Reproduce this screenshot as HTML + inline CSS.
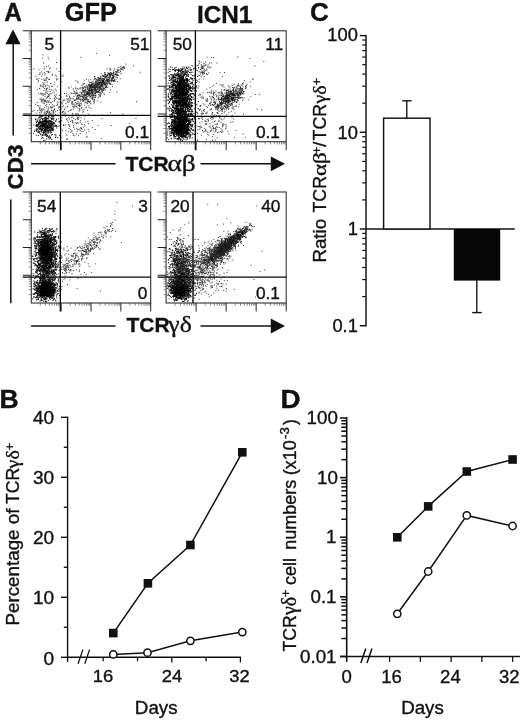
<!DOCTYPE html>
<html><head><meta charset="utf-8"><title>Figure</title>
<style>
html,body{margin:0;padding:0;background:#fff;}
body{width:520px;height:722px;overflow:hidden;font-family:"Liberation Sans",sans-serif;}
text{stroke:#111;stroke-width:0.35px;paint-order:stroke;}
svg{display:block;filter:grayscale(1);font-family:"Liberation Sans",sans-serif;}
</style></head><body>
<svg width="520" height="722" viewBox="0 0 520 722">
<defs><filter id="bl" x="-5%" y="-5%" width="110%" height="110%"><feGaussianBlur stdDeviation="0.38"/></filter></defs>
<rect width="520" height="722" fill="#fff"/>
<text transform="translate(4.20 21.30) scale(0.96 1)" font-size="25.3" font-weight="bold" text-anchor="start" fill="#111">A</text>
<text transform="translate(-0.60 407.70)" font-size="26.5" font-weight="bold" text-anchor="start" fill="#111">B</text>
<text transform="translate(309.90 21.40) scale(1.02 1)" font-size="25.5" font-weight="bold" text-anchor="start" fill="#111">C</text>
<text transform="translate(280.60 407.70) scale(1.05 1)" font-size="26.5" font-weight="bold" text-anchor="start" fill="#111">D</text>
<text transform="translate(64.80 21.20) scale(0.99 1)" font-size="25.6" font-weight="bold" text-anchor="start" fill="#111">GFP</text>
<text transform="translate(196.90 22.80) scale(0.98 1)" font-size="24.8" font-weight="bold" text-anchor="start" fill="#111">ICN1</text>
<path d="m122.4 67.3h1m-.7 .7h1m-.8-1.1h1m-.3 .1h1m-.7 1.2h1m-15.6 1.8h1m5.1 1.9h1m-.8-.3h1m.3-1.5h1m-.6 1.7h1m1.2-1.9h1m-.6 1.8h1m-.6-2.7h1m.3 .3h1m-18.6 3.5h1m-.3 1.7h1m1.8-1.6h1m-.6 .9h1m-.7-.2h1m-1 .3h1m0 .5h1m-.6-1.5h1m-.2 1.5h1m-.9-1.1h1m-.3 1.4h1m-.9-1.4h1m.4 1.5h1m-.8-1.6h1m-.9-.6h1m-.9-.6h1m1 2.2h1m-.7 .2h1m.4 .4h1m2.8-1h1m-27.6 2.8h1m3.1 1.2h1m3.7-1.2h1m-.7-.5h1m.2 0h1m-.8 .9h1m-.8 .4h1m-.1-.9h1m-.3 .1h1m-.9-.7h1m-.7-.6h1m-.8 0h1m-.9-.2h1m-.2 2.3h1m.5-.7h1m-1-1.5h1m-.9 .3h1m1.5 0h1m-.6 1.9h1m-.9-2.3h1m-.9 .7h1m-.9 2h1m-.8-1.2h1m-.9 1h1m-.2-.9h1m-19.7 2.1h1m1.3 1.4h1m-.7-1.1h1m.3 1.2h1m-.5-2.1h1m-.8 .5h1m-.7-.1h1m.5 1.3h1m-.9-1.5h1m-.7 .4h1m-.9 1.8h1m-.4 .2h1m-.7 .1h1m-.9-.4h1m-.6-1.3h1m-.7 .2h1m-.2-1h1m.1 2.1h1m-.6-1.3h1m-.2-1.2h1m-.8 2.4h1m-.7-.2h1m-.7-.6h1m-.8 .7h1m-.9-.8h1m-.1 .3h1m-.8-1.6h1m-.4 2.2h1m.4-.4h1m-.3-1.9h1m.2 .1h1m-.8 2.5h1m-.2-.8h1m-.6 .8h1m-25.7 1.9h1m1.9 1h1m-.1-.4h1m1.1-1.4h1m-.1 .1h1m-.5 1.7h1m-.6-.6h1m-.1-.6h1m-.1 .1h1m-.9 .8h1m-.4-.4h1m-.9-1.8h1m-.8 1.5h1m-.2 .9h1m-1 .2h1m-.6-1.2h1m-.9 .6h1m-.8-.5h1m-.8-.8h1m-.7 1h1m-1-1.3h1m-.3 1.7h1m-.8-1.8h1m-.6 2h1m-.9-.1h1m-.9-.8h1m-.1 .5h1m-.8-1h1m-.1 1.9h1m-.6-.2h1m-.8-.8h1m-.5-1.2h1m-.2-.7h1m-.6 1h1m-.8-.2h1m.2 1.5h1m-.8-.3h1m.4-1.3h1m.9-.3h1m.6 0h1m-33.7 4.5h1m6.6-.4h1m-.4 1.1h1m-.8-.3h1m-.6-1.2h1m-.4 .7h1m-.8 0h1m-1 1h1m-.9-2.2h1m-.1 2h1m.1-1.5h1m-.7-.1h1m-.9 1h1m-1-.6h1m-.9 .9h1m-.2-1.9h1m-.7 2.4h1m-.7-2.7h1m-.9 .3h1m-.5 2.1h1m-1-.1h1m-.7-1.3h1m-.8 1.6h1m-.8-.6h1m-.5-.8h1m-.9 .3h1m-.8-1.4h1m-.2 .4h1m-.9 .3h1m-.9 1.3h1m-.9-1.8h1m.9 1.5h1m-.9-.1h1m-.5-.8h1m-.7 .9h1m-.5-.2h1m-.9-.3h1m-.5 .9h1m-1-1.3h1m-.8-.1h1m.9-.5h1m-.6-.1h1m0 2.2h1m-.8-.2h1m-24.3 1.9h1m1.8-.3h1m.8 .6h1m-.4 1.4h1m-.2-2.9h1m-1 .7h1m-.7 1.1h1m-.6-.1h1m.2 1.2h1m-.5-.5h1m-.7-1.2h1m-.4-.7h1m-.3 2.1h1m-.9-2.5h1m-.1 1h1m-.5-.3h1m-.9 .2h1m-.9 1.9h1m-.9-.1h1m-.8-2.2h1m-.6 .7h1m-.7-.7h1m0-.3h1m-.7 .8h1m-.7 .9h1m.2-1.9h1m-.8 2h1m-.5-1.1h1m-1-.6h1m-.2 2.1h1m-.4-1.8h1m1.2-.3h1m.1 1.3h1m-.8 0h1m.1-1.2h1m.4 .2h1m-24.9 3.1h1m-.8-.4h1m-.6 1.5h1m-.2 0h1m-.7-1.6h1m-.7 1.9h1m1.8 .6h1m-.1-2.2h1m-.9 1.9h1m-1-2.1h1m-.9-.2h1m-.9 2.1h1m-.8-.4h1m-.6-1h1m-.9-.9h1m-.4 .6h1m-1 .3h1m-.9-.5h1m0 .1h1m-1-.3h1m-1 2.4h1m-.1-2.4h1m-.4 .7h1m-.9 .7h1m1.3 1.1h1m-.2-2.3h1m-.8 .5h1m-.1 .6h1m-.1 .8h1m-1-1h1m-.4 .2h1m0-1h1m2.9-.4h1m-.7 .3h1m-28.6 3h1m2.3 2h1m3.5-.6h1m-.9 .2h1m.7 .5h1m-.4-1.9h1m-.7-.3h1m-.6 1.5h1m-.7-.9h1m-1-.3h1m-.7 .7h1m-.5-.5h1m-.4-.3h1m-.8-.3h1m-.7 1.2h1m-.9-.4h1m-.9 .4h1m.8-.4h1m-.6 1.4h1m-.7-.5h1m-.5-1.3h1m-.4 1.9h1m-.3 0h1m-.8-1.9h1m.1-.4h1m-.9 .3h1m-.9 2.2h1m-.4-.6h1m3.1 0h1m-31.3 1.3h1m6.3 2.3h1m6-.4h1m.3-1h1m4.1-1h1m3.7 1h1m-19.1 1.8h1m4.4 .4h1m-1 .2h1m.5 1.4h1m.5-1.5h1m1.4 1.8h1m-.9-1.6h1m-.5 .2h1m-13.6 2.6h1m3.3 1.1h1m8.2-1.7h1m.7 1.9h1m-13.2 1.8h1m-.5-.6h1m-.4 .5h1m-1.3 3.3h1m.7-.8h1m-37.3 5h1m1.8-.4h1m1-.8h1m2.4-.3h1m-17.3 4.2h1m-.8-.4h1m1.3 1.5h1m.5-1.3h1m-.7 1h1m-.1-.4h1m-.7-.1h1m-.4-.8h1m-.7 .2h1m-.1 .1h1m0 .4h1m-.5-1.1h1m-.5 1.1h1m1.1 .5h1m-.1-.5h1m3.5 .3h1m-19.2 2.9h1m-.8 .6h1m.4-.8h1m.8 0h1m-.2-1.3h1m-.3 2.1h1m-.2-1.2h1m.1 0h1m-.8 1.3h1m-.8-.4h1m.1-.8h1m-.5 0h1m-.6-.2h1m-.7-.9h1m-.7 2.2h1m-.7-2.3h1m-.9 1.5h1m-.9 .6h1m-.3-1.1h1m-.8-.7h1m-.8 .8h1m-.3 0h1m-.8 .1h1m-.1-.9h1m1.6 .8h1m-.6 0h1m-.6 .7h1m-.1-.9h1m-.8-.1h1m-.9 .6h1m2.2 .4h1m-21.3 2.7h1m-.6 .6h1m-.3-1.4h1m-.8 .1h1m0 1.1h1m-.7 .1h1m-.6-1.7h1m-.6 1.7h1m-1-.8h1m-.7-1.5h1m-.9 2.6h1m-.5-.8h1m-.9-.4h1m-1 .8h1m-.1 .5h1m-.7-1.1h1m-.9-.1h1m-.5-.2h1m-.8 .6h1m-1 .7h1m-.3-.5h1m-.9-.9h1m-.6 .1h1m-.9-.2h1m-.9-.5h1m-.8 1.1h1m-1-1.2h1m-.9 1.3h1m-.8-2h1m-.7 .8h1m-.9 .8h1m-1-1h1m-.9 .9h1m-.9-.9h1m-.8 2.3h1m-.9-.9h1m-.9 .5h1m-1-1.3h1m-1-.3h1m-.7 .5h1m-.8-.3h1m-.8-.1h1m-.9-.7h1m-.9 .3h1m-1 1.2h1m-1-1.5h1m-.9 .1h1m-.7 2.2h1m-1-1.5h1m-.9 1.5h1m-1-2.4h1m-.7 2h1m-1-.4h1m-.6-.6h1m-.9 .2h1m-.6 .2h1m-.9 .7h1m-.8-.3h1m-.8-1h1m-.9 1.9h1m-.8-.2h1m-.6 0h1m-1-1.7h1m-.7-.2h1m-.8-.5h1m-.8 .3h1m-.9 .3h1m-1 .7h1m-1-.3h1m-.2 .4h1m-1 .2h1m-.8 .7h1m-.8-1.6h1m-.9 1.4h1m-.8-.5h1m0 0h1m.1 .7h1m1.2-1.4h1m2.5 .2h1m-26.6 3.6h1m1.2 .5h1m-.6-1.2h1m-.8 1h1m-.9 0h1m-.9-.5h1m-.4 .7h1m-.7-1.3h1m-.6 .4h1m-1 1.3h1m-.7-1h1m-.7-.6h1m-1-.8h1m-.8-.1h1m-.5 .7h1m-.3 .7h1m-.5-1.6h1m-.9 2.6h1m-1-.3h1m-.4-1.4h1m-.9 1.1h1m-1-1.8h1m-.5 1.5h1m-1 .1h1m-.8 .8h1m-1-.8h1m-.9-1.1h1m-.9 1.5h1m-.7-.4h1m-.9 .7h1m-.8-2.2h1m-1 1.2h1m-.8-.4h1m-.9-.9h1m-.7 1.8h1m-1-1.1h1m-.8 1.5h1m-1-.6h1m-.9 .2h1m-1-2.1h1m-.7 1.7h1m-.7 1h1m-1-.1h1m-1-1.9h1m-.9 0h1m-.9 1h1m-.9-1.4h1m-.8 2.3h1m-.9-1.3h1m-1 .1h1m-.5-.8h1m-1 .2h1m-1 1.4h1m-.8-.9h1m-.5-.4h1m-1 .9h1m-.9-1.3h1m-1-.3h1m-.7 2.5h1m-.8-2.6h1m-.9 2.2h1m-1-1.1h1m-.8 1.5h1m-.8-.1h1m-.5-.1h1m-1-1.8h1m-.9 1.3h1m-.5-.9h1m-.3 .8h1m-1 .2h1m-1-1.5h1m-.7 .4h1m-1 .9h1m-.6 .2h1m-.9-1.1h1m-.9 1.7h1m-.9-1.2h1m-.8-.6h1m-.6-.6h1m-.9 .2h1m-.5 1.9h1m-1-1.2h1m-.8-.1h1m-.9-.3h1m-.7 .3h1m-.8 .3h1m-1-1.2h1m-.9 .9h1m-.7 .6h1m-.6-.7h1m-1 .6h1m-.5-1.5h1m-.5 1.9h1m-.9-2h1m-.8 .2h1m-.6-.1h1m.1 1.9h1m-.6 .6h1m-.6-.1h1m1.7 .3h1m-24 .6h1m-.4 2.3h1m-.9 .1h1m-1-2.3h1m-.2 .2h1m-.1 .4h1m-.6 1.5h1m-.9-.4h1m-1-2.2h1m-.8 1.1h1m-.7-.7h1m-.8 2.3h1m-.9-2.4h1m-.7 2.2h1m-.9-.1h1m-1-2.1h1m-.7 1h1m-.7-1.2h1m-1 2.4h1m-.6-.7h1m-.6-1.5h1m-.3 2.4h1m-.8-2.1h1m-1 1.1h1m-.9-1.6h1m-.9 .6h1m-.9-.8h1m-1 .6h1m-.7 0h1m-.9-.3h1m-.8 2.2h1m-1-2.2h1m-.8 .3h1m-.6-.2h1m-.9 .2h1m-.9 .9h1m-1-.2h1m-.9 .6h1m-.9-.9h1m-.9 .4h1m-.9-.3h1m-.7-.2h1m-1-.4h1m-.9 1.4h1m-.8-.8h1m-.9 .1h1m-1-.9h1m-1 2.3h1m-.9-.1h1m-1-1.1h1m-1-1h1m-.8 .8h1m-.9 1.2h1m-.9-1h1m-.8-.9h1m-1 1.5h1m-.8-.4h1m-.9-.5h1m-.8 0h1m-1 .1h1m-.9 1.7h1m-.8-.5h1m-1-2.1h1m-.9 1.3h1m-1-.8h1m-.9-.3h1m-1 .1h1m-.9 .4h1m-1 .5h1m-.9 1.4h1m-1-2.3h1m-.9-.4h1m-.7-.1h1m-1 1.3h1m-1 1.2h1m-.8-1.2h1m-.7 .7h1m-.8 .6h1m-.9-1.5h1m-1-1.1h1m-.8 1.9h1m-.8-.9h1m-.9-.9h1m-.9 .8h1m-.8 .4h1m-.8-1.2h1m-.8 1.3h1m-.8 .7h1m-.5-.8h1m-.9-1.1h1m-.9 2.6h1m-.7-2.9h1m-1 .2h1m-1 .7h1m-.9 .9h1m-.8 .3h1m-.4-.4h1m-1-1h1m-1 1.8h1m-.7 .1h1m-.6-2.6h1m-.7 2.5h1m-.9-1.4h1m-.4 .9h1m-.6-1.9h1m-.7 .1h1m.5-.1h1m-.4 .8h1m.6-.5h1m-24.4 5h1m-.4-1.2h1m.4 .6h1m-1 .1h1m-.4-1.4h1m-1 .4h1m-.6 2h1m0 0h1m-.8-1.1h1m-.5 .7h1m-.9-2.3h1m0 .4h1m-.4 1.5h1m-.6 .5h1m-1-.6h1m-.6-1.1h1m-.9-.6h1m-1 .7h1m-.7-.9h1m-1 1.3h1m-.8-.7h1m0 1.3h1m-.9-.2h1m-.5 1h1m-.4-2.1h1m-.9 .9h1m-.9 .4h1m-1 .8h1m-.9-2.7h1m-1 1.4h1m-.8-.4h1m-.9-.4h1m-.7 1.8h1m-1-1.1h1m-.9-1.4h1m-1 2.6h1m-1-.9h1m-.9 .9h1m-1-1h1m-.9 .9h1m-1-1.1h1m-1 .9h1m-.9-1.3h1m-.8-.6h1m-1 1.7h1m-.8-1.2h1m-.3-.4h1m-.7 .3h1m-.9 1h1m-.9 .2h1m-.5-2h1m-.7 1.8h1m-.8 .7h1m-.7-.5h1m-.9-.5h1m-.6-1.4h1m-.9 1h1m-.8-.5h1m-.5 .2h1m-.8 2h1m-.9-1.2h1m-.7 0h1m-.7 1.2h1m-.6-2.3h1m-.3 1h1m-1-.2h1m-.8-.8h1m-.8-.4h1m-.9 1.4h1m-.7 .1h1m-.9-.6h1m-.1-.2h1m-21.2 3.6h1m4.2-.9h1m-.6 .1h1m-.2 1h1m-.4 .7h1m.6 .3h1m-1-1.9h1m.3 .6h1m-.7-1.2h1m-1 .3h1m-.8 .1h1m-.7 .5h1m.2 1.4h1m-.9-.6h1m-1-1.7h1m-1 2.6h1m-.6 .1h1m-.9-.8h1m-.2 .1h1m-1-1.9h1m-.8 .6h1m.6 .3h1m-.8-.5h1m.7 .4h1m.1-.5h1m-.3 2.1h1m1.5 .1h1m-.1 .1h1m-20.6 .5h1m1.4 .3h1m2.8-.1h1m-1 2.1h1m0-2.6h1m.1 0h1m.3 .1h1m-.5 .1h1m-.7 1.3h1m-.4-.3h1m-.7-.8h1m-.3 2.3h1m-.7-.8h1m-.1-.9h1m-.8 1.9h1m0-.5h1m-.1-2.4h1m3.1 2.5h1m-.6-1.5h1m.7 1.6h1m-14.9 2.9h1m.2-.3h1m.7-1.3h1m1.5 .1h1m.2-.9h1m.4 1.2h1" stroke="#000" stroke-width="1.0" fill="none" filter="url(#bl)"/>
<path d="m96.1 53.4h1m-54.5 1.5h1m65.5 .5h1m-67.9 2.8h1m4.4-.8h1m-.1 1.7h1m31-1.7h1m-25.5 5.1h1m-.8 .1h1m-14.1 .6h1m81.2 .9h1m6.8 1.6h1m-100.8 3.2h1m9.3-2h1m-.5 1.7h1m.9-2h1m1.1-.5h1m-.1 2.5h1m-.1-.8h1m5.3 1.1h1m49.5-.1h1m1.8-.6h1m3.4 .5h1m2.8-1.1h1m.9-.6h1m-.2 1.5h1m-.7-2.4h1m0 1.5h1m1.7 .2h1m-87 1.9h1m6.9 1.8h1m.2 .2h1m-.6-.5h1m9.6 .3h1m50.9-2h1m2.1 .7h1m1 1.2h1m.9-2h1m-.8 .6h1m-.5 .6h1m2.2-1.5h1m.5 1h1m-85.1 4.4h1m-.3-2.2h1m-.8 1.6h1m.7-1.9h1m-.4 2.2h1m.9-1.7h1m0 1.3h1m2.2-1.2h1m.3-.5h1m1.6 2.2h1m-.9 .6h1m47.7-1.1h1m2.6 .9h1m-.5-1.8h1m-1 1.2h1m.7 .6h1m.5-1.1h1m0 1.3h1m-.9-1.4h1m-.1 1.1h1m-.7-2.2h1m-.6 1.5h1m-.8-.5h1m-.8 .1h1m-1 .1h1m-.9 0h1m1.5-.6h1m-.8 1.8h1m-.1 0h1m-.6-1.1h1m-.7 .6h1m-.6-1.8h1m-.8 2.3h1m-.6-.7h1m-.5-2.1h1m.5 .5h1m20.3-.2h1m-105.2 3.7h1m4.5 .1h1m1.7-1.1h1m1.3 2.4h1m7.8-2.2h1m.1 .9h1m5.2 .2h1m-.5-1.2h1m30.7 2h1m1.9 .5h1m-.3 .2h1m.8-1.1h1m-.9 .5h1m-.3-1.1h1m.6-.8h1m-.5 .3h1m-.8 .7h1m-.7-.3h1m.3 1.4h1m-.9-2.1h1m-.4 1.6h1m-.9 .8h1m-1-.8h1m.1-1.1h1m.5 1.9h1m-.9-.2h1m-.6-1.5h1m.4 1.6h1m-.9-1.1h1m-.6-.9h1m1 2.3h1m-.8-.8h1m1.8-.1h1m-.4-2h1m-.7 2.3h1m-.4-1.9h1m-.7 2.4h1m-.7-2.2h1m-.9-.1h1m-.9-.2h1m-82.5 4.1h1m-.4-.4h1m.3 1.4h1m-.7-2.2h1m2.1 1h1m1.2 1.1h1m-1-1.3h1m-.3 1.5h1m.1-.3h1m-.8-1.6h1m-1 1.3h1m.5-1.8h1m0 1.1h1m-.1 .3h1m6-.6h1m-1 1.1h1m.4-.9h1m17 1.5h1m7.3-.4h1m1.2-.9h1m1.3 .7h1m1.1-.3h1m2.3-.1h1m-.6-.9h1m.6 2.1h1m-.6-1.5h1m-.9 .7h1m.5-.2h1m-.8 .3h1m-.4-.1h1m-.8 .2h1m-.8-1.2h1m-.5 .8h1m-.9-1.1h1m-.8-.2h1m-.4 .2h1m-.9 2.2h1m-.8-.8h1m-.4-.5h1m-.6-1.4h1m-.1 .2h1m-.9 .7h1m-.5-.3h1m-.1 .8h1m-.9 0h1m.6 .8h1m-.6-1.1h1m-.9 .6h1m1.4-1.8h1m-.4 .2h1m-.8 2.4h1m.4-1.4h1m-.5-1.1h1m-1 2.3h1m-1-.3h1m-.9 .5h1m-.7-.9h1m-1-.9h1m-1 1.3h1m-.8-1.6h1m-.8 1.5h1m-.7-2.1h1m.7 1.2h1m.6 .5h1m3.1-.9h1m-83.1 3.3h1m3.8 .7h1m.9-.6h1m1.6-.4h1m2.2 1.7h1m-.7 0h1m2.8-1.2h1m5.4-.6h1m15.6 0h1m-.6 1h1m4.2 1h1m.2-.2h1m3.6-1.7h1m.5 .8h1m.1 .3h1m-.8-.1h1m-.9-1h1m-.3 1.9h1m-.6-2.5h1m.6 1.7h1m-.1-1.4h1m-.6 1.1h1m-.9 .5h1m-.9-.3h1m.1-1.8h1m-.1 .3h1m-.8 .7h1m-.8 1.3h1m-.7-.1h1m-.8 0h1m-.4-1.3h1m-.9 1.6h1m-.1-.7h1m-.3 1h1m-.7-2.8h1m-1 1.2h1m.4 1h1m-.8-.7h1m.2 1.1h1m-.8-.3h1m-1-2.1h1m-.7 .9h1m-.3 1h1m-.8-2.1h1m0 .2h1m-.4 0h1m-.8 2.4h1m-.7-.5h1m0-1.4h1m-.9 .1h1m7.4-.1h1m-78.1 3.4h1m-.5 1.1h1m-.9-.3h1m.3 .7h1m-.4-1.5h1m-.5-1.1h1m-.6 2.2h1m.1-1.9h1m-.2 2.4h1m-.9-1.3h1m.9-.3h1m.2 .9h1m1.6 .2h1m0 .1h1m.7-1.6h1m2.1 1.9h1m12.8 .3h1m11.1-2.3h1m.8 2h1m.4-1.4h1m-.3 1h1m-.9 0h1m-.8 .6h1m.3-1.2h1m-.8-1h1m-.9 2.1h1m-1-2h1m-.8-.6h1m-.9 1h1m-.7-.3h1m-1 1h1m-.8-.7h1m-.1 .7h1m-.9-1h1m-.3 0h1m-1-.6h1m-.2 2h1m-1-1.4h1m-.9-.7h1m-.7 1.7h1m-.6 .6h1m-.6-.3h1m-.5-1h1m-.9 1.7h1m-.1-1.4h1m-.9-.4h1m-.7-1h1m-.7 .8h1m-.9 .9h1m-.3-1.5h1m-.8 .1h1m-.9 2.2h1m-1-2.1h1m-.6 .6h1m-.8 .8h1m-1 1.1h1m-.6-2.1h1m-.9 .2h1m-.9-.7h1m-.2-.3h1m-.5 2.4h1m-.8 .3h1m-1-.3h1m-.6-.2h1m-1-2.1h1m-.9 .3h1m-.9 .1h1m-.9 2.4h1m-1-1h1m-.5 .1h1m-.4-.2h1m-.8-1.2h1m-.7-.6h1m-1 1.2h1m-.8 .9h1m-.5-1.2h1m-.8 0h1m-.9 .3h1m.4 1.7h1m-.8-2.1h1m-1 .2h1m.3 .9h1m-1-.5h1m.2 .3h1m-.4-1.5h1m1.5 .1h1m-.5-.2h1m-.7 .1h1m.3 .3h1m-.6 2.1h1m-75.7 2.7h1m.8-1h1m-.8 .4h1m2.6-1h1m.2 .7h1m.4 1.2h1m-.6-1.2h1m-.7 1h1m-.9-.6h1m-.6-.7h1m1.1 1.4h1m-.9-1.7h1m.7 1.8h1m3.2-.5h1m12.4-1.4h1m-.9 .5h1m3.4 .6h1m-.4 1.1h1m.8-1.8h1m-.9 .1h1m.6 .4h1m.4 .6h1m.2-.8h1m0-1.1h1m-.8 1.7h1m.5-1.3h1m-.8 2.1h1m-.8-1.5h1m-.7-.2h1m-.6 0h1m-.3-1.1h1m-.5 .1h1m-.6 2.8h1m-.8-.5h1m-.6-1.7h1m.4 1.8h1m-.8-2.3h1m.7 1.5h1m-.8 1.1h1m.1-2h1m-.9-.3h1m-.7 .7h1m-.7-.2h1m-.9 1h1m-.9-1.6h1m-.4 .4h1m-.4 2.1h1m-.9-.8h1m-.9 .6h1m-1-2.3h1m-.2 .2h1m-.8 .2h1m-.9-.7h1m-.7 2.3h1m-.9-.9h1m-.7-.9h1m-.6 1.2h1m-.9-.7h1m-.8 1.4h1m-.7-1.9h1m-.8 2.2h1m-.8 .1h1m-.7-2.9h1m-.4 2.3h1m-.8-2.3h1m-.8 2.6h1m-.3-2.4h1m-.3 .7h1m-.9 1.7h1m-.6-1.6h1m-.4 .5h1m-1-1.5h1m-.8 2.3h1m-.5-1.4h1m-.5 .2h1m-1 .2h1m-.6 1.4h1m-.9-.9h1m-.9 1h1m-.7-.5h1m-.3-.1h1m-.5-.7h1m-.7 .1h1m.9 1.1h1m1.6-2.5h1m-65.1 3.4h1m.9 1.7h1m-.6 .6h1m-.5-2h1m.4 .4h1m1.2 .3h1m1.7 1.3h1m-1-2.9h1m.3 2h1m1.1-1.3h1m13.8 2.2h1m2.2-1.3h1m-.7 1.3h1m-.4-.8h1m.2 .8h1m-.6-2.6h1m-.7 1.9h1m2 .1h1m.6 .3h1m-.4-.6h1m0-1.2h1m0 2.1h1m-.2-2.3h1m-.7 .6h1m-.4-.3h1m-1 1.2h1m-.5-.3h1m-.5 1.1h1m-.7 0h1m-.7-1.4h1m-.8 .9h1m-.9 .1h1m-.9-1.5h1m-.1-.4h1m-.7-.1h1m-.2 .2h1m-.2 1.1h1m-.5 1h1m-.9-.9h1m-.4 .7h1m-.9-.8h1m-1-.4h1m-.9 1.3h1m-1-.9h1m-1 .1h1m-.3-1.6h1m-.2 2.1h1m-.8-1.2h1m-.5-.6h1m-.6-.5h1m-.7 1.3h1m-.3-.5h1m-.8 1.5h1m-.8-.8h1m-.9-.1h1m-.9-1h1m-.8 2h1m-.6-.2h1m.1-1.3h1m-.2 1.5h1m-.9-1.5h1m-.6 1.7h1m-.8-.5h1m.2 .5h1m-.6-1.4h1m-.4-.5h1m-.4 1.5h1m-1-2.2h1m-.9 1.3h1m6.3 .9h1m0-2.3h1m5.1 2h1m-79.1 1.7h1m1-.5h1m-.7 .4h1m-.5 1.1h1m-.1-.8h1m-.3 1.4h1m-.5-1.3h1m.3 .7h1m-1-.9h1m1.5-.5h1m.2 1.3h1m-.7 .4h1m-.2-1.1h1m.2 0h1m2.6 1.4h1m.7-.6h1m2.2 .5h1m4-1.7h1m1-.2h1m-.9 2.2h1m1.3-.6h1m1.3-1.2h1m.7-.1h1m-.1 .1h1m.9 1.3h1m-.3-1.4h1m-.6 0h1m-.5 2.1h1m-.6-2h1m-.8 1.9h1m-.8-.2h1m-.7-.5h1m-.4 .1h1m0-.6h1m0 1.2h1m-.6-2.6h1m-.9 .7h1m-.7-.3h1m-.6 .9h1m-.1 .4h1m-.3 1.1h1m-.5-.1h1m-.8 0h1m-.9-1.9h1m-.4 .5h1m-.6 .5h1m-.6-.2h1m-1 .4h1m-.7-.4h1m-.8-.7h1m.6 .2h1m-.8-.6h1m-.8-.3h1m-.9 .1h1m-.8 2.1h1m-.9-2.2h1m-.9 1.5h1m-.9 .6h1m-1-.9h1m-.5-1h1m-.8 .6h1m-.8-.6h1m-.9 2.3h1m-.9-1.9h1m-1-.5h1m-.8 .4h1m1-.7h1m-.3 2h1m-.9-.5h1m.7 .6h1m-.7 .3h1m1.6-2.4h1m-.2 1.8h1m.5-.6h1m-.9 1.2h1m-.3-1.9h1m-.6 .5h1m1.6-.8h1m-.6 1.3h1m-64 3.4h1m2.8-1.5h1m.4 1.9h1m-.3-.8h1m-.6-.6h1m-.5-.6h1m-.9-.2h1m-.8 .4h1m.1-.5h1m-.4 2.6h1m-.9-.1h1m3.2 .1h1m-.8-.6h1m-.2-1.6h1m-.4 .9h1m-.2 1.1h1m1.3 .5h1m1.1-1.6h1m4.5 1.6h1m-.8-2.4h1m.5 2.2h1m.4-1.2h1m-.5 1.2h1m.6-.2h1m1.1-1.8h1m1.6 .5h1m-.4 .7h1m-.8-1.6h1m0 2.5h1m-1-.8h1m-.8 .8h1m-.9-1.9h1m-1 1h1m-.8-.2h1m.1-1.1h1m-.7-.1h1m-.3 1.7h1m-.6-1.9h1m-.2-.3h1m-.7 1.2h1m-.9-.7h1m-.8 .2h1m-.9 0h1m-.6 1.4h1m-1 .8h1m-.4-1.6h1m-.9 .6h1m-.6-1.8h1m.2 1.8h1m-.7 .1h1m-.9-.2h1m-1-.4h1m-.9 .5h1m-1-1.9h1m-.3 2.7h1m-1-1.6h1m-.9 1.8h1m-1-2.1h1m-.2-.5h1m.4-.1h1m-.1 1.9h1m-.6-1.5h1m-.6 .1h1m0 1.9h1m-.8-1.4h1m-.7 1.2h1m-.9-1.7h1m-1 1.4h1m-.6 .4h1m-.2-1.2h1m-.9-1.3h1m.1 1.8h1m-.1-.7h1m1.6 .8h1m-.2-1.2h1m.2-.1h1m-61.3 2.5h1m0 .4h1m-.7 1.2h1m-.9 1.2h1m-.8-2h1m.1 .3h1m-.9 1.1h1m-.7-2.2h1m-.7 0h1m-.3 1.7h1m-.7-.1h1m-.5-.7h1m-.9 1.4h1m-.7-.6h1m-.8-.5h1m-.5 1.4h1m-.3-.7h1m.4 0h1m-1 .9h1m.4-1h1m2.2 .8h1m.7-.8h1m-.9-.2h1m-.3-1.1h1m2.7-.4h1m-.7 0h1m3 1.1h1m-.2-.1h1m-.1-.2h1m1.9-.9h1m-.8 1.2h1m.3 1.5h1m-.5-1.7h1m-.5 0h1m.3 1.8h1m-.1 0h1m-.7-.1h1m-.6-2.8h1m.1 .9h1m-.8 .5h1m0-.4h1m-.8 .3h1m0-1.3h1m.2 2.3h1m.3-2.1h1m-.3-.1h1m-.4 2h1m-.8-1.4h1m-.7 .3h1m1 1.1h1m-.7-.6h1m-.9-.3h1m-.6 .8h1m-.3-1.5h1m-.9 .3h1m.2 0h1m-.6-.1h1m.3 .4h1m-.2 1.5h1m-1 .3h1m-.4-.2h1m-.1-.1h1m-.2-.3h1m.7-1.5h1m-.2-.5h1m-.4 2.1h1m-.4 .4h1m-1-1.5h1m-.8-.7h1m1.8 1.2h1m38.3 1h1m-102 2.5h1m.7-1.8h1m4.6 .4h1m.1 .1h1m-.5 .7h1m.9 .7h1m-.5-1.9h1m.8 0h1m-.1 2.1h1m.2-1.9h1m-.5-.1h1m.3 2.2h1m3.6-2.7h1m-.9 1.9h1m-.7 .5h1m.1-2.3h1m1 1.1h1m-.6-.6h1m.5 1.2h1m-.7-1.9h1m1.9 1.4h1m1-1.1h1m-.9-.2h1m2.8 1.5h1m-.6 .6h1m-.3-1h1m-.6 1.5h1m0-.5h1m1.3-.4h1m-.7 .9h1m-.5-1.2h1m-.2-.2h1m-.2-1.2h1m-.3 2h1m.9-.9h1m-.8 1.7h1m2.5-2.1h1m-.4-.5h1m-.5 .6h1m-.1-.7h1m-.8 1.4h1m1.9-.4h1m2.6 .5h1m-.4-1.6h1m5.4 .1h1m-64.4 3.2h1m.2 .7h1m.4-.2h1m3.5 1.7h1m.1-2h1m0 1.1h1m.7 .4h1m1.4-.7h1m-.9 1h1m-.8 .3h1m-.1 0h1m-.3-.7h1m.3-1.2h1m-.7 .6h1m1.6-.9h1m.7 2.4h1m-.4-1.5h1m-1 1h1m-.3-.8h1m.1 1.3h1m.7-1.1h1m-.5-.9h1m1.7 1.1h1m.6-.2h1m4.1-.5h1m-.3 .8h1m-.3 0h1m-.2-.1h1m-.8-.9h1m-.9-.9h1m.2 1.3h1m-.4 .4h1m.4-1.7h1m.5 .8h1m-.9 .5h1m1.2 1.2h1m1.6-2.4h1m-.5 2.5h1m.3-.5h1m1.2-1.6h1m-.6 1.7h1m-55.8 3h1m2.6 .1h1m.6-2.2h1m-.9 1.6h1m-.8-1.9h1m-.3 2.3h1m-.4-1.9h1m-.7 1.4h1m-.2 .7h1m-.5-1.5h1m-.3 .2h1m.5 .8h1m2.1 .5h1m-.9-1.2h1m-.9-.9h1m1.8-.4h1m-.2 2.2h1m-1 .2h1m.6 .3h1m.1-.7h1m-.9-1h1m-.9 .6h1m1.9 .9h1m1.4-.7h1m-1-.1h1m3.4-.3h1m-.8-.2h1m4.7 1.3h1m-.9-.3h1m.3-.3h1m.9-.8h1m3.2-1h1m1 2.2h1m1.4-.3h1m.8-.4h1m2.6 .7h1m2.1-2.1h1m-58.9 3.1h1m2.4 1.9h1m2.5-.8h1m.6-1h1m-.9 1.4h1m1.6 .1h1m-.1-.9h1m.3 0h1m-.7 1.6h1m-.6-2.1h1m-.8 .4h1m-.7-.7h1m-.7 1h1m.4-.4h1m-1 1.7h1m-.4-.9h1m-.1 1.2h1m.3-.6h1m.6-.6h1m-.4 .5h1m.7-1.4h1m3.4 .6h1m-.9-.1h1m1.1 .4h1m-.5-.3h1m-1-.8h1m-.3-.1h1m.1 2.5h1m-.7-1.7h1m-.2 1.5h1m1.5-2.4h1m3.4 2.1h1m1.8 .5h1m.6-.5h1m1.2-2.4h1m2.4 1.1h1m.1-.3h1m3.5 2.1h1m21.1-1.4h1m11.5 1.4h1m-83.8 .3h1m-.7 2.2h1m-.1-.8h1m2.7-.5h1m-1-.1h1m.3 .2h1m-.6-.3h1m1.1-.6h1m.2 0h1m.5 2.5h1m-.8-.4h1m-1-2.1h1m-.1 2.3h1m-.4-2.6h1m-.5 2.4h1m-.8 .5h1m.7-2.4h1m.3 .9h1m.1 .4h1m4-1.7h1m1.4 2.1h1m5.9-2.2h1m.1 1.3h1m2.3 .6h1m-.9-1.5h1m.8-.3h1m-.8 1.6h1m1.8-.4h1m2.7 .7h1m-47.5 1.6h1m.4-.2h1m.3 .6h1m2.3 .6h1m-.2-.1h1m-1-1.3h1m-.6 1.6h1m1.4-.7h1m-.8-1h1m-1 .2h1m1 .5h1m.1 1.6h1m-.5-2.3h1m-.9 2.5h1m.4-.9h1m-1-.1h1m4.1 0h1m2.1-1.3h1m3.8 2h1m-.7-.6h1m.6-1.3h1m0 1.6h1m.7-1.7h1m.4-.2h1m-.1 1.3h1m.8 1.3h1m.7-.9h1m-.5 .2h1m-.7-1.8h1m-1 1h1m-1-.6h1m-.7 2h1m-.2-1.9h1m1 .1h1m2.2 1.1h1m16.7-.2h1m33-.4h1m-99.8 2.6h1m3.7 .5h1m.3-.8h1m.8 .9h1m.2-.6h1m-.2-.5h1m-.5 1.6h1m.3-2h1m-.7 .5h1m2 1.5h1m.7 .2h1m-.9-2h1m.8 1.1h1m-.7-1h1m1.9 1.5h1m0 1h1m-.6-1.8h1m-.1-.7h1m-.9 .7h1m5.5-.1h1m-.3 1.5h1m1.2-.8h1m.2-1.4h1m-.4 .9h1m-.9 1.4h1m-.9-1.8h1m1.5 2.1h1m1 0h1m-.5-.4h1m1.7-.1h1m-.9-1.7h1m3.8 1.4h1m1.7-.7h1m3.2-.7h1m-51.1 2.6h1m.8 .7h1m1 1.3h1m-.7-.1h1m-.8-.6h1m1.7 1.1h1m-1-2.1h1m-.9 1h1m-.4 1.4h1m-.1-.9h1m.2-.9h1m-.8-1h1m.3 .1h1m.6 2.1h1m4.6 .1h1m2.1-.6h1m-.9 .7h1m.9-.5h1m1.9-.3h1m-.3 0h1m2.9-1.7h1m-.6 2.7h1m1.9-2.1h1m.9-.4h1m2.3 .8h1m-.4 .3h1m1.2 .3h1m3-1h1m8.6 1.8h1m12.2 .1h1m17.5-1.7h1m-91.7 3.9h1m-.7 .9h1m1.4-.6h1m1.7-.1h1m1-.2h1m.6 .3h1m.3-1.6h1m.9 .7h1m4.5 1h1m3.1 .6h1m7.3-.1h1m-.5-2.6h1m-.9 .1h1m3 1.2h1m2 1.1h1m3-.5h1m-.9 0h1m-.3 .5h1m.7-1.2h1m.8-1.2h1m6.3 1.3h1m-51.8 3h1m1-.3h1m.7-.6h1m-.2-.2h1m-.8 .3h1m-.5 1.3h1m3.9-1h1m0 .6h1m9.1 0h1m2.2-.1h1m1.8 1.4h1m.9-2.1h1m.2 1.3h1m-.9 .3h1m1.8-1.9h1m1.5 2.1h1m-.4-1.7h1m-.7-.2h1m.6-.4h1m-.4 1.3h1m.7 1.1h1m-.8-2.1h1m-.1 2.3h1m.5-1.8h1m2.7-.6h1m-.4 2.1h1m5.5-1.9h1m37-.5h1m-63.7 3.4h1m1.2 1h1m2.4 .6h1m3-.3h1m5.2-.8h1m-46.3 3.1h1m6.9 0h1m-.2 .8h1m8.6-1.5h1m.2 .6h1m4.9-.7h1m5.8 .2h1m.5 .4h1m2.7-.6h1m6.7 1.8h1m0-.1h1m-46.6 1.5h1m.9-.2h1m22.2 1.3h1m-.6-.9h1m32.9-.1h1" stroke="#2a2a2a" stroke-width="0.9" fill="none" filter="url(#bl)"/>
<rect x="31.3" y="30.8" width="119.39999999999999" height="110.89999999999999" fill="none" stroke="#3a3a3a" stroke-width="1.15"/>
<line x1="60.60" y1="30.80" x2="60.60" y2="150.20" stroke="#050505" stroke-width="1.3" stroke-linecap="butt"/>
<line x1="22.80" y1="115.30" x2="150.70" y2="115.30" stroke="#050505" stroke-width="1.3" stroke-linecap="butt"/>
<line x1="40.29" y1="141.70" x2="40.29" y2="144.40" stroke="#444" stroke-width="0.65" stroke-linecap="butt"/>
<line x1="45.54" y1="141.70" x2="45.54" y2="144.40" stroke="#444" stroke-width="0.65" stroke-linecap="butt"/>
<line x1="49.27" y1="141.70" x2="49.27" y2="144.40" stroke="#444" stroke-width="0.65" stroke-linecap="butt"/>
<line x1="52.16" y1="141.70" x2="52.16" y2="144.40" stroke="#444" stroke-width="0.65" stroke-linecap="butt"/>
<line x1="54.53" y1="141.70" x2="54.53" y2="144.40" stroke="#444" stroke-width="0.65" stroke-linecap="butt"/>
<line x1="56.53" y1="141.70" x2="56.53" y2="144.40" stroke="#444" stroke-width="0.65" stroke-linecap="butt"/>
<line x1="58.26" y1="141.70" x2="58.26" y2="144.40" stroke="#444" stroke-width="0.65" stroke-linecap="butt"/>
<line x1="59.78" y1="141.70" x2="59.78" y2="144.40" stroke="#444" stroke-width="0.65" stroke-linecap="butt"/>
<line x1="61.15" y1="141.70" x2="61.15" y2="150.20" stroke="#222" stroke-width="1.0" stroke-linecap="butt"/>
<line x1="70.14" y1="141.70" x2="70.14" y2="144.40" stroke="#444" stroke-width="0.65" stroke-linecap="butt"/>
<line x1="75.39" y1="141.70" x2="75.39" y2="144.40" stroke="#444" stroke-width="0.65" stroke-linecap="butt"/>
<line x1="79.12" y1="141.70" x2="79.12" y2="144.40" stroke="#444" stroke-width="0.65" stroke-linecap="butt"/>
<line x1="82.01" y1="141.70" x2="82.01" y2="144.40" stroke="#444" stroke-width="0.65" stroke-linecap="butt"/>
<line x1="84.38" y1="141.70" x2="84.38" y2="144.40" stroke="#444" stroke-width="0.65" stroke-linecap="butt"/>
<line x1="86.38" y1="141.70" x2="86.38" y2="144.40" stroke="#444" stroke-width="0.65" stroke-linecap="butt"/>
<line x1="88.11" y1="141.70" x2="88.11" y2="144.40" stroke="#444" stroke-width="0.65" stroke-linecap="butt"/>
<line x1="89.63" y1="141.70" x2="89.63" y2="144.40" stroke="#444" stroke-width="0.65" stroke-linecap="butt"/>
<line x1="91.00" y1="141.70" x2="91.00" y2="150.20" stroke="#222" stroke-width="1.0" stroke-linecap="butt"/>
<line x1="99.99" y1="141.70" x2="99.99" y2="144.40" stroke="#444" stroke-width="0.65" stroke-linecap="butt"/>
<line x1="105.24" y1="141.70" x2="105.24" y2="144.40" stroke="#444" stroke-width="0.65" stroke-linecap="butt"/>
<line x1="108.97" y1="141.70" x2="108.97" y2="144.40" stroke="#444" stroke-width="0.65" stroke-linecap="butt"/>
<line x1="111.86" y1="141.70" x2="111.86" y2="144.40" stroke="#444" stroke-width="0.65" stroke-linecap="butt"/>
<line x1="114.23" y1="141.70" x2="114.23" y2="144.40" stroke="#444" stroke-width="0.65" stroke-linecap="butt"/>
<line x1="116.23" y1="141.70" x2="116.23" y2="144.40" stroke="#444" stroke-width="0.65" stroke-linecap="butt"/>
<line x1="117.96" y1="141.70" x2="117.96" y2="144.40" stroke="#444" stroke-width="0.65" stroke-linecap="butt"/>
<line x1="119.48" y1="141.70" x2="119.48" y2="144.40" stroke="#444" stroke-width="0.65" stroke-linecap="butt"/>
<line x1="120.85" y1="141.70" x2="120.85" y2="150.20" stroke="#222" stroke-width="1.0" stroke-linecap="butt"/>
<line x1="129.84" y1="141.70" x2="129.84" y2="144.40" stroke="#444" stroke-width="0.65" stroke-linecap="butt"/>
<line x1="135.09" y1="141.70" x2="135.09" y2="144.40" stroke="#444" stroke-width="0.65" stroke-linecap="butt"/>
<line x1="138.82" y1="141.70" x2="138.82" y2="144.40" stroke="#444" stroke-width="0.65" stroke-linecap="butt"/>
<line x1="141.71" y1="141.70" x2="141.71" y2="144.40" stroke="#444" stroke-width="0.65" stroke-linecap="butt"/>
<line x1="144.08" y1="141.70" x2="144.08" y2="144.40" stroke="#444" stroke-width="0.65" stroke-linecap="butt"/>
<line x1="146.08" y1="141.70" x2="146.08" y2="144.40" stroke="#444" stroke-width="0.65" stroke-linecap="butt"/>
<line x1="147.81" y1="141.70" x2="147.81" y2="144.40" stroke="#444" stroke-width="0.65" stroke-linecap="butt"/>
<line x1="149.33" y1="141.70" x2="149.33" y2="144.40" stroke="#444" stroke-width="0.65" stroke-linecap="butt"/>
<line x1="150.70" y1="141.70" x2="150.70" y2="150.20" stroke="#222" stroke-width="1.0" stroke-linecap="butt"/>
<line x1="28.60" y1="133.35" x2="31.30" y2="133.35" stroke="#444" stroke-width="0.6" stroke-linecap="butt"/>
<line x1="28.60" y1="128.47" x2="31.30" y2="128.47" stroke="#444" stroke-width="0.6" stroke-linecap="butt"/>
<line x1="28.60" y1="125.01" x2="31.30" y2="125.01" stroke="#444" stroke-width="0.6" stroke-linecap="butt"/>
<line x1="28.60" y1="122.32" x2="31.30" y2="122.32" stroke="#444" stroke-width="0.6" stroke-linecap="butt"/>
<line x1="28.60" y1="120.13" x2="31.30" y2="120.13" stroke="#444" stroke-width="0.6" stroke-linecap="butt"/>
<line x1="28.60" y1="118.27" x2="31.30" y2="118.27" stroke="#444" stroke-width="0.6" stroke-linecap="butt"/>
<line x1="28.60" y1="116.66" x2="31.30" y2="116.66" stroke="#444" stroke-width="0.6" stroke-linecap="butt"/>
<line x1="28.60" y1="115.24" x2="31.30" y2="115.24" stroke="#444" stroke-width="0.6" stroke-linecap="butt"/>
<line x1="22.80" y1="113.97" x2="31.30" y2="113.97" stroke="#222" stroke-width="1.0" stroke-linecap="butt"/>
<line x1="28.60" y1="105.63" x2="31.30" y2="105.63" stroke="#444" stroke-width="0.6" stroke-linecap="butt"/>
<line x1="28.60" y1="100.75" x2="31.30" y2="100.75" stroke="#444" stroke-width="0.6" stroke-linecap="butt"/>
<line x1="28.60" y1="97.28" x2="31.30" y2="97.28" stroke="#444" stroke-width="0.6" stroke-linecap="butt"/>
<line x1="28.60" y1="94.60" x2="31.30" y2="94.60" stroke="#444" stroke-width="0.6" stroke-linecap="butt"/>
<line x1="28.60" y1="92.40" x2="31.30" y2="92.40" stroke="#444" stroke-width="0.6" stroke-linecap="butt"/>
<line x1="28.60" y1="90.54" x2="31.30" y2="90.54" stroke="#444" stroke-width="0.6" stroke-linecap="butt"/>
<line x1="28.60" y1="88.94" x2="31.30" y2="88.94" stroke="#444" stroke-width="0.6" stroke-linecap="butt"/>
<line x1="28.60" y1="87.52" x2="31.30" y2="87.52" stroke="#444" stroke-width="0.6" stroke-linecap="butt"/>
<line x1="22.80" y1="86.25" x2="31.30" y2="86.25" stroke="#222" stroke-width="1.0" stroke-linecap="butt"/>
<line x1="28.60" y1="77.90" x2="31.30" y2="77.90" stroke="#444" stroke-width="0.6" stroke-linecap="butt"/>
<line x1="28.60" y1="73.02" x2="31.30" y2="73.02" stroke="#444" stroke-width="0.6" stroke-linecap="butt"/>
<line x1="28.60" y1="69.56" x2="31.30" y2="69.56" stroke="#444" stroke-width="0.6" stroke-linecap="butt"/>
<line x1="28.60" y1="66.87" x2="31.30" y2="66.87" stroke="#444" stroke-width="0.6" stroke-linecap="butt"/>
<line x1="28.60" y1="64.68" x2="31.30" y2="64.68" stroke="#444" stroke-width="0.6" stroke-linecap="butt"/>
<line x1="28.60" y1="62.82" x2="31.30" y2="62.82" stroke="#444" stroke-width="0.6" stroke-linecap="butt"/>
<line x1="28.60" y1="61.21" x2="31.30" y2="61.21" stroke="#444" stroke-width="0.6" stroke-linecap="butt"/>
<line x1="28.60" y1="59.79" x2="31.30" y2="59.79" stroke="#444" stroke-width="0.6" stroke-linecap="butt"/>
<line x1="22.80" y1="58.52" x2="31.30" y2="58.52" stroke="#222" stroke-width="1.0" stroke-linecap="butt"/>
<line x1="28.60" y1="50.18" x2="31.30" y2="50.18" stroke="#444" stroke-width="0.6" stroke-linecap="butt"/>
<line x1="28.60" y1="45.30" x2="31.30" y2="45.30" stroke="#444" stroke-width="0.6" stroke-linecap="butt"/>
<line x1="28.60" y1="41.83" x2="31.30" y2="41.83" stroke="#444" stroke-width="0.6" stroke-linecap="butt"/>
<line x1="28.60" y1="39.15" x2="31.30" y2="39.15" stroke="#444" stroke-width="0.6" stroke-linecap="butt"/>
<line x1="28.60" y1="36.95" x2="31.30" y2="36.95" stroke="#444" stroke-width="0.6" stroke-linecap="butt"/>
<line x1="28.60" y1="35.09" x2="31.30" y2="35.09" stroke="#444" stroke-width="0.6" stroke-linecap="butt"/>
<line x1="28.60" y1="33.49" x2="31.30" y2="33.49" stroke="#444" stroke-width="0.6" stroke-linecap="butt"/>
<line x1="28.60" y1="32.07" x2="31.30" y2="32.07" stroke="#444" stroke-width="0.6" stroke-linecap="butt"/>
<line x1="22.80" y1="30.80" x2="31.30" y2="30.80" stroke="#222" stroke-width="1.0" stroke-linecap="butt"/>
<text transform="translate(44.60 50.40) scale(1.03 1)" font-size="16.8" font-weight="normal" text-anchor="start" fill="#111">5</text>
<text transform="translate(149.50 50.40) scale(1.03 1)" font-size="16.8" font-weight="normal" text-anchor="end" fill="#111">51</text>
<text transform="translate(149.10 138.10) scale(1.03 1)" font-size="16.8" font-weight="normal" text-anchor="end" fill="#111">0.1</text>
<path d="m169.9 67.1h1m.8 .2h1m1.4 1.6h1m-.7-1.2h1m.2-.2h1m3.6 1.2h1m1.1-.4h1m-.8-1.3h1m0 1.6h1m-.2-1.4h1m.7 .5h1m-.7 .7h1m-.9-1.3h1m-.5 1.5h1m.2-1.5h1m.6 .7h1m2.8 .5h1m-26.3 .8h1m.3 2.4h1m-.7-2h1m1.2 .5h1m-.4-.5h1m-.6 0h1m-.1 1.1h1m-.2 0h1m-.7 .7h1m-.8-1.3h1m-.9-.2h1m-.4 0h1m-.3 0h1m-.1 .5h1m-.9 0h1m-.8-1.3h1m-.8 2.7h1m-1-.2h1m-1-1.4h1m-1 .8h1m-.7-1.2h1m-.3 .5h1m-.8-.3h1m-.7 1.6h1m-.9-.7h1m-.6 .4h1m-.9-.4h1m-.2-.7h1m-1 .6h1m-.6-1.6h1m-.7 .6h1m-.9 1.9h1m-1-1.9h1m-.9-.5h1m-.6 2.3h1m-.9-1.7h1m-.5 2.1h1m-.4-.7h1m.2 .6h1m-1-1.1h1m-.9-1.4h1m-.6 .8h1m-.4 1.6h1m-.5-.8h1m-.1 .2h1m-.3 .3h1m-.9-1.5h1m.7 .3h1m-.9-1h1m-.2 1h1m-.6-.4h1m1.1-.8h1m-26.3 3.3h1m1.7 2.2h1m-.7 .4h1m1.5-.2h1m-.2-.8h1m-.7-.5h1m-.6 1.1h1m.5-.9h1m-.8 1h1m-.4-.3h1m-.9-1.4h1m-1 1.4h1m-.8 .5h1m-.6-2.6h1m-.9 2.4h1m-.8-.9h1m-.3 .1h1m0 .8h1m-.9-.8h1m-.9-1.7h1m-.3 1.8h1m-.9 .1h1m-.5-1.4h1m-.7 1.7h1m-.8-.3h1m-.5-2h1m-.9 1h1m-.7-1h1m-.6 2.1h1m-.6 0h1m-.9-1.9h1m-.7 2.5h1m-.7 .1h1m-1-.9h1m-.7 .2h1m-.8-1.5h1m-.8-.6h1m-.9 1.5h1m-.8 .7h1m-.8 0h1m-.4-1.7h1m-.8 2.2h1m-.5-2h1m-.9 .2h1m-.4 1.1h1m-.2 .6h1m-.2-2.1h1m-.7 .1h1m0 .1h1m-.5-.5h1m-23.2 3.3h1m-1 .9h1m0 .9h1m.7-.2h1m-.5-2.1h1m-.8 0h1m-1 2.6h1m-.5-.7h1m-.7-.7h1m-1 .3h1m-.8-.9h1m-.7 1.8h1m-.9-.1h1m-.8-1.4h1m-.8 .3h1m-.8 1.3h1m-.8-.1h1m-.2 .1h1m-.9 .4h1m-.9-2.3h1m-.7 .4h1m-.8 0h1m-.5-.7h1m-.9 0h1m-.7 2.6h1m-.8-2.2h1m-.2 .3h1m-1 1.2h1m-.6-.9h1m-.9-.6h1m-.9 1h1m-.8-1.5h1m-.9-.2h1m-1 1.7h1m-.8-1.1h1m-.8 .9h1m-1 .4h1m-.9-.5h1m-.9 .7h1m-.8-1.7h1m-.6 2.4h1m-.9-2.1h1m-.9 .6h1m-.9 1.2h1m-.9-1.6h1m-.7 1.8h1m-.9-.2h1m-.9 0h1m-1 .3h1m-.6-2.5h1m-.6 1.1h1m-1 .7h1m-1-.1h1m-.7-.4h1m-1 .7h1m-.7-.6h1m-.8 .5h1m-1 .5h1m-.9-1.9h1m-.9 1.9h1m-.9 0h1m-.7-.9h1m-.9 .6h1m-.9-.2h1m-1-.3h1m-.9 .9h1m-.8-1h1m-1-1.4h1m-.6-.4h1m-.9 .6h1m.4 2.1h1m-.5-1.1h1m-.3-1h1m-.9 .3h1m-.7-.8h1m0 1.1h1m-.8-.1h1m.9 1.6h1m1.4-2.1h1m.5-.4h1m2.4 1.3h1m-29.3 3.9h1m-.7-1.9h1m-.4 2.3h1m-.3-1.5h1m-.7 .5h1m-.5-1h1m-.6 2h1m-.9-.7h1m-.8-1.3h1m-.3 1.3h1m-.7-1.3h1m-.6 1.8h1m-.9-2.6h1m-.4 1.9h1m-.3-.8h1m-.8 .5h1m-1 1.3h1m.7-2.2h1m-.9-.3h1m-1 1.2h1m-.7 1h1m-.8 .1h1m-.7-2.1h1m-.7 0h1m-.7-.3h1m-.9 .5h1m-.7 1.2h1m-.7-.8h1m-.7 1.3h1m-1-1.8h1m-.8 1.9h1m-.9 .3h1m-1-2.1h1m-.6 1.6h1m-.8-1.1h1m-.8-.8h1m-.7-.4h1m-.9 1.4h1m-1-.2h1m-.8 1.4h1m-1-2.4h1m-.6 1.2h1m-1 1.3h1m-.8-.8h1m-.9-1.1h1m-1 1.5h1m-.8 0h1m-1-.6h1m-1 .3h1m-.8-1.2h1m-.6 .8h1m-.9-1.4h1m-.8 .4h1m-.9 1.7h1m-1-1.9h1m-.9 1.1h1m-.9 1h1m-1-2.4h1m-.8 1h1m-.8 1.5h1m-.9-1.5h1m-.7 1h1m-.9-.2h1m-.4-.3h1m-.7 .7h1m-.8-1.3h1m-.5 1.6h1m-.8-1.4h1m-.9 .8h1m-.9-1h1m-.9-.5h1m-1 1.8h1m-.9 .4h1m-.9-1.2h1m-1 1.2h1m-.9 0h1m-.9-2.2h1m-.8 .5h1m-1-.3h1m-.9-.2h1m-.7 .9h1m-.8 .8h1m-.9-.1h1m-.4 .2h1m-.6-.4h1m-.3-.3h1m.4-1.5h1m-.5 .8h1m-1-.8h1m-.3 .8h1m-.4-.2h1m-.9 .2h1m-.6 1.4h1m.2-1.9h1m1 1.7h1m-29 3h1m1.3 0h1m0-.6h1m-.4-.7h1m-.6 .6h1m-.7 .3h1m-.6 .6h1m-.9-1.3h1m-1-.7h1m-.9-.1h1m-.9 2.3h1m-1-2.5h1m-.8 .7h1m-.6-.4h1m-.7-.3h1m-.9 .3h1m-.9 2.3h1m-.9-.7h1m-.2-1.9h1m-.9 .5h1m-.9 .3h1m-1 .5h1m-.9-1.3h1m-.7 .5h1m-.9 1.2h1m-.7-.9h1m-.9-.6h1m-.8 2.5h1m-1-2.4h1m-.9 .7h1m-.7 1.1h1m-.8-.1h1m-.7-1.1h1m-.9-.8h1m-1 2.1h1m-.8-.5h1m-.8-.6h1m-.9 .4h1m-1 .1h1m-.8 .3h1m-.9-.6h1m-.7 1.3h1m-1-.5h1m-1-.2h1m-1 .5h1m-1-1.6h1m-.9-.2h1m-.6 1.2h1m-.9-1.8h1m-.9 2.2h1m-1-.4h1m-.9 .9h1m-.9-.5h1m-1-.2h1m-1-.5h1m-.6 .2h1m-1 .7h1m-1 .4h1m-1-.8h1m-1-2.1h1m-.8 .3h1m-1 1.8h1m-.9 0h1m-1 .1h1m-.8-1.1h1m-.8 .8h1m-1-1.5h1m-.9 .7h1m-.8 .2h1m-.9 1.3h1m-.9-2.4h1m-1 1h1m-1 .6h1m-.8-.8h1m-.9 1.5h1m-1-.9h1m-.9 .6h1m-.9-.5h1m-.7 .8h1m-1-1.4h1m-.8 1.4h1m-.8-2.2h1m-1 1.2h1m-.7 .8h1m-.8 .4h1m-.8-2.3h1m-1-.2h1m-.9 .1h1m-.9 .2h1m-.9 .9h1m-.9-1.4h1m-.9 .7h1m-.9-.5h1m-.9-.1h1m-1 1.4h1m-.9 .1h1m-.9-1.3h1m-1 .1h1m-1 .8h1m-.8-.1h1m-1 .2h1m-.9-1.3h1m-1 2.2h1m-.9-1.6h1m-.6 .7h1m-.9 1h1m-.5-1h1m-.9 .9h1m-.8-.4h1m-.9 1.1h1m-.9-1.4h1m-.7 1.4h1m-.7 0h1m-.9-.5h1m-.6-2h1m-.7-.2h1m-.9 1.2h1m-1-1h1m-.5 2h1m-.1 .4h1m-.3-2.3h1m0 2.3h1m-1-.3h1m-.7 .2h1m-1-1.1h1m0-.4h1m-.8 1.2h1m-.8-1.3h1m2.9 .4h1m.3-1.4h1m43.9 2.6h1m-75.8 2.1h1m.3 .3h1m-.7-.3h1m-.2 .2h1m.1-1.7h1m-.7 2h1m-.6-.4h1m-1 .6h1m-.6-1.1h1m-.9-1h1m-.7 2h1m-.8-1.2h1m-.9 1.7h1m-.6-2.2h1m-.9 .5h1m-.3 .2h1m-1-.2h1m-.9-.1h1m-.9-.1h1m-.9 .8h1m-.8-.1h1m-.6-.5h1m-.9-.1h1m-1-.4h1m-.9 2.2h1m-.8-.2h1m-.8-1.3h1m-1 .7h1m-.7-.7h1m-.8 .7h1m-.6-.2h1m-.9 .4h1m-1 .4h1m-1-.5h1m-.7-.7h1m-.8-.6h1m-.9 0h1m-.7-.5h1m-.9 1.6h1m-1-.5h1m-.7-1.1h1m-1 1.3h1m-1 .2h1m-.9-1.7h1m-.9 .1h1m-.9 .5h1m-.8 1.2h1m-.9 .1h1m-.9-.2h1m-1-1.5h1m-.8 .3h1m-.9 1.4h1m-.9 .7h1m-.9-1.2h1m-.9 1.3h1m-1-2.2h1m-1 1.4h1m-.8-1.2h1m-.9-.2h1m-1 .6h1m-1 .3h1m-.9 .7h1m-.9 .6h1m-1-2.1h1m-.9-.4h1m-.9 1.7h1m-1-.7h1m-.7-.4h1m-1 .3h1m-.6 .1h1m-1 .5h1m-.9 0h1m-.9 .2h1m-.9-1.8h1m-.9 .2h1m-.8 1.7h1m-.9-.6h1m-1-.6h1m-.7 1.7h1m-1-.7h1m-.8-.9h1m-1 1.6h1m-1-.7h1m-.7-1.3h1m-.9 1.1h1m-.9 .8h1m-.7-2.4h1m-.8 .3h1m-1 2.1h1m-.9-2.6h1m-1 2.5h1m-1-2.4h1m-.9 1.9h1m-1-1.3h1m-1-.7h1m-.8 1.2h1m-.9-.8h1m-.9 1.5h1m-.9-.1h1m-.9-.6h1m-1 .5h1m-1 .9h1m-.9-1.9h1m-.9 .7h1m-1 1.5h1m-1-.5h1m-.9-1.5h1m-1-.3h1m-.9-.2h1m-.9 2.1h1m-1-1.7h1m-1 2h1m-.9-.3h1m-.9 .1h1m-1-.4h1m-.9 .5h1m-.8-1.9h1m-1 .6h1m-.9 1.4h1m-1-2.2h1m-.8 .9h1m-1-.4h1m-.8 .4h1m-1 .6h1m-.9-1.3h1m-.6-.7h1m-1 1.1h1m-.9 .4h1m-.9-.1h1m-1 .7h1m-.8 .4h1m-.9-.3h1m-1 .3h1m-.8-.5h1m-.6-.5h1m-1-1h1m-.8-.2h1m-.7 1.9h1m-1-.1h1m-.9-.6h1m-.8 0h1m-.8-.1h1m-1 1.2h1m-1-1.9h1m-.8-.2h1m-1 1.1h1m-1-.7h1m-1 .8h1m-.7-.7h1m-1 1.7h1m-1-.2h1m-1-.4h1m-.8-.3h1m-.8 .9h1m-.8-1.1h1m-.8-.5h1m-1 1h1m.4 0h1m.9 .4h1m-.5-1.9h1m-.8 1.4h1m-.4-1.8h1m1.2 1.2h1m-.7 .9h1m1.5-.4h1m37.9-.3h1m-.7 .2h1m2.1-1h1m.7 .1h1m1.8 1.4h1m-78.8 3h1m-.8-.4h1m-.8-.4h1m.2-1.4h1m-.8 .4h1m-.7 .2h1m-1 1.6h1m0-1.8h1m-.9-.4h1m-.8 2.7h1m-.4-1.9h1m-.3-1h1m-1 2.5h1m-.7 0h1m-.8-1.4h1m-.4-1h1m-.8 1.6h1m-.4-.7h1m.1-.6h1m-1 1.1h1m-.9-.7h1m-.8 .9h1m-.9-.2h1m-.8-1.2h1m-1 .7h1m-.8 .2h1m-1 1.5h1m-.8-2.6h1m-1 1.2h1m-1-.4h1m-1-.5h1m-.9 .9h1m-1-1.3h1m-.8 2.3h1m-.9-1.3h1m-.9 .3h1m-1 1.3h1m-.8 .3h1m-.9-1.9h1m-.8-.9h1m-1 2.5h1m-.9 .2h1m-.8-.5h1m-.9 .6h1m-.9-.1h1m-.9-.3h1m-1 .1h1m-.9-1.5h1m-1-.5h1m-.9-.2h1m-.7 2h1m-1 .3h1m-.9-2.3h1m-.9 2.2h1m-.9-.8h1m-.9-1.4h1m-1 1.9h1m-1-.1h1m-.9-1.4h1m-.9 .5h1m-1 .8h1m-1 .4h1m-.9-1.9h1m-1 1.7h1m-.9 .4h1m-.9 .2h1m-.8-2.9h1m-.9 1h1m-1 1.4h1m-1-.4h1m-.9-.6h1m-.9-.9h1m-1 1.6h1m-.9-1.4h1m-.9 1.6h1m-.9-1.9h1m-.8 1.1h1m-.8 1.2h1m-.9-1.9h1m-.9 .1h1m-.9 1.4h1m-1-.4h1m-.5 1h1m-1-2.2h1m-1-.7h1m-.9 1.4h1m-.8 .2h1m-.9-.7h1m-.9 1.1h1m-.9 .3h1m-.8-2.1h1m-.8-.2h1m-1 2.8h1m-.9 0h1m-.9 .1h1m-1-1.7h1m-.9-.3h1m-1 1.5h1m-1-1.7h1m-.9 .2h1m-1 2h1m-1-2.6h1m-.9 .6h1m-.9 .8h1m-.9 1h1m-1-1.1h1m-.8-.6h1m-.7-.1h1m-1-.4h1m-.9 .6h1m-1 1.6h1m-.9-1.1h1m-.9 1.3h1m-.9-.3h1m-.9-.1h1m-.9-1.5h1m-.4-.3h1m-1 .5h1m-.9-.5h1m-.9 1.5h1m-.9-.1h1m-.9-2.1h1m-.7 2.3h1m-.9 .5h1m-.8-.3h1m-.9-.4h1m-.8-1.1h1m-.8 .7h1m-1-1.7h1m-.9 .5h1m-.9 2.3h1m-.9-1.1h1m-.7 0h1m-1 .7h1m-.7-1.1h1m-.3 1.5h1m-.7-2.1h1m-.8 1.8h1m-.6-.7h1m-.8-.6h1m-.9 .4h1m-.8 .8h1m-1-1.2h1m-.7 1.7h1m-1-2.4h1m-.5 .7h1m-.9-.8h1m-1 1.5h1m-.7-1.8h1m-.9 .4h1m-.9 1h1m-.9-.3h1m-.6-.4h1m.5 .8h1m-1 1.1h1m-.9-1.1h1m-1-.9h1m.2 .1h1m-.6 .3h1m-.4 .1h1m-.9-.2h1m-.9 1.9h1m-.1-2h1m.9 .1h1m25.3 1.8h1m7.3-2.2h1m-.3 1.9h1m2.4-2.4h1m-.2 1.8h1m.3 0h1m-.7 0h1m.3-1.3h1m-.5 2.3h1m-.9-.2h1m-.7-1.1h1m-.1-.2h1m-.5 1.2h1m2.2-2h1m-77.5 3.2h1m-.7 1.3h1m.1 .3h1m-.6-1.5h1m-.6-.7h1m-1 2.5h1m-.8-.6h1m-.8-1.3h1m-.8 .9h1m-.4-1.3h1m-.8 .2h1m-.9 1.2h1m-1-1.4h1m-.8 1.3h1m-.9 1h1m-1-1.7h1m-.6-.3h1m-1-.7h1m-.9 0h1m-.9 .3h1m-1 .3h1m-.9 .5h1m-.8 .5h1m-.6-.9h1m-1 .1h1m-.9-.8h1m-1 2.5h1m-.9-1h1m-.7-.9h1m-.9 1.5h1m-.8-1.5h1m-.9 .8h1m-.8 1.3h1m-1-1h1m-.9 .1h1m-.9-1.7h1m-.9 .8h1m-.8 1.6h1m-1-.8h1m-1 1.2h1m-.8-2.1h1m-1 1.1h1m-.8-1.1h1m-.7 0h1m-.6 .1h1m-1 .7h1m-.4 .2h1m-1-1.5h1m-1 .5h1m-1-.2h1m-.8 2.1h1m-1-1.8h1m-1 .5h1m-.9-.7h1m-.9 2h1m-.9-1.9h1m-.9 .2h1m-.9 .7h1m-.9-.6h1m-.9 .7h1m-.9-.8h1m-.9-.2h1m-.8-.3h1m-1 1.1h1m-.9-1.3h1m-1 .1h1m-1 1h1m-.9-1.4h1m-.9 .6h1m-1 .7h1m-1 1.6h1m-.9-.3h1m-.9 .2h1m-1-.9h1m-.5-1.9h1m-1 .8h1m-.5 .7h1m-1 .5h1m-1 .5h1m-.9-.8h1m-.8 1.2h1m-1-.4h1m-1-1.7h1m-.9 .7h1m-.9 .6h1m-1-.6h1m-.9-1.1h1m-.9 1.6h1m-1 .6h1m-1-.4h1m-.9-.4h1m-.9-1.6h1m-.9 1.2h1m-.9 1.5h1m-1-.3h1m-.9-.5h1m-.9-.8h1m-.9-.8h1m-.9 1.9h1m-1-1.7h1m-1-.4h1m-.9 1.6h1m-1 .2h1m-.7 .5h1m-1-1.5h1m-.9 1.1h1m-.9-1.3h1m-.8-.4h1m-.9 1.1h1m-1 .5h1m-.9-.5h1m-1-.4h1m-1 .5h1m-.9-1.7h1m-.9 2.4h1m-.9-.9h1m-.9 1.4h1m-1-2.6h1m-.7 1.8h1m-1-1.8h1m-1 .1h1m-.9 0h1m-.9 .7h1m-.9-1.1h1m-1 1.8h1m-.7 .6h1m-1 .1h1m-1-.5h1m-1-1.1h1m-.6 .6h1m-1 .7h1m-.7 .5h1m-.4-.5h1m-1-2.2h1m-1 1.2h1m-.9-.3h1m-.7 .3h1m-1 1.5h1m-.7-2h1m-1-.4h1m-.8 .4h1m-.5-.2h1m-.9 1h1m-1-1.1h1m-.9 1.7h1m-.9 .2h1m-.9 0h1m-.9-1.2h1m-.4 .4h1m-.9 1h1m-.9-1.5h1m-.9 .1h1m-.8 1.8h1m.6-2.9h1m-.8 .5h1m-.8 .3h1m-.8 .6h1m-.9-.5h1m-.2 .3h1m1.2-.5h1m1.1 .3h1m24.6 1.4h1m3.4 .3h1m-.4-2.2h1m-1 .5h1m-.7-.5h1m.1 1.1h1m-.8-1.5h1m-.5 1.8h1m-.7 .1h1m.1-.5h1m-.7-1.2h1m-.9 2.4h1m-.7 .2h1m-.8-1.3h1m.7-.9h1m-.7 .3h1m-.8 1.7h1m-.7-1h1m.1-.5h1m-.5-1.2h1m-.6 .3h1m.8 2.5h1m-.7-1.8h1m-.9 1.3h1m-.1-1.5h1m-.6 1.7h1m-.9-.2h1m-.8 0h1m-.9-1.7h1m-.8 2h1m-.2-1.4h1m-.4 .6h1m-.2-1.2h1m-.2 2.1h1m-.5-1.2h1m-76.1 2.6h1m-1-.1h1m1.2 0h1m-.8 0h1m-.8-.4h1m-.9 2.3h1m-.6-2.3h1m-.1 .8h1m-.3 .7h1m-.8-1.1h1m-.1-1h1m-.8 2.2h1m-.8-1.1h1m-1-.4h1m-.9 .9h1m-.8 .9h1m-.9-2.4h1m-1 1.8h1m-1-.4h1m-.9-.9h1m-.9 .9h1m-.9 1.1h1m-.8-.2h1m-.9-1.3h1m-.8-.8h1m-.8-.2h1m-1 .6h1m-.9-.4h1m-.8 1.6h1m-1 .3h1m-.9-1.1h1m-1-.4h1m-.9-.6h1m-.7 2.3h1m-.8-.9h1m-1 .3h1m-.9-1.6h1m-.9 1.4h1m-.9 1.1h1m-.8-2.7h1m-.8 2.5h1m-.9-.1h1m-1 .2h1m-.9-2h1m-.6 2.3h1m-.8-2.3h1m-1 1.3h1m-.9-.5h1m-.6 1h1m-.9-2h1m-.9 2.5h1m-.9-.4h1m-1-1.7h1m-1 1.3h1m-.9-.9h1m-.7-.7h1m-1 .1h1m-.9 0h1m-.8-.6h1m-.9 .6h1m-.9 1.7h1m-.8-.4h1m-.9-1h1m-.8 1.8h1m-1-1.5h1m-.9 .4h1m-.9-1.3h1m-.9 .9h1m-.9-1.1h1m-1 1.4h1m-.9-1.5h1m-1 2.8h1m-.9-.4h1m-.9-2.1h1m-.9 0h1m-.9 .9h1m-.9 .7h1m-1-1.7h1m-1 .8h1m-.9 0h1m-.9 .5h1m-.9 .2h1m-.9 1h1m-.9-1.8h1m-1 1.1h1m-.8 .5h1m-1-2.4h1m-1 1.6h1m-.9-1.2h1m-.9 1.8h1m-.9-1.4h1m-1-.2h1m-.9 1.7h1m-1-2.2h1m-.9 2.1h1m-1-.7h1m-.6-.7h1m-.7-.4h1m-1-.5h1m-1 1.3h1m-1-.9h1m-1 .7h1m-.9 .5h1m-1 1.3h1m-.9-.3h1m-.9-1h1m-1 1.1h1m-.9-2.3h1m-1 2h1m-.7-2.4h1m-1 1h1m-.8 1.4h1m-.9-2.2h1m-.8 1.6h1m-.9-.9h1m-1-.8h1m-1 1.1h1m-.9 1.7h1m-1-2.9h1m-.8 1.5h1m-.9-1.1h1m-1 1.8h1m-.9 .6h1m-.9-.6h1m-.8 .3h1m-1-1.8h1m-.8-.4h1m-1 .4h1m-1 1.4h1m-.9-.4h1m-1 .8h1m-.9-1.3h1m-1 .1h1m-.8-.8h1m-.9-.2h1m-1-.3h1m-.9 1.1h1m-.9 1h1m-.9-1.5h1m-.9-.4h1m-.5 1.7h1m-1-.4h1m-.9-.9h1m-.9 .4h1m-.2 1.8h1m-.8-.2h1m-.8-1.5h1m-1 1.3h1m-.5-.6h1m-.2-.1h1m-1 .6h1m-.9-.8h1m-.8 1.1h1m-.7-1.5h1m-.8-.7h1m-.5 .5h1m0-.4h1m-.9 .4h1m.2-.3h1m-.6 1.3h1m-.9-.7h1m-.5 1h1m4.2-1h1m22.3 1.7h1m1.2-.6h1m.2-1.4h1m-1 1.6h1m-.9-.2h1m-.6-.7h1m-.9-1.2h1m-.8 1.6h1m-.4 .9h1m-.5-.6h1m-.8-1.4h1m-1 1.5h1m-.8-2.3h1m-.5 2.3h1m-.7-.8h1m-.9 1.1h1m-.8-2.3h1m-.4 1.3h1m-.8-1.5h1m-.2 .6h1m-.9 .4h1m-.7 1.1h1m-.9-1.3h1m-.9 1.3h1m-.9-1.7h1m-.9-.3h1m-.9 .2h1m-1 1h1m-.5-.4h1m-1 .1h1m-.8-.2h1m-.9 1.5h1m-.9 .2h1m-.6-1.1h1m-.8 .9h1m-.8 .3h1m-.9-2.5h1m-.7 1.3h1m-.8 1.1h1m0-2h1m-.8 2h1m-.8-2.6h1m-.7 .6h1m0 1.3h1m-.9-1.3h1m-.7 1h1m-.9 .4h1m-.9 .7h1m-.6-1.7h1m-.5 1.1h1m-.4-1.4h1m-.4-.4h1m-.9 1h1m-.5-1.1h1m-.9 1.2h1m.2-.7h1m-.3-.2h1m-75.7 2.6h1m-.5 .1h1m-.9-.1h1m-.8 1.2h1m.4 1h1m.4 0h1m-1-1.4h1m-.9-.8h1m-.9 1.5h1m-.9 0h1m-.7 1.1h1m-.8-1.9h1m-1-.4h1m-.8-.3h1m-.9 1.6h1m-.7-.9h1m-1-.7h1m-.9 .7h1m-.8 .7h1m-.4-1.1h1m-.6 2.4h1m-1-.2h1m-1-2.2h1m-.7 .2h1m-.9 1.5h1m-.8 .7h1m-1-2.2h1m-1 1.4h1m-.8-1.5h1m-1 .4h1m-.9-.6h1m-.9 1.6h1m-.9-1.9h1m-.9 0h1m-1 .3h1m-.9-.4h1m-1 2.5h1m-.9 .3h1m-.9-2.7h1m-1-.1h1m-.7 .4h1m-.8 1.4h1m-.9 .6h1m-1-1.4h1m-.9 .2h1m-.6 .5h1m-.9-1.4h1m-.9 1.9h1m-1 .6h1m-.9-1.8h1m-.9 1.4h1m-1-1.6h1m-.8 1.6h1m-.8-2.1h1m-.8-.3h1m-1 2h1m-.9-1.5h1m-.9 2.1h1m-1-.2h1m-1-.2h1m-1-1.7h1m-.8-.3h1m-.9 .3h1m-.9 1.9h1m-.9-1.1h1m-.9 1.5h1m-.7 0h1m-.7-.7h1m-1-.6h1m-.8-1.5h1m-.9 1.4h1m-1 .1h1m-.9 .9h1m-.9-.8h1m-.9 .3h1m-.9-.8h1m-.9-.9h1m-1 1.5h1m-1-.2h1m-.9 0h1m-1 .9h1m-.9-1.5h1m-1 .9h1m-.9-1.8h1m-.9 0h1m-.8 2.5h1m-.7 0h1m-.8-.8h1m-1-.7h1m-1 1.2h1m-.8-.3h1m-.5-1.7h1m-.9 2.3h1m-.8 .4h1m-.9-2.2h1m-1-.7h1m-.9 1.6h1m-.9-1.2h1m-.9-.3h1m-.9 1.6h1m-1 .3h1m-1-.9h1m-.8 1.5h1m-.9 .2h1m-1-2.1h1m-.9 .6h1m-.9 1.6h1m-.9-2.9h1m-.8 2.3h1m-.8 .6h1m-.9 0h1m-.7-1.2h1m-.9 .8h1m-.9-.8h1m-.9 .8h1m-.9-1.5h1m-.7 1.4h1m-.9-1.4h1m-.5-1h1m-1 .2h1m-.9 2.5h1m-1-.1h1m-.8-.9h1m-.7-.7h1m-.8 .8h1m-1-.2h1m-.6 .2h1m-.9 0h1m-.9-.8h1m-.9 1.7h1m-.7-.6h1m-.9-1.5h1m-.9 .8h1m-.7 1h1m-1-1.8h1m-.9 0h1m-.8 1.7h1m-.5-2.1h1m-.9 1.8h1m-.9-1.9h1m-.8 .3h1m-.8 2.4h1m-1-.6h1m-.9-.1h1m-1 .8h1m-.6-.6h1m-.1 .3h1m-.7-2.3h1m-.5 1h1m-.9 .2h1m-.9-.9h1m-.3 .8h1m.1-.4h1m.9 1.9h1m-.8-.4h1m7-.4h1m7.7-1.7h1m.3 1.1h1m3.8 .5h1m2.2 .2h1m-1-.5h1m-.5 1.1h1m-.7-1.9h1m-.4-.4h1m-.8 2.4h1m-.8-1.9h1m-.6-.8h1m0 2.6h1m-1-1.4h1m-.9 1.2h1m-.8-.6h1m-.8 .7h1m-.9-2h1m-.7-.5h1m-.6 .2h1m-1 2.2h1m-.9 0h1m-.8-1.1h1m-.8 1h1m-.9-.1h1m-.8-1.9h1m-.8 2.4h1m-1-2.7h1m-1 .6h1m-.9 .8h1m-.6-1.6h1m-.9 2.1h1m-1-1h1m-.9 1.5h1m-.9-.7h1m-.9 0h1m-.9 .2h1m-.6-.5h1m-1-.4h1m-.6 1.6h1m-.5-.4h1m-.7-1.5h1m-.8 1.4h1m-.7-2h1m-.7 .3h1m-.3 0h1m-.9 1.9h1m-1-1h1m-.8 .6h1m-.4 .1h1m-1-1.2h1m-.2 .6h1m-.8-.4h1m-.9 1.2h1m-.8-.1h1m-.6-.7h1m-.8-1.5h1m-.9 1.6h1m-.6 .1h1m.3 .1h1m-.8-.4h1m-.4 .2h1m.1 .1h1m.1-.4h1m-.8-.5h1m-.9 1.1h1m-1 .3h1m-1-.2h1m-.2-2h1m0 1.5h1m.3-.1h1m-75 2.7h1m-.8 0h1m-.1 1.7h1m-.6-2.9h1m-.9 2.5h1m-.3-2.4h1m-.9 .2h1m-.8 1h1m-.8-1.3h1m-.6 .7h1m-.5-.1h1m-.2-.6h1m-1 2.8h1m-.7-2.8h1m-.9 1.5h1m-.8 .6h1m-.7 .1h1m-.4-.1h1m-.6 .5h1m-1-.9h1m-.7 .2h1m-.9 .3h1m-.8-.6h1m-1 1.3h1m-.9-1h1m-.8 1h1m-.9-.2h1m-1-1.5h1m-.3-1.2h1m-.9 2.7h1m-.9-.6h1m-.9 .3h1m-.8-.8h1m-.8 .6h1m-.9-.6h1m-1-.9h1m-1 1.8h1m-.9-.9h1m-1-.2h1m-.7 .4h1m-.8 .9h1m-.3-.2h1m-.6 0h1m-.9-.5h1m-.9-1.8h1m-.8 1.1h1m-.9 .9h1m-.9-.8h1m-1-1.2h1m-.9 1.5h1m-.9-.5h1m-.8 .6h1m-1 .3h1m-.8 .5h1m-1-.4h1m-.9-1.5h1m-.9 .1h1m-.8 .8h1m-1-.4h1m-.8 1.4h1m-.8-2.2h1m-.7 .3h1m-.8 .7h1m-.8 0h1m-1 1h1m-1-1.4h1m-1 1.8h1m-.5-2.6h1m-.9 .8h1m-.9 1.8h1m-.9-2.7h1m-.9 1.6h1m-1 .7h1m-.9-.2h1m-.9-.9h1m-.7 .6h1m-.8 0h1m-.8-1.4h1m-.9 2.2h1m-1-1.3h1m-.8-.3h1m-1-.4h1m-.9 .5h1m-.9-.8h1m-.8 1.7h1m-1-1.9h1m-1 1.3h1m-.7 .1h1m-.6 .6h1m-1-1.4h1m-.8 1h1m-.7-1.6h1m-.9 1.8h1m-1-1.9h1m-.6 .8h1m-.9 .5h1m-.8-.1h1m-1-.9h1m-.9 1.8h1m-.7-1.3h1m-.9 2h1m-1-1.4h1m-1 .5h1m-.9-1.8h1m-.7 2.7h1m-.9-.4h1m-.9-1.7h1m-1-.7h1m-.9 1.9h1m-.9-.7h1m-1-.2h1m-.9-.7h1m-.9 2.1h1m-.9-2.4h1m-.6 1.5h1m-.9-1.4h1m0 .1h1m-1 2h1m-.6-1.6h1m-1 2.1h1m-.8-.9h1m-.8-.7h1m-.1-.7h1m-.4 .8h1m-.7 0h1m-1-.5h1m-.5-.8h1m.3 .3h1m.9 .5h1m2.2 1.7h1m19.2-2.4h1m-.2 2.5h1m-.3-2.4h1m-.7 .5h1m0 .1h1m-.7 1.5h1m-.5-.6h1m-.4-1.4h1m-.4 2.4h1m-.7-1.2h1m-.9-1.4h1m-.9 .5h1m-.4 2.2h1m-.6-1.5h1m-.3 1h1m-1-1h1m-.8-1.2h1m-.3 2.4h1m.3-.7h1m-1-1h1m-1 1.6h1m-1 .5h1m-.8-2h1m-1 .2h1m-1 .8h1m-.8-.6h1m-.9 1.3h1m-.6-2.1h1m-.9 1h1m-.3 .2h1m-.8 .7h1m-.9-1.5h1m-.8 1.3h1m-.4 .7h1m-.4-2.7h1m-1 .3h1m-.4 .1h1m-.8 .4h1m-.9 1.8h1m-.9-1.8h1m-.6 .7h1m-.9-1.5h1m-.8-.1h1m-1 .8h1m.1-.9h1m-1 .9h1m-.9 .5h1m-.8 0h1m-.8 1.3h1m-.3-2.2h1m-.2 2.4h1m.1-2.4h1m0 .7h1m-70.6 3.5h1m0-1.1h1m1.2 2h1m0-2h1m-.8 .4h1m-.7-.9h1m-.9 1h1m-.9-.6h1m-.9 1.6h1m-.9-.6h1m-.7 1.4h1m-.5-1.7h1m-.7 .3h1m-.9-.6h1m-1-.5h1m-1 2.4h1m-.7-2.2h1m-.2 .1h1m-.9-.6h1m-.8 .4h1m-1 .9h1m-.9 .2h1m-.9 .8h1m-.9-2.1h1m-.3-.2h1m-1 1h1m-.8-.3h1m-.7 .8h1m-.9 1h1m-.9-1.1h1m-1-.5h1m-.8-.2h1m-.9 1h1m-1-1.1h1m-.9 .6h1m-1 1.5h1m-.9-1.4h1m-.9 .3h1m-1-1.3h1m-1-.2h1m-.5 2.4h1m-.9-2.2h1m-.8-.2h1m-.8 1.8h1m-.9-.7h1m-.9 .8h1m-1-1.6h1m-.9 1.5h1m-.9-1.6h1m-.9 1h1m-.8 0h1m-.9-1.4h1m-1 1.3h1m-1-.7h1m-.9-.1h1m-.9 .1h1m-1 2h1m-.8-1.8h1m-.6 1.8h1m-.8-2.1h1m-.9 .6h1m-.6-.6h1m-1 .1h1m-.9 .2h1m-1 2h1m-1-2.2h1m-.7 1.1h1m-1 1.1h1m-.9-.2h1m-.9-1.8h1m-.9 1.2h1m-.7 .2h1m-1-2.1h1m-.8 .1h1m-.9 .9h1m-.9 1.2h1m-1 .1h1m-.9-1.5h1m-1-.4h1m-.9 .9h1m-.9 .6h1m-1-1.3h1m-.8 1.8h1m-1-1.9h1m-.9 1.8h1m-.9-1.7h1m-1 1.5h1m-.9-2h1m-1 .3h1m-.9 1.1h1m-.9-1.3h1m-.9 .1h1m-.8 1.9h1m-1-1.1h1m-.8-.3h1m-.9-.7h1m-.9 0h1m-.8 1.9h1m-1-1.2h1m-.9 0h1m-.9-.5h1m-1 .7h1m-1 1.2h1m-.9-1h1m-1 1.2h1m-.8-2.2h1m-.8 1.6h1m-.9 .6h1m-.9-2.1h1m-.8 .3h1m-.9 .8h1m-.7 .8h1m-1-.7h1m-.9 0h1m-1 .4h1m-.9 .6h1m-.8-1.5h1m-.7 1.3h1m-.2-2.1h1m-.9 .5h1m-.9 2.1h1m-.9-1.7h1m-.9 .6h1m-.8 1.1h1m-.9-1.1h1m-.7 .1h1m-.7 .8h1m-.8-.3h1m-.9-1.7h1m-1 1.8h1m-.5-1.8h1m-.9 .5h1m0-.5h1m-.8 1.5h1m-.8-1.6h1m-.6 .7h1m-.9-.5h1m2.3 1h1m.2 .8h1m17.2-2.3h1m-.4 .8h1m3.5 .1h1m-.9-.2h1m-.6 .7h1m-.7 1.1h1m-.6-2.2h1m-.8 1.3h1m-1 .2h1m-.8-1.4h1m-.6 1.8h1m-.1-.9h1m-.9-1.3h1m.1 1.1h1m.2 .2h1m-.8-.7h1m-.8-.5h1m-.9 2.4h1m0 .1h1m-.9-2.1h1m.2-.8h1m-1 .6h1m-.5 .4h1m-.8-.7h1m-.7 2.2h1m1.4-.9h1m.6-1.2h1m2.3-.1h1m-67.9 4.1h1m1.8-1h1m-.8 2.1h1m-.7-1.1h1m-.9 1.2h1m-1-.1h1m-.8-.2h1m-.7-1.2h1m-1 1.3h1m-.7 .4h1m-1-1.7h1m-.5 1.6h1m-.7-.3h1m0-1.7h1m-.8 1.3h1m-.9-1.1h1m-.5-.5h1m-.9 2h1m-.8-1.7h1m-.9 0h1m-.9 .7h1m-1 .7h1m-.8 .2h1m-.8-.8h1m-.8 1.1h1m-.8-1.9h1m-.9-.6h1m-.9 2.4h1m-.8-1.3h1m-.8-.4h1m-.9-.5h1m-1 .5h1m-1 1h1m-.3-.9h1m-.6-.3h1m-.8-.5h1m-.5 1.4h1m-1 .8h1m-.9 .5h1m-1-1.4h1m-.8-1.2h1m-.7 .5h1m-1-.7h1m-.8 2h1m-.7-2h1m-1 1.2h1m-.9-.3h1m-1 2h1m-.8-2.5h1m-1 .5h1m-.9 .5h1m-.9-.2h1m-.7-.1h1m-.9 0h1m-.9-.9h1m-.9 2h1m-.8-2.1h1m-.8 1.2h1m-.8-1h1m-1 2h1m-1-2.2h1m-.9 1.5h1m-.9-.3h1m-.9 1.6h1m-1-1.2h1m-1-.7h1m-.9-.8h1m-1 .6h1m-.4 2h1m-.8-1.5h1m-.6-1.2h1m-.7 .1h1m-1 2.2h1m-.8-.5h1m-.9-.4h1m-.9-1.3h1m-.9 1.9h1m-.5-1.7h1m-.8 .8h1m-1-.7h1m-.9 .6h1m-.8 1.5h1m-1-1.4h1m-.8 1.1h1m-.9-.2h1m-.8 .3h1m-.8-.3h1m-.8-.6h1m-.9 .6h1m-.9-1.3h1m-.9-.8h1m-.9 2.4h1m-.9-1h1m-1-1.2h1m-.8 2.4h1m-.8-2.1h1m-1 .8h1m-.4-.2h1m-.7 .1h1m-.6 .7h1m-1-.4h1m-.8 0h1m-.9 1.1h1m-.9-.7h1m-1-1.3h1m-.7 1.5h1m-.8 0h1m-.8-1.9h1m-.4 .5h1m-.6-.1h1m-1 1.1h1m-.5 .1h1m-.5-1.3h1m21.5 .8h1m.8 0h1m-.2 .8h1m-.9-1.4h1m-.5 .4h1m-.5 .5h1m.2-1h1m3.4 .2h1m-.3 .7h1m-.5 .7h1m-.4-.2h1m.3 .7h1m-.9-1.8h1m.3 .8h1m-.9-.1h1m1-1.6h1m.3 .9h1m2.8 .6h1m-69 1.7h1m-.9 .7h1m.1 1.2h1m-.6 .8h1m-.8-2.8h1m-.4 .1h1m.1 2.6h1m-.9-1.8h1m-.5 1h1m-.7-.2h1m-1 1.1h1m-.5-.3h1m-.4-.3h1m-.9 .3h1m-.3-2h1m-.6 .7h1m-.7 .9h1m-.9-1.9h1m-.8 .5h1m-.8 1.8h1m-.7-2.6h1m-1 .4h1m-.8 .8h1m-1-.9h1m-.7 1.8h1m-.9-.3h1m-1-.8h1m-.8 1h1m-1-.2h1m-.6 .1h1m-1-1.4h1m-.7 .8h1m-.8 1.5h1m-.9-1.8h1m-1-.4h1m-.7-.1h1m-.8 .8h1m-.8 1.5h1m-.8-.4h1m-1-1.4h1m-.9 .6h1m-.8 1h1m-.9-2.2h1m-.9 1.9h1m-1-.4h1m-.9 .4h1m-.6-.7h1m-1 .4h1m-1 .5h1m-1-.6h1m-.8 .7h1m-.8-.7h1m-.9-.9h1m-1-.1h1m-.8 .4h1m-1 .6h1m-.8-1.9h1m-.9 .9h1m-1 2h1m-1-1.1h1m-.9-1.8h1m-1 .9h1m-1 1.5h1m-.7-1.9h1m-.6 .6h1m-1 1.7h1m-.9-1.1h1m-.7 .2h1m-.9-1.4h1m-1-.2h1m-.9 1.9h1m-.9 .4h1m-.9-1.4h1m-.8-.2h1m-.7 .4h1m-1 .9h1m-.8-1.8h1m-1 1h1m-.8-.5h1m-1-.4h1m-1 .7h1m-.9 1.6h1m-.9-.7h1m-.9 .7h1m-.9-.2h1m-1-2.2h1m-.9-.4h1m-.8 .4h1m.1 1.7h1m-.6-.1h1m-.9 .1h1m-.9 .3h1m-1-1.7h1m-1 .7h1m-.9 0h1m-1-.2h1m-.9-.7h1m-.9 0h1m.1 .5h1m-.5-.1h1m-.9 .7h1m-.9 .5h1m-.9-2h1m-.9 .4h1m-.4-.1h1m-.7-.4h1m-.8 1h1m-.9 1.5h1m-.8-.4h1m-.7-.8h1m-.5 .1h1m-.5-1.1h1m-.7 1.3h1m-1-1.7h1m.1 2h1m-1-.7h1m-.7 1.4h1m1-1.8h1m20.7 .2h1m.7 .8h1m-.1-1.7h1m1.5-.1h1m-.3 1.3h1m-.5 .9h1m-.9-1.6h1m-.9 .8h1m1.1-.4h1m2.8-.8h1m2.9-.2h1m-61.9 3.2h1m0 2.5h1m-1-.1h1m-.5-.7h1m-.8-.4h1m-.5-.8h1m-1 .9h1m-.7 1h1m-.9-1.8h1m-.7 .6h1m-.1 1h1m-.9-2.4h1m-.8 .3h1m-.9 0h1m-1 2h1m-.6-.5h1m-.6-.5h1m-.9 1.3h1m-1-.5h1m-.7-2.2h1m-.8 .9h1m-.8 .4h1m-.8 1.5h1m-.9-1.6h1m-1 1.2h1m-.9-.8h1m-.9 .6h1m-.6-2.1h1m-1 1.3h1m-1-.7h1m-.9 .2h1m-.9 .4h1m-1-.5h1m-.9-.5h1m-.8 1.9h1m-.9-.3h1m-.9 .2h1m-1 .3h1m-.9-.3h1m-.7-1.2h1m-1-.5h1m-1 .1h1m-.9 1.3h1m-.9 .6h1m-.9-.6h1m-.9 .8h1m-1-.4h1m-.9-1.5h1m-.7 .4h1m-.5-.5h1m-.9 .8h1m-1 1.4h1m-.9-.4h1m-.8-.8h1m-.7 .3h1m-.8 .2h1m-1-1.1h1m-.8-.2h1m-.9 .7h1m-1 .7h1m-.8 .1h1m-1-2.1h1m-1 2h1m-1-1.7h1m-.9 1.7h1m-.9 0h1m-.9-1.5h1m-1 .7h1m-.9-.3h1m-1-.3h1m-.4-.3h1m-.8 1.8h1m-.4-1.5h1m-1 .2h1m-.9 .2h1m-.9 1.7h1m-.9-2h1m-1 .1h1m-.9-.5h1m-1 .4h1m-.9 1.9h1m-.9-.6h1m-.8-1.7h1m-.8 1.9h1m-1-.2h1m-.9 .4h1m-.8-1.4h1m-1-.7h1m-.8 0h1m-1 1.5h1m-.9-1.1h1m-.6-.2h1m-1 1.5h1m-.7-1.8h1m-.9 1.6h1m-1-1h1m-.7 .5h1m-1-1.2h1m-.8 2.5h1m-.4 .1h1m-1-2.3h1m-.2-.5h1m-.3 .7h1m-.8 1.5h1m-1-2.1h1m-.7 2.7h1m-.5-2.4h1m-.4 .2h1m-.9 1.6h1m-.6 .3h1m-.9 .3h1m-.2-2.6h1m-1 1.8h1m-.6 .7h1m-.7-2h1m-.5-.2h1m.2 1.9h1m1.2-1.5h1m4.7-1h1m9.7 1.6h1m5.4-1.5h1m-50.1 4h1m-.9-.8h1m-.7 2.5h1m-.6-.5h1m-.4-1.7h1m-.9 .1h1m-.4 1.7h1m-.9-2.3h1m-1 .6h1m-.5 1h1m-.8-.7h1m-.7 1.9h1m-.4-.9h1m-.5 .3h1m-.8 .3h1m-.7-1.6h1m-.7 .7h1m-.2 1.1h1m-.4-.1h1m-.9-.2h1m-.9-2.5h1m-.8 2.8h1m-.5-1.6h1m-.8-.7h1m-1 2.4h1m-.9-1.1h1m-.7-1.5h1m-.8 1h1m-1 1.6h1m-.9-1.1h1m-1 .7h1m-1-.9h1m-.8-1.3h1m-.6 1h1m-.9 1.4h1m-.8-1.4h1m-.8 .7h1m-.9-1.5h1m-1 .3h1m-1 2.1h1m-.8-2.6h1m-.9 2.2h1m-1-1.6h1m-.9 1.1h1m-1-.3h1m-1-1.2h1m-.5-.4h1m-.9 .8h1m-.9 .3h1m-1 1.5h1m-.9-1.2h1m-.8-.4h1m-1 1.6h1m-.7-1h1m-1-1.6h1m-1 .6h1m-.9 .7h1m-.9 .5h1m-1 .8h1m-.9-.2h1m-.8-.4h1m-1-.7h1m-.7 1.2h1m-.8-1.1h1m-.9-1.4h1m-1 1.3h1m-.9-.9h1m-.8 .8h1m-.6-.8h1m-.9-.2h1m-1 .5h1m-.9-.2h1m-.9 1.8h1m-.9-2.3h1m-.8 1.9h1m0 .8h1m-1-1h1m-.9 1.1h1m-.7-2.6h1m-.9 1.1h1m-1 .3h1m-.9-.7h1m-1-.2h1m-.8-.7h1m-.8 1h1m-.8 1.5h1m-.7-1.3h1m-.9-.1h1m-1-.2h1m-.8 1.9h1m-.6-2.5h1m-.3 1.4h1m-1-1h1m-.8 1.6h1m-.8-1.8h1m-.9 .5h1m-1-.3h1m-.9 1.8h1m-1-.2h1m-.9-1.9h1m-.8 1.9h1m-.9-.6h1m-.8 .5h1m-.9-1.7h1m-.9 .7h1m-1 .6h1m-.7-.5h1m-.9 1.4h1m.1-2h1m-.8 .3h1m-.9-.4h1m-1 1.3h1m-.2 0h1m-1-1.7h1m-.5 .4h1m-1 1.8h1m-.8-1.8h1m-.6 0h1m-.3 .9h1m-.2 .4h1m-.7 .6h1m-.6 0h1m-.1-1.4h1m23.3 .6h1m-50.7 2.2h1m-.5-.8h1m-.8 .1h1m-.7-.2h1m-.4 2.3h1m-.9-2.1h1m-1-.3h1m-.2 2.8h1m-.6-2.4h1m-.6 2.3h1m-.1-1.9h1m-.9-.1h1m-.7 .8h1m-.6 .7h1m-1-1.4h1m-.8 2.1h1m-.9-2.8h1m-1 2.1h1m-.9 .7h1m-.8-2.2h1m-.8 .7h1m-.4-.3h1m-1-.9h1m-.9 .2h1m-.9 1.6h1m-.9-.1h1m-.7-.2h1m-.9-1.3h1m-.8 1.9h1m-.9-.9h1m-.8 .6h1m-1 .9h1m-.8-.5h1m-1-1h1m-.9 .1h1m-1-.6h1m-.9 .4h1m-.9-1.3h1m-1 1.1h1m-.9 .6h1m-1 .6h1m-.8 .6h1m-.8-.5h1m-.9-.6h1m-1 .2h1m-1 .4h1m-.9 .5h1m-.9-1.6h1m-.9-1.3h1m-.8 2.7h1m-1-.2h1m-1-2.1h1m-1 1.2h1m-.9-.2h1m-1 .1h1m-.8-1h1m-.9 1h1m-.9-.1h1m-.9 .9h1m-.8-1.3h1m-.8 .5h1m-.8 .2h1m-.7 .8h1m-.9-1.8h1m-1-.2h1m-1 2h1m-.9-1.8h1m-1 2.1h1m-.9-1.7h1m-1 1.2h1m-.9-1.5h1m-.9-.1h1m-.9 0h1m-.9 1.4h1m-1-.5h1m-.8-1.2h1m-.9 2.5h1m-.9-.7h1m-.8-1.7h1m-1 .6h1m-.8 1.2h1m-.8-1.6h1m-.9 1.7h1m-1-2.4h1m-1 1.3h1m-.8-1.1h1m-.9 2h1m-.9-1.7h1m-.9 0h1m-.8-.3h1m-.8 .3h1m-1 1.3h1m-.9-1h1m-1 .1h1m-1-.3h1m-1 1.5h1m-.9-.8h1m-1 .8h1m-.9-1h1m-.9 1h1m-.9-2h1m-.9 .3h1m-.9 2.5h1m-.9-.1h1m-.8-1.5h1m-1 1.5h1m-.9-1.2h1m-.9 .6h1m-.9 .6h1m-.8-1.4h1m-.9-.2h1m-.8 .4h1m-.8 1.2h1m-.9-2.1h1m-.9 1.9h1m-.9 0h1m-.7-.2h1m-.9-1.8h1m-.9 .2h1m-1 .1h1m-1 .7h1m-.9 .6h1m-.9-.4h1m-1 1.1h1m-.9-2.1h1m-1 .9h1m-.6 .3h1m-.8-1.7h1m-.5 .1h1m-.8 1.8h1m-1 .2h1m-1-.5h1m-.8 .5h1m-1-.6h1m.3-.2h1m0 .6h1m.4 .2h1m-.8-.3h1m-.8 .1h1m-.8-.7h1m-.9 .6h1m-1-.4h1m-.6 1.1h1m.1-1.9h1m-.5 1.1h1m-.9-1.6h1m2.8 1.3h1m0 .1h1m12.3-1.5h1m-45 5.5h1m1.8-.1h1m-1-.1h1m-.6-1.4h1m-.8-.2h1m-1 .5h1m-.8 .9h1m-.9-.9h1m-.9 1.3h1m-.7-2.7h1m-.5 1.3h1m-.8-.3h1m-.8-.8h1m-.9 2h1m-.9-1.9h1m-.8 1.3h1m-1 .9h1m-.9-1.5h1m-.9-.3h1m-.9-.6h1m-.9 1.7h1m-1-.8h1m-.8-.4h1m-1 .8h1m-.9-1.3h1m-.9 .1h1m-.9 2.1h1m-.9-.6h1m-.9 .3h1m-1-1.1h1m-1 1h1m-.9-.2h1m-1 .6h1m-.8-1h1m-.6 .3h1m-.8-.7h1m-.9 .4h1m-.8 0h1m-.7 .6h1m-.9-1.6h1m-.9 1.6h1m-1-.3h1m-.9-.1h1m-.9 .3h1m-.9 .6h1m-.8 .4h1m-.9-2.8h1m-.9 2.5h1m-.9-.2h1m-.8 .3h1m-.8-.2h1m-.9-.1h1m-.9 .1h1m-1-.2h1m-1 .5h1m-.8-1.3h1m-.9 0h1m-1-.5h1m-.9 .8h1m-1 1.1h1m-.8-2h1m-1 .7h1m-1-1.4h1m-.9 2.6h1m-1 .1h1m-.9-.3h1m-.9-1.2h1m-.9 .7h1m-.9 .7h1m-1-2.4h1m-1 2.5h1m-.9-.2h1m-.9-2.3h1m-1 .4h1m-.8 1.6h1m-.8 .4h1m-.9-.9h1m-1 .6h1m-.9-1h1m-1-.9h1m-1 1.3h1m-.9-.6h1m-.9-1h1m-.9 .3h1m-1-.2h1m-1 2.2h1m-1-2.1h1m-.8 1.5h1m-.8-1.3h1m-1 1.5h1m-.9-1.1h1m-.8 1.7h1m-.9 .1h1m-.9-.5h1m-1-1.4h1m-.9 1h1m-.9 .6h1m-.9-.5h1m-.9-.6h1m-1-.5h1m-.8 .7h1m-.9-.1h1m-.9-1.6h1m-.9 0h1m-.9 .1h1m-1 1.7h1m-.9-.9h1m-1 .6h1m-1 1.3h1m-.9-1.4h1m-.9-1.2h1m-1-.2h1m-.7 1.2h1m-.9 .7h1m-1-1.2h1m-.9 1h1m-.8 .3h1m-1-1.6h1m-.9 .8h1m-.9 .6h1m-.8 .4h1m-1-1.7h1m-1-.2h1m-1 1.1h1m-.9 .9h1m-.9-.2h1m-.9 .3h1m-.9-2.3h1m-.9 .1h1m-.9 1.3h1m-.8-1h1m-.9 .9h1m-.9 1.4h1m-1-2.8h1m-.9 2h1m-.9-.2h1m-.9 .9h1m-1-1.3h1m-.8 .2h1m-1-1.6h1m-.9 .3h1m-.9 0h1m-.9 1.1h1m-1-.2h1m-.9-.6h1m-1 .9h1m-1 .4h1m-.8 .3h1m-.9-1.3h1m-.8-.6h1m-.9 2.1h1m-.9-1.2h1m-.8-.4h1m-.9-.7h1m-1 1.3h1m-.7-1h1m-.7-.2h1m-.7 .7h1m-.8 .6h1m-1-.8h1m-.7 .3h1m-.7 1.5h1m-.9-1.2h1m-.9-.2h1m-1-.6h1m-.9 2.2h1m-.7-1.2h1m-.7-1.1h1m-.8-.3h1m-1 2.3h1m-.7-.4h1m-.8 .4h1m-.8-2.4h1m-.8 2.3h1m-.7-1.1h1m-.9-.2h1m-1 1.3h1m.4-1.5h1m.1 .8h1m-.7-.2h1m.5 1.2h1m-28.6 1.2h1m.7-.4h1m-1 .1h1m0 2.1h1m0 0h1m-1-1.1h1m-.6-.9h1m-.9 1.1h1m-.5-.4h1m-.9 1.2h1m-.8 .1h1m-1-.4h1m-.8 .1h1m-.9 .2h1m-.9 .1h1m-.7-2h1m-.9-.6h1m-.2 2.8h1m-1-1h1m-1-.1h1m-.8-.8h1m-1-.5h1m-.8 2.4h1m-.4-.3h1m-.9-.6h1m-.8 .4h1m-1-.4h1m-1-1.5h1m-.8 1.4h1m-.8-1.6h1m-1 2h1m-1-1.7h1m-1 1.5h1m-.8-.8h1m-.9-.4h1m-1 2.1h1m-.9-.9h1m-.8 .8h1m-.7-.5h1m-.9 .1h1m-1-.2h1m-.8-1.2h1m-1 1.4h1m-1 .5h1m-.8-.8h1m-1-.4h1m-1 .8h1m-.9-2.5h1m-1 .2h1m-1 .9h1m-.9-1h1m-.8 .4h1m-.9-.2h1m-1-.2h1m-.9 2.3h1m-1-.4h1m-.9-1.5h1m-.9 .8h1m-1 .8h1m-1 .6h1m-1-2.7h1m-.9 1h1m-1 .1h1m-.9 1.4h1m-.9-2.1h1m-1 2h1m-.9-1.9h1m-.9-.1h1m-.8-.1h1m-1 .3h1m-1 1.6h1m-.9-.4h1m-1-1.4h1m-.9 1.8h1m-1 .1h1m-1-1.2h1m-.9 0h1m-.9-.8h1m-1 .7h1m-.9 1.1h1m-.9-1.8h1m-1 .5h1m-1 1.1h1m-1 .7h1m-1 .1h1m-.9-.2h1m-1-.2h1m-1-2.2h1m-.9 2.4h1m-.9-1.6h1m-.9 .4h1m-1 1.6h1m-1-.9h1m-.9-1.1h1m-1 1.7h1m-.9-1.4h1m-.9-.6h1m-.9-.2h1m-1 .3h1m-.9 1.2h1m-1-.8h1m-1 1.3h1m-1-1.2h1m-.9-.9h1m-1 2h1m-1-.4h1m-.9-.1h1m-1 .2h1m-.9-1.9h1m-1 1.4h1m-.9-1.4h1m-1 1.1h1m-1 1.6h1m-.9-1.9h1m-1 .7h1m-1 .5h1m-1-1.3h1m-1 .7h1m-.9-1.4h1m-.9 .5h1m-1 1.3h1m-.9 .4h1m-1-2h1m-.9 .1h1m-1 1h1m-.9 .4h1m-1 .6h1m-1-1.9h1m-1 2h1m-.8-.9h1m-.9 .8h1m-.9-1.6h1m-.9 1h1m-1 .1h1m-1 .7h1m-1-2.6h1m-.9 1.9h1m-1-.2h1m-.9 .2h1m-1-.2h1m-.9-.1h1m-1 .8h1m-1-1.8h1m-.9 .7h1m-.9 .8h1m-1-.9h1m-1 .8h1m-1-.5h1m-1 .3h1m-.9-1.2h1m-1 1.5h1m-1-.9h1m-.9 .1h1m-1 .3h1m-.9-.6h1m-.8 1.1h1m-.9-.7h1m-.9 .2h1m-1 1.1h1m-.9-1.6h1m-1-.8h1m-.9 2.4h1m-.9-1.3h1m-1 .5h1m-.8-.5h1m-1 .1h1m-.9 .7h1m-.9-1.5h1m-1 1.3h1m-.9-1.9h1m-1 .4h1m-.8-.3h1m-1 .8h1m-.8 1h1m-1-1.2h1m-.9 .2h1m-1-.6h1m-.9 1h1m-.9 .6h1m-1-1.9h1m-1 1.2h1m-.9-.6h1m-1 1.3h1m-1-1.7h1m-.8 1.5h1m-.9-1.2h1m-.8 .1h1m-.7 .2h1m-.9 1.6h1m-.7 .3h1m-.8-.5h1m-1 .5h1m-.9-1.4h1m-1 .6h1m-1-.2h1m-.6-.6h1m-1 1.2h1m-.4-1.2h1m-.7 .6h1m-.8-.1h1m-1-.1h1m-.9 1.1h1m-.9-1.6h1m-.9 .8h1m-1-1.5h1m-1 2.2h1m-.9-1.8h1m-1 .7h1m-.8-.7h1m-1 1.1h1m-.8-.4h1m-1 .4h1m-.9 .9h1m-.9-1.7h1m-.6-.1h1m-.6 .2h1m-.6-.8h1m-1 1.2h1m-.9-.5h1m-1 .3h1m-.8 .3h1m-.9 0h1m-.7-.1h1m-.7 .6h1m-.6 0h1m-.8-.2h1m-.2-.9h1m-.7 1.5h1m-.6-.9h1m.9-1h1m.4 2.1h1m-29.2 3h1m-.3-2.2h1m-.4 .4h1m-.9 .5h1m-.9 1.3h1m-.9-2.3h1m-.3 2.4h1m-.5-.4h1m-.6-1.9h1m-.5 2.3h1m-.8-.3h1m-.9-1h1m-.9-1h1m-.9-.3h1m-.7 2.6h1m-.7-.4h1m-1-.2h1m-.8 .3h1m-.9-.6h1m-.8-1.3h1m-.9 .6h1m-1 .5h1m-1 1.1h1m-.7-.7h1m-1-.4h1m-1-.5h1m-.9-.6h1m-1 .2h1m-.9 1h1m-1-1.1h1m-.9 .9h1m-1-1h1m-.8 1.4h1m-.6-.3h1m-1 1.1h1m-.8-2.7h1m-.9 1.1h1m-.9 1.2h1m-1-.6h1m-.9-.9h1m-.8 .5h1m-.9-.3h1m-.9 1.4h1m-.8-1.6h1m-1-.1h1m-1-.5h1m-.9 1.9h1m-.9-1.6h1m-.9 1.8h1m-.9-1.3h1m-.9 .1h1m-.8-.6h1m-.9-.7h1m-1 .6h1m-.9 2.3h1m-1-1.9h1m-.9 1.8h1m-1-2.7h1m-.9 1h1m-1 1.5h1m-.8-1.8h1m-1 1.9h1m-1-1.8h1m-.8 1.7h1m-1-2.1h1m-1-.4h1m-.9 2.4h1m-1-1.5h1m-1 .9h1m-1-.2h1m-.9 .9h1m-1-2.6h1m-1 2.7h1m-1-1.8h1m-.9 1.7h1m-.9-.6h1m-1 .3h1m-1-1h1m-1-1.2h1m-.9 2.8h1m-1-.2h1m-1-2.4h1m-.9 1.7h1m-.9-.2h1m-.9 .8h1m-1-1.6h1m-1-1h1m-1 .9h1m-.9-.9h1m-1 1.2h1m-.8-.8h1m-1 2.2h1m-.9-1.5h1m-.9 1.1h1m-1-.4h1m-.7 1.1h1m-.9-1.3h1m-.9 1h1m-1-.4h1m-.8-1.7h1m-1 2h1m-1-1.6h1m-1-.2h1m-1 1.4h1m-1-.9h1m-.9 1.7h1m-1-2.2h1m-1 .8h1m-1 .8h1m-1-1.8h1m-1-.2h1m-.8 2h1m-1-2.1h1m-.9 .2h1m-1 .3h1m-1 1.2h1m-.9 .1h1m-1 .9h1m-1-2.2h1m-.9-.2h1m-.9 2h1m-1-2.1h1m-.9 2.1h1m-1-2.2h1m-1-.1h1m-.9 2h1m-1-.6h1m-1-1.1h1m-.9 .3h1m-1 .3h1m-1 1.5h1m-.9-.7h1m-1 .4h1m-.9 0h1m-1-1h1m-1 .8h1m-.9-1.5h1m-1 1.2h1m-1 .3h1m-.9 .2h1m-1-2.3h1m-.9 2.5h1m-1-1.8h1m-.9-.7h1m-1 1.3h1m-1-.9h1m-.9-.4h1m-1 2.4h1m-1-1.8h1m-.9 1.1h1m-1 .8h1m-.9-2.2h1m-1 .6h1m-.9-.1h1m-1 .6h1m-1-.9h1m-.9 .6h1m-1 1.2h1m-.9 .4h1m-1-2.2h1m-.9 1.8h1m-1-1.8h1m-1 1.5h1m-1-1.6h1m-1 2h1m-.9-1.8h1m-.9 1.2h1m-1-.6h1m-.9-.9h1m-1 1.8h1m-1-1.1h1m-.9-.5h1m-1 .5h1m-1 1.8h1m-1-.2h1m-.9-.6h1m-1-1.4h1m-1 .4h1m-.9 1.7h1m-1-.8h1m-.9-1.6h1m-1 1.3h1m-.9 .1h1m-.8-.9h1m-1 1.1h1m-1 .7h1m-.9-.6h1m-1-.5h1m-1-1.3h1m-.8 2.1h1m-.9-2.1h1m-.9 2.6h1m-1-2.2h1m-.7 .7h1m-1 .1h1m-1 1.2h1m-1-.9h1m-.8-.8h1m-.8 2h1m-1-1.3h1m-.9 1.3h1m-1-.4h1m-.9-.4h1m-1-1.1h1m-.9 0h1m-.9-1h1m-.9 .4h1m-.8 .4h1m-1 .8h1m-1 .8h1m-1 .4h1m-.8-1.9h1m-1-.8h1m-.9 .2h1m-1 .4h1m-1 .8h1m-.9 .9h1m-1 .5h1m-1-.9h1m-.9 .5h1m-.9-.5h1m-.9-.9h1m-1 .6h1m-1-.2h1m-.9-1.2h1m-.9-.2h1m-1 1.9h1m-.8-.1h1m-.9 .1h1m-1 .9h1m-.9-1h1m-.7 .8h1m-.9-.2h1m-.8-1.4h1m-1-1h1m-.9 .7h1m-1-.5h1m-1 1.3h1m-.7 .1h1m-1 .6h1m-.9-.9h1m-1 .9h1m-.9-.5h1m-.9 1.1h1m-1-.4h1m-.9-2.3h1m-.9 .1h1m-.9 .3h1m-.9 1.3h1m-.9 .7h1m-1-.9h1m-.8-.5h1m-1-.9h1m-.9 1.5h1m-1 .8h1m-.9-.4h1m-1-1.4h1m-.9 1.8h1m-.8-.3h1m-1-2.1h1m-.8 .1h1m-.7-.1h1m-.7 .2h1m-1 .8h1m-.8 .5h1m0-.6h1m-.2 1.4h1m-.5 .1h1m-.8-1.8h1m-.8-.7h1m-.4 .7h1m1.7-.5h1m2.1 .3h1m.6 .1h1m-32.9 4.3h1m.8-1.6h1m.1 2.2h1m0-.9h1m-.9-.9h1m-.9 1.4h1m-1-1.4h1m-.5-.1h1m-1 .5h1m-.7-.3h1m-.4-.8h1m-.8 1.5h1m-.9-.4h1m-.8 1.6h1m-.9-1.1h1m-.7-.1h1m-.7-.2h1m-.8-1.2h1m-1 2.6h1m-.9-.7h1m-1 .6h1m-.7-2h1m-.8-.4h1m-.9 1.9h1m-.9-1.9h1m-1 .7h1m-1 .7h1m-1-.6h1m-.7 .9h1m-1-.4h1m-.9-.2h1m-.9-.7h1m-1 .3h1m-1 .2h1m-.9 .7h1m-.9-.3h1m-1-1.6h1m-1 2.5h1m-.8-2.1h1m-1 1.7h1m-.9-.8h1m-.9 1.4h1m-1-2.1h1m-.9 1.1h1m-1 1.1h1m-.8-1.3h1m-1-1h1m-.9 .6h1m-.9 1.3h1m-.7-.8h1m-1-.5h1m-.9 0h1m-1 .9h1m-.9-1.9h1m-1 1.2h1m-.9-.5h1m-1 1.2h1m-.8-1.6h1m-1-.4h1m-1 1.4h1m-.9-1.1h1m-1 1.8h1m-1-1.9h1m-.7 1.2h1m-1 .7h1m-1 .7h1m-1-.8h1m-.9-.6h1m-1 .3h1m-.9-.3h1m-1-1.2h1m-.9 .2h1m-1 2.3h1m-1-1h1m-.9-1.7h1m-.9 2.1h1m-.9 0h1m-.9-.9h1m-.9 1.6h1m-1-.6h1m-1-1h1m-.9 1.7h1m-1-2.5h1m-.8 1.1h1m-1-1.4h1m-.9 2.5h1m-1-1.8h1m-.9 1.5h1m-1 .3h1m-.8 0h1m-.9-1.4h1m-1 1.2h1m-.8-2.1h1m-1 1.5h1m-1-.5h1m-1 1.2h1m-1-.4h1m-.9-1h1m-1 1.8h1m-1-.2h1m-.9-.3h1m-.9-.5h1m-.9-1.6h1m-.9 1.8h1m-1-1h1m-.9 .2h1m-.9 1.1h1m-1-2.3h1m-.8 1.6h1m-1-.1h1m-1-.5h1m-1-.5h1m-.9 1.2h1m-.9-1.1h1m-.9-.1h1m-.9-.1h1m-.9 .1h1m-1 1.9h1m-.9-2.5h1m-1 2.2h1m-.9 .5h1m-.9-1h1m-1-.3h1m-.8 .9h1m-.9-1.6h1m-1 1.4h1m-.9-.3h1m-1-.1h1m-1-.2h1m-.9-.2h1m-.9-.9h1m-.9 1.2h1m-1-1.3h1m-1 1.9h1m-.9-2h1m-1 .2h1m-.9-.4h1m-.9 1.2h1m-1-.3h1m-.9 1.9h1m-1-.1h1m-.8 .1h1m-.9-2.5h1m-.9 .2h1m-1 .1h1m-.9-.1h1m-1 2.3h1m-.9-2.8h1m-.9 .7h1m-.9-.1h1m-.9 1.6h1m-.9-.3h1m-.9 .4h1m-1-1.7h1m-.9 1.4h1m-.9-1.5h1m-1-.2h1m-1 1.3h1m-.9 .9h1m-1 .3h1m-.9-2h1m-.8 .5h1m-1-.2h1m-.8 1.5h1m-1-.6h1m-.9 .8h1m-.9-.3h1m-1 .4h1m-.9-1.6h1m-1-1.2h1m-1 .9h1m-.9 .1h1m-.9 .5h1m-.9-.3h1m-1 1.1h1m-.9-1.4h1m-.9-1h1m-1 1.1h1m-1-1h1m-.9 1.1h1m-.9-1.2h1m-1 .5h1m-1 .7h1m-.9 1.2h1m-.9-1.4h1m-1-.5h1m-.9 1.7h1m-.8 .1h1m-.9-1.2h1m-1 1.7h1m-.8-.3h1m-1-2.3h1m-.8 0h1m-1 .9h1m-.7-.7h1m-.9 2.1h1m-1-.4h1m-.9-.1h1m-.9-1.3h1m-1 .2h1m-.7 .5h1m-1-1.1h1m-.9 .4h1m-1 1.5h1m-1-.2h1m-.8-1.9h1m-.9 .8h1m-1 .5h1m-.7-1.3h1m-.9 1.2h1m-.9-.2h1m-.7-.8h1m-.7 1.2h1m-.9-1.1h1m-.7 1.3h1m-.4 .3h1m-.6-.1h1m-.4-1.5h1m.6 .8h1m-1-.1h1m-.7-.2h1m-.8 .6h1m8.2 0h1m-36.2 2.4h1m1.3 1h1m-1-1.9h1m.2 1.3h1m-.4-.1h1m-.7-1h1m-.8 0h1m-.7 .3h1m-.7 0h1m-.7 .8h1m-.9 .5h1m-1-1.7h1m-.6 2.7h1m-1-.2h1m-.9-1.4h1m-.9-.4h1m-.9 1.3h1m-.9-1.2h1m-.8-.1h1m-.9-.3h1m-.8 1.1h1m-.5 .5h1m-.7-1.2h1m-1-.9h1m-.9 .2h1m-1 2h1m-.3-1.2h1m-.9-.5h1m-.7 1.6h1m-.9-1.7h1m-1 .7h1m-1 1.8h1m-1-1.6h1m-.9 .5h1m-1-.4h1m-.8-1.1h1m-1 1h1m-.9-1h1m-.9-.2h1m-.9 1h1m-.8 .3h1m-1 1.2h1m-.9 .3h1m-.9-1.7h1m-.9-.2h1m-.9-.3h1m-.7 2.1h1m-1-1.9h1m-.9-.7h1m-.9 1.5h1m-1-1.4h1m-1 1.5h1m-.9-1.7h1m-1 1.1h1m-.9-.4h1m-.8-.2h1m-.9 1.3h1m-.9-.9h1m-1 .8h1m-.7 .4h1m-.9-.1h1m-.8-1.8h1m-.9 .4h1m-1-.5h1m-.9 2.7h1m-1-2.4h1m-.8 2.2h1m-.8-.9h1m-1-1h1m-.9 0h1m-.9 .9h1m-.9-1.3h1m-.6 .9h1m-1-.1h1m-.9 .4h1m-.8 1.1h1m-1-.5h1m-1-1.9h1m-.9 0h1m-.9 .3h1m-.9 2h1m-.9-1.1h1m-.9-.2h1m-.9 .7h1m-.9-1h1m-.8-.5h1m-.9 .6h1m-1 1.3h1m-1-1h1m-1 .6h1m-1-.8h1m-.9 .2h1m-.6-1.2h1m-.6 1.3h1m-.9 .8h1m-.9-.5h1m-.8-1.1h1m-1 .3h1m-.9-.4h1m-1 1.2h1m-.7-1.2h1m-.9-.1h1m-.9 .8h1m-1 .6h1m-.9-.1h1m-.7-1.6h1m-1 .4h1m-.6 .3h1m-1 .5h1m-.8-.5h1m-.9 1.2h1m-1-.8h1m-1-1.1h1m-.5 .5h1m-.8-.5h1m-.9 1.4h1m-.9 .3h1m-.6 .4h1m-.9-.8h1m-1-1h1m-1 2h1m-1-1.9h1m-1 1.3h1m-.7-1h1m-.9 1.9h1m-.9 .1h1m-.9-1.4h1m-.9-1.4h1m-.9 2.2h1m-1-.2h1m-.8-1.3h1m-1-.4h1m-.8-.1h1m-1 1.4h1m-.9-.3h1m-.9-1.4h1m-1 .6h1m-.5 1.3h1m-.8-.3h1m-.8-.4h1m-1-.4h1m-.6 1.3h1m-.9-.8h1m-1 .6h1m-.9-.9h1m.1 1.3h1m-.3-1.7h1m-.9 2.3h1m.8-.3h1m-.8-1h1m.4 .8h1m-28.1 3.5h1m-.8-2.9h1m1.3 1h1m-.4-.6h1m0-.3h1m1.3 .1h1m-1 2h1m-.9-1.7h1m-.8 .2h1m-.9 .9h1m-1-1.2h1m-.8-.4h1m-.8 1.4h1m0 .1h1m-.1-.6h1m.7-.2h1m-1 1.1h1m-.9-1h1m-.8-.5h1m-.8-.2h1m-.8 1.8h1m-.9 .5h1m-1-1.8h1m-.9 .4h1m-.7 1.4h1m-.9 .1h1m-.3-1.3h1m-.8-1.2h1m-.6 1.4h1m-.7-.7h1m-.7-.6h1m-.9 1.1h1m-.8 0h1m-.9 1.3h1m-.7-1.4h1m-1-1.1h1m-.9 .9h1m-.8 .7h1m-.9-.5h1m-.8 1.6h1m-1-2.7h1m-.8 .9h1m-.8 .3h1m-.7 .8h1m-.9-1.5h1m-1-.3h1m-1 .8h1m-.8-.5h1m-.8-.4h1m-.9 1.2h1m-.6 .2h1m-.8-.6h1m-1 1.2h1m-.9-1.6h1m-.6 0h1m-1 .4h1m-.8 0h1m-.9 1.8h1m-.9-2h1m-.6 .2h1m-1 1.7h1m-.9-.5h1m-.7 .6h1m0-.7h1m.6-.9h1m-.8-.7h1m-.9 1.5h1m-.2 .4h1m-.7-1.9h1m-1 1.2h1m.9 1.1h1m-24.4 1.7h1m1.2-1.2h1m-.4 .6h1m1.5-.3h1m.4-.3h1m-.2 .7h1m.1 .3h1m-.8-.7h1m-.2 0h1m-.8 1.3h1m-.5-1h1m-.4-.2h1m-.4 1.1h1m-.9 0h1m-.7 .3h1m-.9-1.7h1m-.8 1.8h1m.5 .3h1m-.3-1.7h1m-.2 .7h1m1.1 .4h1m.4-1.8h1m-1 1h1m1.4-.4h1m6.6 1.6h1" stroke="#000" stroke-width="1.0" fill="none" filter="url(#bl)"/>
<path d="m237.3 56.8h1m-31.6 .5h1m3.5 .1h1m.9 .2h1m35.4 .9h1m-51.9 2.7h1m-.8 .5h1m1.1 .4h1m3.1-.2h1m4.7 .8h1m51.6-1.3h1m-73 4h1m3.3 .4h1m.6-.4h1m.1-.3h1m-.5-1.7h1m.9 2.3h1m-.8-1.1h1m.6 1.2h1m-.2-2h1m-.7-.7h1m-.8 2.8h1m-.2-.9h1m-.8 .5h1m-.4-.6h1m1.3 0h1m.3-1.6h1m6.4-.3h1m-25.2 3h1m1.1 2h1m.3 .9h1m1.4-.9h1m-.8-.5h1m1.5 .7h1m-.6-1.1h1m-.6 1h1m-.8-1.6h1m-.7 2h1m-1-1.8h1m-.8 .8h1m-.8 .5h1m-.5-1.1h1m-.6 2h1m2.5-1.7h1m-.3-1.1h1m0 1.8h1m-.2-.9h1m.2 .6h1m42.8-1.6h1m-60.2 4.9h1m-.4-.7h1m.3 .4h1m.6 1.1h1m-.2 .2h1m-.6-2.7h1m-.6 .3h1m.3 .7h1m.8 .7h1m-.3-1.2h1m-.9 1.6h1m.4-.7h1m-.7-1.4h1m-.3 .8h1m-16.9 4.7h1m.8-2.5h1m6.5 1.9h1m-.6-1.4h1m.1-.7h1m-.8 .7h1m-1-.4h1m-.8-.3h1m-.8 1.4h1m-.6-1.2h1m-.9 1.9h1m-.7-1.4h1m-.8 .1h1m0 .6h1m-1-.5h1m1 .8h1m-.9-.1h1m-.2 1h1m.1-1.6h1m10.7-.6h1m3.3 .1h1m-32.8 3.1h1m.6 .8h1m2.8-1.4h1m.5 .5h1m.5 1.3h1m.1-1.6h1m1.1 1.3h1m17.3-.1h1m-24.4 2.9h1m3.5-.2h1m40 1.5h1m6.6-1.7h1m-.1 .7h1m-62 3.1h1m-.7 0h1m5.7-.5h1m16.2 1.1h1m21 .4h1m3.9-.8h1m6-1h1m-39.1 4.8h1m.5-1.7h1m5.5-.2h1m.7 .3h1m-.4 1h1m-.2-1.3h1m4.4 1h1m-.5 1h1m1.9-1.3h1m1-1h1m1 2.4h1m1.3-1.8h1m.1 1h1m0 .8h1m1.5 0h1m1.6-.8h1m-.1-.4h1m-.5-1.7h1m2.7 2.8h1m-44.9 2.3h1m2.2-1.4h1m10.5 2.1h1m1.5-2.8h1m.9 2.2h1m1 .6h1m1.2-1.8h1m2.1 1.9h1m-.7-1.8h1m-1 1.8h1m-.7-1.5h1m-.3-.8h1m.3 1.6h1m-.5-1.1h1m2.8 1h1m-1-.3h1m-.2-.3h1m3.5 0h1m-.8 .1h1m-43.6 4.1h1m3.6 0h1m.4-.1h1m-.1-.4h1m.4-.4h1m-.5-.9h1m.9 .3h1m-.5 1.5h1m-.4-.2h1m.2-1.5h1m1.2 1.5h1m.1-.2h1m.8-.4h1m-.8 .1h1m1.7-1.8h1m1.2 1.8h1m-.9-1.4h1m.5 1.9h1m1.2-2.4h1m1.3 .1h1m-.2 0h1m.8 1.6h1m-.8 .3h1m-.1-1.5h1m-.7 1.3h1m-.7-1.7h1m-.5 1.4h1m1.1 1.1h1m-1-.3h1m-.7 .2h1m.9-.7h1m-.9 .9h1m-.9-1.3h1m-.8-.3h1m-.2-.6h1m.4 1h1m-46.2 4h1m.7-.8h1m9.6-1.6h1m-.5 0h1m.8-.2h1m-.8 .5h1m-1 .8h1m-.9-1h1m-.8 2.5h1m1-1.5h1m-.1 1.1h1m1.2-1.6h1m-.9 1.8h1m.6 .1h1m-.8-2h1m-.4 1.6h1m-.9-.1h1m-.8-1.6h1m-.4 .6h1m-.8-.5h1m-.5 1h1m-.2 .6h1m-.2-2.2h1m.3 .9h1m-.5 1.2h1m-.2-.5h1m-.8 .1h1m-1-.8h1m.3 .1h1m-.8 .6h1m.2 .2h1m-1-1.8h1m.7 1.7h1m-.9-1.8h1m-.3 .1h1m-.5 .6h1m.9 1.5h1m-.9 .6h1m-.3-2h1m-.7 1.1h1m-1-1.1h1m.4 .9h1m-.1 .5h1m.8 0h1m-.8-2.2h1m2.2 .9h1m10.9 .6h1m2.8-.1h1m-59.3 2.6h1m-.8 1.1h1m.5-1.9h1m-.8 1.5h1m3.3 .8h1m1.4-2.1h1m.3 1.6h1m1-.5h1m-.8 .6h1m2.2-1.5h1m.9 .2h1m-.4 1.3h1m3.4 .3h1m-1 .4h1m-.6-.1h1m0 .2h1m-.9-1.8h1m-.8 1h1m-.8-1.2h1m-.8 1.2h1m-.9 .3h1m-.9-1.8h1m.4 .2h1m-.9-.2h1m-.6 .3h1m-.8 1.6h1m-.6-2.1h1m-.1 .6h1m2.5 .9h1m-.9-.1h1m-.8-.5h1m1.6-.2h1m.8 .5h1m-1-1h1m.5 1.1h1m.8 .2h1m-.2-.2h1m.8 1.2h1m.1-1h1m5.6-1.1h1m-60.9 5h1m14-2.7h1m-.9 1.5h1m-.2 .6h1m-.8-.1h1m-.9-.2h1m-.5-1.2h1m2.5-.5h1m-.6 .8h1m1.3 .2h1m-.4 1.7h1m-1-2.9h1m-.8 .1h1m.4 2h1m-.2-1.7h1m.7 .5h1m.2-.2h1m.6 .4h1m-.8-.1h1m-.9-.8h1m1.4 2.4h1m.5-2.4h1m-.9 1h1m-1-.9h1m-.1 1.1h1m-.8-.3h1m0 1.4h1m1-.7h1m-1-.4h1m.7-.2h1m.8-.1h1m.5 1.3h1m-.5-1.5h1m.8 2h1m-.6-1.5h1m4.2 .3h1m5.3-.8h1m-55.5 3.3h1m8 .7h1m.5 1h1m3.9-1.4h1m-.7 .6h1m-.8-1.3h1m-.8 .2h1m-.1-.8h1m.1 2.4h1m-.5 0h1m-.5-2.3h1m-.1 2.2h1m-.7-2.5h1m-.9 1.8h1m-.6-.2h1m-.5-.5h1m.9 1.3h1m-.7-.4h1m-1 .7h1m1.1-1.5h1m-.8 .8h1m-.8-1.6h1m-.6 .2h1m.6 .8h1m-.8-.1h1m-.9-.8h1m-.8 .6h1m1.6-.9h1m.5 2.6h1m-.5-1.4h1m.4-.6h1m-.9 .4h1m-.8 1.1h1m.3-.3h1m.5 .6h1m-.9-.4h1m-.6-.3h1m3.3-1.5h1m1.4 1.8h1m-40.3 1.8h1m-.5 .2h1m-.6-.7h1m4.9 1h1m-.3 1h1m0-2.2h1m1.1-.1h1m.4-.2h1m.5 .6h1m1 1.9h1m-.3-2.3h1m-.7 2.1h1m-.8 0h1m-.8-.7h1m-1 1.3h1m.3-2.7h1m-.9 1.4h1m-.9-.9h1m-.9 1.7h1m-.9-2.2h1m-.9 1.1h1m-.8-.5h1m-.8-.5h1m-.9 1.6h1m-.5-1.9h1m-.5 2.1h1m.1-1.8h1m-.8 1.7h1m-.9-.7h1m-.5 .1h1m-.2 1.4h1m-.2-.6h1m-.6-1.5h1m-.5 .7h1m.5-1.4h1m-.7 2.6h1m-.1-2.2h1m-.8 2h1m-1-1h1m0-1.2h1m1.1 .3h1m2.5 1.1h1m1.2-1.3h1m1.4 1.6h1m-41.4 1.6h1m-.8 .4h1m0 1.6h1m-.6-1.1h1m-.4-.3h1m2.2 1.5h1m-.6-.7h1m-.5-.6h1m4.6 .6h1m.1-.4h1m-.8-.9h1m3.7 .3h1m.8 .4h1m-.9-.6h1m1.6-.2h1m1.8-.1h1m1.7 1.3h1m-.7-1.1h1m1.2 .7h1m3.4-1h1m-.9-.3h1m-.1 1.7h1m22.2-.4h1m3.5 .6h1m-65.8 2.6h1m-.3 1.4h1m-.7-.8h1m2.2 .8h1m0-1.1h1m-1 .8h1m.3-.2h1m0-2.2h1m.4 2.4h1m-.6-.6h1m-.5 .2h1m-.5-1.1h1m8.7 .8h1m-.3-.4h1m-.8 .6h1m-1 .4h1m1.4-2.5h1m.7 2.5h1m-.7-2h1m1 1.4h1m-.4-1.5h1m3.1 1.4h1m1.4-1.5h1m2.6 1.9h1m-43.7 2.9h1m8.6-1.2h1m.1-.9h1m.7 2.6h1m5.9 0h1m-.9-2.5h1m-.4 2.8h1m-.4-2.9h1m-.6 1.3h1m.6-.4h1m.8 .6h1m1.3 .2h1m4.5 1.2h1m-.1-.1h1m-.2-.6h1m-.7-1.3h1m4.8 .6h1m10.3-1.4h1m-43.3 4h1m.4 1.4h1m-.9-1.7h1m3.7 1.9h1m0-.7h1m1.1-.9h1m-.1-.8h1m-.4 2h1m-.3-1.5h1m-.3 .3h1m.7-1.1h1m3.5 .8h1m-.8 0h1m.4 1.1h1m-.2 .8h1m1-.8h1m6.9-1.1h1m.8 1.3h1m-39 3.1h1m3.1 .6h1m1-.9h1m2.3-.4h1m-.9-.7h1m.1 .6h1m1-.2h1m-.7-.5h1m3.3 1.6h1m.6-.7h1m-.4-.7h1m2.6 .6h1m-.7-.7h1m1.1 1.4h1m8.7-.1h1m1-.3h1m-28.5 2.1h1m-.1-.2h1m-.9 0h1m-.7 .6h1m2.5-.5h1m1.9 1.7h1m1.1-1.1h1m.1 .3h1m.1-1h1m-1 .1h1m4.5 1h1m-.9 .9h1m-.8-2.1h1m-.9 1.1h1m.9-.3h1m-.1 .5h1m-26.7 2.9h1m-.3-1.8h1m-.3 1.6h1m1.6 .8h1m3.9-1.6h1m0-.8h1m-.3 1.8h1m.6-1.4h1m-.4 2.4h1m-.6-1.5h1m-.9 1.2h1m-.5 0h1m.2-.2h1m-.9 .6h1m-.8-1.1h1m-.2-1h1m-.1 .5h1m.9 .2h1m.9 1.4h1m.4-2.1h1m-.9-.5h1m2.1 2.6h1m-.7-.9h1m-.7-1.6h1m-34.3 4.1h1m.8 .5h1m2.2-1.2h1m.8-.7h1m2.4 2.8h1m.5-.5h1m0-2.1h1m-1 .7h1m-.9 .7h1m.2 .9h1m2-.5h1m-.3 .1h1m-.5-.5h1m-.6-1.6h1m.5 1.6h1m1.6 .3h1m-1-.7h1m-.4-.7h1m3.5 1.9h1m.4-1.3h1m-.3 1.6h1m4.1-.6h1m6.9-.6h1m-44.4 2.4h1m4.1 .5h1m8.7 .6h1m-.2-1.4h1m4.7 1.8h1m-.1-2.5h1m1.8 .7h1m.5-.5h1m1.5 0h1m6.5 1.7h1m13.1 .2h1m-58.1 2.1h1m14.3-.9h1m6.4-.2h1m3 1.4h1m3.5 1.2h1m16.4 0h1m9.7 0h1m10.6-1h1m-51.4 2.6h1m5 1.1h1m1.7-.3h1" stroke="#2a2a2a" stroke-width="0.9" fill="none" filter="url(#bl)"/>
<rect x="166.1" y="30.8" width="120.1" height="110.89999999999999" fill="none" stroke="#3a3a3a" stroke-width="1.15"/>
<line x1="195.40" y1="30.80" x2="195.40" y2="150.20" stroke="#050505" stroke-width="1.3" stroke-linecap="butt"/>
<line x1="157.60" y1="116.30" x2="286.20" y2="116.30" stroke="#050505" stroke-width="1.3" stroke-linecap="butt"/>
<line x1="175.14" y1="141.70" x2="175.14" y2="144.40" stroke="#444" stroke-width="0.65" stroke-linecap="butt"/>
<line x1="180.43" y1="141.70" x2="180.43" y2="144.40" stroke="#444" stroke-width="0.65" stroke-linecap="butt"/>
<line x1="184.18" y1="141.70" x2="184.18" y2="144.40" stroke="#444" stroke-width="0.65" stroke-linecap="butt"/>
<line x1="187.09" y1="141.70" x2="187.09" y2="144.40" stroke="#444" stroke-width="0.65" stroke-linecap="butt"/>
<line x1="189.46" y1="141.70" x2="189.46" y2="144.40" stroke="#444" stroke-width="0.65" stroke-linecap="butt"/>
<line x1="191.47" y1="141.70" x2="191.47" y2="144.40" stroke="#444" stroke-width="0.65" stroke-linecap="butt"/>
<line x1="193.22" y1="141.70" x2="193.22" y2="144.40" stroke="#444" stroke-width="0.65" stroke-linecap="butt"/>
<line x1="194.75" y1="141.70" x2="194.75" y2="144.40" stroke="#444" stroke-width="0.65" stroke-linecap="butt"/>
<line x1="196.12" y1="141.70" x2="196.12" y2="150.20" stroke="#222" stroke-width="1.0" stroke-linecap="butt"/>
<line x1="205.16" y1="141.70" x2="205.16" y2="144.40" stroke="#444" stroke-width="0.65" stroke-linecap="butt"/>
<line x1="210.45" y1="141.70" x2="210.45" y2="144.40" stroke="#444" stroke-width="0.65" stroke-linecap="butt"/>
<line x1="214.20" y1="141.70" x2="214.20" y2="144.40" stroke="#444" stroke-width="0.65" stroke-linecap="butt"/>
<line x1="217.11" y1="141.70" x2="217.11" y2="144.40" stroke="#444" stroke-width="0.65" stroke-linecap="butt"/>
<line x1="219.49" y1="141.70" x2="219.49" y2="144.40" stroke="#444" stroke-width="0.65" stroke-linecap="butt"/>
<line x1="221.50" y1="141.70" x2="221.50" y2="144.40" stroke="#444" stroke-width="0.65" stroke-linecap="butt"/>
<line x1="223.24" y1="141.70" x2="223.24" y2="144.40" stroke="#444" stroke-width="0.65" stroke-linecap="butt"/>
<line x1="224.78" y1="141.70" x2="224.78" y2="144.40" stroke="#444" stroke-width="0.65" stroke-linecap="butt"/>
<line x1="226.15" y1="141.70" x2="226.15" y2="150.20" stroke="#222" stroke-width="1.0" stroke-linecap="butt"/>
<line x1="235.19" y1="141.70" x2="235.19" y2="144.40" stroke="#444" stroke-width="0.65" stroke-linecap="butt"/>
<line x1="240.48" y1="141.70" x2="240.48" y2="144.40" stroke="#444" stroke-width="0.65" stroke-linecap="butt"/>
<line x1="244.23" y1="141.70" x2="244.23" y2="144.40" stroke="#444" stroke-width="0.65" stroke-linecap="butt"/>
<line x1="247.14" y1="141.70" x2="247.14" y2="144.40" stroke="#444" stroke-width="0.65" stroke-linecap="butt"/>
<line x1="249.51" y1="141.70" x2="249.51" y2="144.40" stroke="#444" stroke-width="0.65" stroke-linecap="butt"/>
<line x1="251.52" y1="141.70" x2="251.52" y2="144.40" stroke="#444" stroke-width="0.65" stroke-linecap="butt"/>
<line x1="253.27" y1="141.70" x2="253.27" y2="144.40" stroke="#444" stroke-width="0.65" stroke-linecap="butt"/>
<line x1="254.80" y1="141.70" x2="254.80" y2="144.40" stroke="#444" stroke-width="0.65" stroke-linecap="butt"/>
<line x1="256.17" y1="141.70" x2="256.17" y2="150.20" stroke="#222" stroke-width="1.0" stroke-linecap="butt"/>
<line x1="265.21" y1="141.70" x2="265.21" y2="144.40" stroke="#444" stroke-width="0.65" stroke-linecap="butt"/>
<line x1="270.50" y1="141.70" x2="270.50" y2="144.40" stroke="#444" stroke-width="0.65" stroke-linecap="butt"/>
<line x1="274.25" y1="141.70" x2="274.25" y2="144.40" stroke="#444" stroke-width="0.65" stroke-linecap="butt"/>
<line x1="277.16" y1="141.70" x2="277.16" y2="144.40" stroke="#444" stroke-width="0.65" stroke-linecap="butt"/>
<line x1="279.54" y1="141.70" x2="279.54" y2="144.40" stroke="#444" stroke-width="0.65" stroke-linecap="butt"/>
<line x1="281.55" y1="141.70" x2="281.55" y2="144.40" stroke="#444" stroke-width="0.65" stroke-linecap="butt"/>
<line x1="283.29" y1="141.70" x2="283.29" y2="144.40" stroke="#444" stroke-width="0.65" stroke-linecap="butt"/>
<line x1="284.83" y1="141.70" x2="284.83" y2="144.40" stroke="#444" stroke-width="0.65" stroke-linecap="butt"/>
<line x1="286.20" y1="141.70" x2="286.20" y2="150.20" stroke="#222" stroke-width="1.0" stroke-linecap="butt"/>
<line x1="163.40" y1="133.35" x2="166.10" y2="133.35" stroke="#444" stroke-width="0.6" stroke-linecap="butt"/>
<line x1="163.40" y1="128.47" x2="166.10" y2="128.47" stroke="#444" stroke-width="0.6" stroke-linecap="butt"/>
<line x1="163.40" y1="125.01" x2="166.10" y2="125.01" stroke="#444" stroke-width="0.6" stroke-linecap="butt"/>
<line x1="163.40" y1="122.32" x2="166.10" y2="122.32" stroke="#444" stroke-width="0.6" stroke-linecap="butt"/>
<line x1="163.40" y1="120.13" x2="166.10" y2="120.13" stroke="#444" stroke-width="0.6" stroke-linecap="butt"/>
<line x1="163.40" y1="118.27" x2="166.10" y2="118.27" stroke="#444" stroke-width="0.6" stroke-linecap="butt"/>
<line x1="163.40" y1="116.66" x2="166.10" y2="116.66" stroke="#444" stroke-width="0.6" stroke-linecap="butt"/>
<line x1="163.40" y1="115.24" x2="166.10" y2="115.24" stroke="#444" stroke-width="0.6" stroke-linecap="butt"/>
<line x1="157.60" y1="113.97" x2="166.10" y2="113.97" stroke="#222" stroke-width="1.0" stroke-linecap="butt"/>
<line x1="163.40" y1="105.63" x2="166.10" y2="105.63" stroke="#444" stroke-width="0.6" stroke-linecap="butt"/>
<line x1="163.40" y1="100.75" x2="166.10" y2="100.75" stroke="#444" stroke-width="0.6" stroke-linecap="butt"/>
<line x1="163.40" y1="97.28" x2="166.10" y2="97.28" stroke="#444" stroke-width="0.6" stroke-linecap="butt"/>
<line x1="163.40" y1="94.60" x2="166.10" y2="94.60" stroke="#444" stroke-width="0.6" stroke-linecap="butt"/>
<line x1="163.40" y1="92.40" x2="166.10" y2="92.40" stroke="#444" stroke-width="0.6" stroke-linecap="butt"/>
<line x1="163.40" y1="90.54" x2="166.10" y2="90.54" stroke="#444" stroke-width="0.6" stroke-linecap="butt"/>
<line x1="163.40" y1="88.94" x2="166.10" y2="88.94" stroke="#444" stroke-width="0.6" stroke-linecap="butt"/>
<line x1="163.40" y1="87.52" x2="166.10" y2="87.52" stroke="#444" stroke-width="0.6" stroke-linecap="butt"/>
<line x1="157.60" y1="86.25" x2="166.10" y2="86.25" stroke="#222" stroke-width="1.0" stroke-linecap="butt"/>
<line x1="163.40" y1="77.90" x2="166.10" y2="77.90" stroke="#444" stroke-width="0.6" stroke-linecap="butt"/>
<line x1="163.40" y1="73.02" x2="166.10" y2="73.02" stroke="#444" stroke-width="0.6" stroke-linecap="butt"/>
<line x1="163.40" y1="69.56" x2="166.10" y2="69.56" stroke="#444" stroke-width="0.6" stroke-linecap="butt"/>
<line x1="163.40" y1="66.87" x2="166.10" y2="66.87" stroke="#444" stroke-width="0.6" stroke-linecap="butt"/>
<line x1="163.40" y1="64.68" x2="166.10" y2="64.68" stroke="#444" stroke-width="0.6" stroke-linecap="butt"/>
<line x1="163.40" y1="62.82" x2="166.10" y2="62.82" stroke="#444" stroke-width="0.6" stroke-linecap="butt"/>
<line x1="163.40" y1="61.21" x2="166.10" y2="61.21" stroke="#444" stroke-width="0.6" stroke-linecap="butt"/>
<line x1="163.40" y1="59.79" x2="166.10" y2="59.79" stroke="#444" stroke-width="0.6" stroke-linecap="butt"/>
<line x1="157.60" y1="58.52" x2="166.10" y2="58.52" stroke="#222" stroke-width="1.0" stroke-linecap="butt"/>
<line x1="163.40" y1="50.18" x2="166.10" y2="50.18" stroke="#444" stroke-width="0.6" stroke-linecap="butt"/>
<line x1="163.40" y1="45.30" x2="166.10" y2="45.30" stroke="#444" stroke-width="0.6" stroke-linecap="butt"/>
<line x1="163.40" y1="41.83" x2="166.10" y2="41.83" stroke="#444" stroke-width="0.6" stroke-linecap="butt"/>
<line x1="163.40" y1="39.15" x2="166.10" y2="39.15" stroke="#444" stroke-width="0.6" stroke-linecap="butt"/>
<line x1="163.40" y1="36.95" x2="166.10" y2="36.95" stroke="#444" stroke-width="0.6" stroke-linecap="butt"/>
<line x1="163.40" y1="35.09" x2="166.10" y2="35.09" stroke="#444" stroke-width="0.6" stroke-linecap="butt"/>
<line x1="163.40" y1="33.49" x2="166.10" y2="33.49" stroke="#444" stroke-width="0.6" stroke-linecap="butt"/>
<line x1="163.40" y1="32.07" x2="166.10" y2="32.07" stroke="#444" stroke-width="0.6" stroke-linecap="butt"/>
<line x1="157.60" y1="30.80" x2="166.10" y2="30.80" stroke="#222" stroke-width="1.0" stroke-linecap="butt"/>
<text transform="translate(172.70 50.40) scale(1.03 1)" font-size="16.8" font-weight="normal" text-anchor="start" fill="#111">50</text>
<text transform="translate(283.20 50.40) scale(1.03 1)" font-size="16.8" font-weight="normal" text-anchor="end" fill="#111">11</text>
<text transform="translate(280.00 138.10) scale(1.03 1)" font-size="16.8" font-weight="normal" text-anchor="end" fill="#111">0.1</text>
<path d="m38.5 230.2h1m2.5-1.9h1m-.8 2.1h1m.3 .4h1m-.4-.8h1m-.3-.6h1m-.9-1.1h1m-.4 1.1h1m0-1.2h1m-.2 2.4h1m-.2-.1h1m-.3 .3h1m-1-.3h1m-.9-1.8h1m-.6 1.4h1m-.7-.8h1m-.9 1h1m0-1.3h1m-.3 .5h1m-.6-.7h1m-.1 2.1h1m-.5-.3h1m1.4 .3h1m-.3-2h1m-.8 0h1m-23.3 3.1h1m2.2 .4h1m-1 .4h1m1 .1h1m-1-1.6h1m-.7 .4h1m-.9 1h1m-.6-1.6h1m-.5 1.1h1m-.4-.9h1m-1 1.5h1m-.8-.6h1m-.5 .5h1m-.5 .3h1m-.2 .5h1m-.9-1h1m-1-1.5h1m-.6 1.4h1m-.9 1h1m-.7 .1h1m-.9-1.2h1m-.6-1.2h1m-.5 .9h1m-.9 1.7h1m-.9-1.3h1m-.8 1.1h1m-.2-2.4h1m-.7 1.6h1m-.9-.9h1m-.2 0h1m-.4 .5h1m-.4-.3h1m.4-.3h1m-.3 .2h1m-.4-.4h1m-.7 .1h1m-.9 2h1m.2-1.6h1m0-.4h1m.4 1.8h1m3.8 .2h1m-24.9 3.3h1m-.9 0h1m-.6-2h1m-.9 1.3h1m.7 .3h1m.6 .2h1m-.7-2.6h1m-.9 1.1h1m-.7 1h1m-.9-.4h1m-.8-1.3h1m-1 1.8h1m-.4-2.2h1m-.5 .6h1m-.8 1.8h1m-.8 .3h1m-1-2.7h1m-.8 .1h1m-.6 2.7h1m-.8-1.1h1m-.9 .6h1m-.8 0h1m-.9-2.3h1m-.6 1.8h1m-.9-.9h1m-1 1.4h1m-1 .2h1m-1-1.8h1m-.9-.6h1m-1 1.2h1m-.9 .3h1m-.8 1h1m-.5-.9h1m-1 .4h1m-.9-2h1m-1 2.2h1m-.7-.9h1m-1 1.3h1m-1-.7h1m-1 .5h1m-.9-1.7h1m-1 1.7h1m-.6-.8h1m-.9 .6h1m-.8-1.2h1m-.7 1h1m-.9 .5h1m-.7 .1h1m-.9-1.3h1m-.9 1.2h1m-.9-2.2h1m-.5 1.6h1m-.8 .4h1m-.9-2.5h1m-.6 2.6h1m-.9-1.4h1m-1 .7h1m-.7 0h1m-1-.5h1m-.3-.9h1m-.8 1h1m-.6-.6h1m-.8-.1h1m-.7 1.3h1m-.3-1.3h1m-.9 .1h1m.5 1.6h1m.3 0h1m-.8 .1h1m-1 .3h1m-.5-.2h1m1.7-.5h1m-26.1 2.9h1m-.2-.8h1m-1-1h1m-.3 2.1h1m-.6-1.1h1m-.9-.3h1m-.2 1.7h1m.7-2.3h1m-1 2.2h1m-.9-.3h1m-1-2.1h1m0 2.4h1m-.9 .3h1m-1-2.3h1m-.2 .1h1m-1-.1h1m-.7 2h1m-.3 .1h1m-.8-.4h1m-1-2h1m-.4 2.2h1m-1-.2h1m-.5 0h1m-1 .4h1m-.9-2h1m-.9 1.5h1m-.7-1.6h1m-1-.4h1m-.8 2.5h1m-.7 .2h1m-.5-2.8h1m-1 2.6h1m-1-1h1m-.7 .9h1m-1-.4h1m-.6-1.1h1m-.9 .6h1m-.6 1h1m-1-.9h1m-.7 .5h1m-.9-1.2h1m-1 .9h1m-.8 .9h1m-1-2.9h1m-.9 2.5h1m-.9-1.1h1m-.5-1h1m-.9 1.6h1m-.9-.9h1m-.8 .1h1m-.6 .7h1m-.9 .4h1m-.8-1.3h1m-.9 .8h1m-.9 .1h1m-.8-.5h1m-.5-1.2h1m-.7 .9h1m-.7 .7h1m-1-1.4h1m-1 2h1m-.7-2.2h1m-.8 1.1h1m-.6 1.4h1m-.8-1.2h1m-.9-.1h1m-.8 .6h1m-.7 .9h1m-.5-2.9h1m-1 1.2h1m-.9 .4h1m-.9-.9h1m-1 .2h1m-.9 .3h1m-1 .9h1m-.9-.7h1m-.7-.4h1m-.9 1.5h1m-1 .1h1m-.9-.1h1m-.7-1.7h1m-.6 .2h1m-.1 1.4h1m-.8-1.7h1m-1 .8h1m-.9-.2h1m-.9-.1h1m-.6-.9h1m-.9 2.1h1m-.7-.3h1m-.4 .2h1m-.8-1.9h1m-.8-.4h1m-1 .2h1m1.7 .3h1m-.6 .7h1m-25.4 2.7h1m-.5 .5h1m-.7 1.2h1m-.6-1.3h1m.2-.9h1m-1 .4h1m-.6 .1h1m-.9 .4h1m-.4 1.1h1m-.6 0h1m-.9-.9h1m-.8 1.1h1m-1 .1h1m-.7-2.3h1m-.5-.3h1m-.6 1.9h1m-1 .4h1m-.5-.7h1m-1 1.1h1m-.6-.9h1m-1-.4h1m-.9 1h1m-.7-2.2h1m-1 .8h1m-.5 .5h1m-.9 1.1h1m-1-.5h1m-1-.3h1m-.8 0h1m-1 .2h1m-.9 .5h1m-.9-1.6h1m-.8 1.6h1m-1-2.3h1m-.8 1.3h1m-.6-.4h1m-1 1h1m-.8 .7h1m-.5-2.4h1m-1 .8h1m-.8 1h1m-.9 .4h1m-.9-2.4h1m-.9 2h1m-1 .4h1m-.9-1.8h1m-1 1.5h1m-.9-1.4h1m-1-1h1m-.8 2.6h1m-1-1.4h1m-.8 1.4h1m-.9 .3h1m-1-1.4h1m-.9 .3h1m-.9-1.1h1m-1 .3h1m-1-.1h1m-.9 1.4h1m-.8 .5h1m-.8-1.7h1m-.9-.9h1m-.4 2h1m-.9-.1h1m-.9-1.2h1m-1 1.5h1m-.9-.9h1m-1 .7h1m-.7-.7h1m-1-1.1h1m-.9 2h1m-1 .5h1m-.8-.9h1m-1-1.9h1m-.9 .3h1m-.9 2.2h1m-1-1.1h1m-1-1h1m-.9 .8h1m-.8-1.2h1m-.9 2h1m-.9-.9h1m-.9 1h1m-1-1h1m-.9 .3h1m-.8 .8h1m-1-.1h1m-.9-.1h1m-.7-1.3h1m-.7 1.3h1m-1-.3h1m-.8 .2h1m-1-.6h1m-1-1.1h1m-.8-.3h1m-.9 1.1h1m-.5-1.1h1m-.8 2.8h1m-1-1.6h1m-.9 .8h1m-.8-1.8h1m-.9 1.7h1m-.9-.4h1m-.9-.5h1m-.9 1.6h1m-.9-1.9h1m-.6 .8h1m-1-.1h1m-.8-.6h1m-.8 1.1h1m-.7-1.9h1m-.8 .6h1m-.9 2h1m-.8-.1h1m-.7-2.1h1m0 1.7h1m-.9-1.9h1m-.8 1.9h1m-.9-.5h1m-.6-.9h1m-.2-.1h1m-.9 1h1m-.1 .8h1m-.6-1.7h1m-1 1.3h1m-1 .9h1m3.4-1h1m-28 1.4h1m-.5 2.5h1m-.6-.3h1m-.8-1.9h1m-.1 0h1m-.7 1.6h1m-.9-1.1h1m0 0h1m-.9 1.8h1m-.7-2.2h1m-.7 1.7h1m-.7-1.1h1m-.9-.3h1m-1 1.7h1m-.6-2.1h1m-1 .3h1m-.5 1.9h1m-.7-.1h1m-.7-2.4h1m-.8 1.9h1m-.8-.8h1m-1 .1h1m-.8-1.1h1m-.7 2.3h1m-.9-.6h1m-.9-.4h1m-1-.8h1m-.7 .4h1m-.9 .3h1m-1 .8h1m-.8-1.6h1m-1-.6h1m-.9 2.5h1m-.9 .1h1m-1-.8h1m-.7 .3h1m-.9-1.1h1m-.9 1.4h1m-1-2.1h1m-.8 .9h1m-.9 1.4h1m-.7-.5h1m-1 .6h1m-.7-1.6h1m-.9 1.6h1m-1-2.4h1m-.8 .2h1m-.8 .2h1m-.9-.7h1m-.9 2.5h1m-1-2.4h1m-.9 1.5h1m-.9-1.5h1m-1 1.6h1m-.9 1h1m-.9-2.9h1m-1 .4h1m-.9 2.5h1m-1-.3h1m-.9-.6h1m-.9-1h1m-1 1.2h1m-.9-.9h1m-.9 .8h1m-1-1.8h1m-1 1.6h1m-.9-1h1m-1-.6h1m-.8 .3h1m-.9 .2h1m-.9 .6h1m-.9-1.3h1m-.9 2.8h1m-.9-.3h1m-1-2.4h1m-.9 1.7h1m-1-1.6h1m-.8 1.8h1m-1-1h1m-.9 .1h1m-1-.5h1m-.9-.6h1m-.8 .4h1m-1 2h1m-.9-2.3h1m-.8 .8h1m-.9-.1h1m-.9 .1h1m-.9-.2h1m-1 .7h1m-.9 .1h1m-1 .4h1m-.9 .2h1m-1 .7h1m-.9-.8h1m-.9-1.5h1m-1 .6h1m-.9 1.2h1m-.9 .2h1m-1-.8h1m-.8-1.5h1m-.8 2.6h1m-.9-.9h1m-1-1.1h1m-.8-.6h1m-.8 2.3h1m-1-.9h1m-.9-1.5h1m-.9-.2h1m-1 .3h1m-.8 2.5h1m-1-1.4h1m-.7 .8h1m-.7-1.4h1m-.8 1.3h1m-.8-1.4h1m-.7-.7h1m-.9 .5h1m-.9 2.1h1m-1-2.4h1m-.9-.2h1m-.9 2.5h1m-.8-.7h1m-.8 .4h1m-.6-.4h1m-.9-1.8h1m-1 2.5h1m-.6 .1h1m-.9-.5h1m-.9-.8h1m-.9 .8h1m-.9 .8h1m-.7-2.4h1m-.4 1.8h1m-.9-1.3h1m-.6 .7h1m-.9-.7h1m-.9-.3h1m-.9 .2h1m-.9 1.2h1m-.7-.7h1m-.3 .3h1m-.4-.1h1m-.7-1.1h1m1.5 2.3h1m1.1 .1h1m-27.1 .1h1m-.8 2h1m-.2 .5h1m-.8-.8h1m-1-1.3h1m-.6 2.1h1m-.9-2.1h1m-.9 2.2h1m-.8-1.6h1m-.8 1.3h1m.7-.5h1m-.8-1.2h1m-.7 1.7h1m-.5-.4h1m-.9 .8h1m-1-2.6h1m-.8 .2h1m-.5 2.6h1m-.9-2.9h1m-1 2.5h1m-.9-.6h1m-.6-.3h1m-.9-.3h1m-.9 1.4h1m-1-1.4h1m-.9 .2h1m-.9-.1h1m-.9-1.4h1m-.8 2.3h1m-.8-1.4h1m-1-.1h1m-.6 1h1m-.9 .3h1m-1-.1h1m-.9 .9h1m-.7-2.4h1m-.9 1.8h1m-.9-.3h1m-1 .8h1m-1-2.2h1m-.9-.5h1m-1 2.4h1m-.9-2.4h1m-1 1.5h1m-.9-1.4h1m-1 1.3h1m-1 .1h1m-.8 .4h1m-.8-.5h1m-.9 1.4h1m-.9-1.5h1m-.9 1.5h1m-1-2.9h1m-1 .1h1m-.8 2h1m-.7-2h1m-.9 1.3h1m-1-.6h1m-.7 1.6h1m-1-.9h1m-.9-1.4h1m-1 1.3h1m-.9 .2h1m-1 .2h1m-1-.1h1m-.8-.5h1m-1-.6h1m-.8 1.2h1m-1 .1h1m-.9-.5h1m-1 .7h1m-.9 .8h1m-.9-.9h1m-.9-2h1m-.9 1.3h1m-1-.4h1m-.8-.9h1m-1 2h1m-.9-.3h1m-1-.3h1m-1-.1h1m-.8-.7h1m-1 .8h1m-.9-1.1h1m-.9 1.1h1m-1 1.5h1m-1-2.6h1m-.9 .2h1m-.9 1.7h1m-1-1.4h1m-.8 1.8h1m-.9-1.1h1m-.9 0h1m-1 .1h1m-.8-1.6h1m-.9 .3h1m-1 .2h1m-.9 1h1m-1 1.4h1m-.9-2.5h1m-1 2.2h1m-1-.1h1m-.9-1h1m-1 .4h1m-.9-.1h1m-1 .2h1m-1-1.2h1m-.9 1.8h1m-1-1h1m-1-1h1m-.9 1.9h1m-1-1.8h1m-.9 1.8h1m-.9-.4h1m-1-.2h1m-.6 .9h1m-.8-.8h1m-1-1.3h1m-.9 1.9h1m-.9-1h1m-1 1.3h1m-.8-.7h1m-.9 0h1m-1-1.1h1m-.8 1h1m-.9-1.6h1m-1 2.2h1m-.9 .1h1m-.9-1.3h1m-.8 .6h1m-.9 .6h1m-1 .2h1m-1-2.1h1m-.7 2h1m-.9-.8h1m-1-1.4h1m-.7 1.2h1m-1-.6h1m-.9-.2h1m-1 1h1m-1-.1h1m-.4-1.3h1m-.7 2.2h1m-.9-2.6h1m-.8 1.3h1m-.9 1.3h1m-.5-2.1h1m-.6 1.1h1m-.9 .1h1m-.7 1h1m-.8-.7h1m-.9-2.2h1m-.4 1h1m-.3 .6h1m-1 .8h1m-.6-.5h1m-.6-.9h1m-.3-.8h1m1.1 .4h1m-.7 1.4h1m-.9-.9h1m-.8 .6h1m-25.7 4.1h1m-.1-.7h1m-.8-1.1h1m1.3-.6h1m-.9 1h1m-.7 1.4h1m-.9-.8h1m-1-.4h1m-1-1.3h1m-.8 2.1h1m-.9-1.1h1m-.7 0h1m-.9 .1h1m-.8 .8h1m-.8 .2h1m-.8-1.9h1m-1 .3h1m-.9-.1h1m-1 .4h1m-.7 1.3h1m-.9-.8h1m-1-.3h1m-.9 0h1m-1 1.2h1m-.9 .3h1m-.9-1.3h1m-1-.9h1m-.9-.4h1m-1-.1h1m-.8 1.8h1m-.9-1.1h1m-.8 .2h1m-.9-.1h1m-.9 1.3h1m-.9 .1h1m-.9-1.7h1m-1-.4h1m-.9 1.7h1m-.9 .1h1m-.9 .8h1m-.9-2.2h1m-.9-.5h1m-1 2.5h1m-.8 .3h1m-.8-1h1m-1-1.6h1m-1-.3h1m-1 1.3h1m-.9-.1h1m-.9-.5h1m-1 .8h1m-1 1.3h1m-.7-2.2h1m-1-.3h1m-.9 .2h1m-.9 .9h1m-1-1.4h1m-1 .5h1m-1 .8h1m-1 .7h1m-.9-.3h1m-.9-1.4h1m-.9 2.1h1m-1 .2h1m-.9-1.3h1m-1 .4h1m-.9-1.7h1m-1 2.9h1m-1-2.6h1m-.8 1.2h1m-1-.5h1m-.9 .6h1m-.9-.1h1m-.9 1.2h1m-1-1.3h1m-.9-.5h1m-.9 1.4h1m-.9-1.3h1m-.9 .7h1m-.9-.7h1m-1 .3h1m-1 1.6h1m-1-1.5h1m-.9 1h1m-1-1.8h1m-.9 2h1m-.9-1.4h1m-1-.8h1m-.9-.1h1m-1 .9h1m-1 1h1m-.9 .6h1m-1-2.7h1m-1 .5h1m-.9 .9h1m-1 .8h1m-.8-.7h1m-1 1.3h1m-.8-2.2h1m-.9-.5h1m-1 1.9h1m-.9-1h1m-1-.4h1m-.9 1.1h1m-.8 .8h1m-1-.1h1m-.9 .1h1m-1-1.4h1m-.9 .1h1m-1-.5h1m-1 .3h1m-.8-.7h1m-.9 1.2h1m-1 .7h1m-.9-.3h1m-1-1.4h1m-.8-.3h1m-1 1.3h1m-.8-1.5h1m-1 1.5h1m-.8 .4h1m-.9-1.3h1m-1 1.8h1m-1-.1h1m-.9-.6h1m-1-1.1h1m-.9 2h1m-.8-1.4h1m-.9-1.2h1m-.7 1.1h1m-.9-1h1m-.8 1.3h1m-1 .8h1m-1-.4h1m-1-1.5h1m-.8-.2h1m-1 .5h1m-1 1.6h1m-1-1.9h1m-.8 1.9h1m-.8-1.3h1m-.9 .3h1m-1-.5h1m-.9-.8h1m-1 .5h1m-.8-.4h1m-1 .5h1m-.9 2.3h1m-1-1.2h1m-1 .2h1m-.9-1.2h1m-.9 0h1m-1-.2h1m-.7 .1h1m-.8 1.1h1m-.9-1.6h1m-.9 .4h1m-1 2.2h1m-1-1.3h1m-1-.6h1m-.8 .4h1m-1-.8h1m-1-.1h1m-.8 .9h1m-1 .2h1m-.9 .8h1m-.8-.6h1m-.8 .4h1m-.8-1.2h1m-1-.3h1m-.2 .8h1m-1-.5h1m-.5-.6h1m-.8 0h1m-.9 .1h1m-.9 2h1m-.9-1.8h1m-1 .6h1m-.5 .1h1m-.4 1.5h1m-.5-1.2h1m-.8 1.4h1m-.9-2.7h1m-.9 .8h1m-.7 .1h1m-.5 .4h1m-.6-.9h1m-.6 1h1m-.9-1.6h1m-.9 2.3h1m.6-.6h1m-25.9 3.4h1m.7-1.4h1m-.9 1.6h1m-.4-.6h1m-1-1.1h1m0-.1h1m-.5 .7h1m-.4 1.4h1m-.8 .3h1m-.9-2.4h1m-.8 .8h1m-1 .1h1m-.8 1.2h1m-.7-1.5h1m-1 1.5h1m-.9-2.6h1m-.9 1.5h1m-.9-.5h1m-.9 1.8h1m-.4-1.7h1m-1 1.8h1m-1-2.4h1m-.9 2.2h1m-.9-.8h1m-.8-.2h1m-.8-.9h1m-.9 0h1m-.8 1.9h1m-.9-1.9h1m-.9 .7h1m-1-1h1m-.9 2.2h1m-.9-2.2h1m-.9 2h1m-.9-.3h1m-.9-.3h1m-1-1.2h1m-1-.5h1m-.8 1.4h1m-1 .8h1m-.9-2.2h1m-1 .2h1m-.9 1h1m-1-.9h1m-.8-.5h1m-.8 1h1m-1-.9h1m-.8 0h1m-1 1.7h1m-.8-.9h1m-.9 1.7h1m-.9-1.6h1m-.9 .9h1m-1-1.9h1m-.8 2.7h1m-1-1.2h1m-.9-.2h1m-1 1.1h1m-.9-2.2h1m-.9 1.5h1m-.9-1.3h1m-.9-.4h1m-.8 .9h1m-.9 1.1h1m-.9-.5h1m-.9 .9h1m-.9-1.5h1m-1 1.5h1m-1-1.8h1m-1-.5h1m-.7 1.7h1m-1-1h1m-1 1.2h1m-1-1.3h1m-.7 2h1m-1-.6h1m-.8-1.7h1m-1 1.7h1m-.9 0h1m-.9-1.4h1m-1 .8h1m-1 .7h1m-1-.3h1m-.9-.4h1m-.9 1.1h1m-1-1.6h1m-1 1.8h1m-.9-.2h1m-.9-1.9h1m-1 1.6h1m-.9 .2h1m-1-.2h1m-1-.1h1m-.9-2.2h1m-1 1.3h1m-1 1.5h1m-1-.6h1m-.8 .6h1m-1-1.9h1m-1 .2h1m-.9 1.7h1m-.9-2.3h1m-.9 1.6h1m-.9-1.7h1m-1 2.4h1m-.9-1.9h1m-.9 1.9h1m-1-.8h1m-.9-.7h1m-.9 .2h1m-1 1.2h1m-1-.7h1m-.9-.9h1m-.8-1h1m-.9 .7h1m-1-.4h1m-1 .2h1m-.8 2h1m-.9-1.7h1m-1 .7h1m-.9-.7h1m-.9 .1h1m-1 .1h1m-.9-1h1m-1 2.4h1m-1-1.5h1m-.9-.7h1m-.8 2.6h1m-1-1.5h1m-.9 .5h1m-.9 1h1m-1-1.6h1m-1 1.4h1m-1-1.3h1m-.9-.4h1m-.9 .3h1m-.9 0h1m-1 .6h1m-.9 .8h1m-1-.9h1m-.9 .7h1m-1 .3h1m-.9-2.2h1m-.9 .1h1m-.7-.2h1m-.8 2h1m-.8-.7h1m-1 .6h1m-1-.3h1m-.8 .3h1m-.9-.5h1m-.8 .1h1m-.7 .8h1m-.8-2.5h1m-.9 0h1m-1 .1h1m-1 2h1m-.9-.2h1m-1 .5h1m-.7-1.6h1m-1 .2h1m-1-.6h1m-.9 1.6h1m-.8 .4h1m-1-2.7h1m-.8 .7h1m-.9 .7h1m-.7-1.3h1m-.8 2.6h1m-.9-2h1m-.9-.7h1m-.8 2.1h1m-.6 .3h1m-.9-.6h1m-.6 0h1m-.9-.9h1m-.8 .9h1m-.7-1.8h1m-.9 2.3h1m-1-1.4h1m-.4-.9h1m-.7 2.6h1m-.6-1.1h1m-.9-.1h1m-.6 .5h1m2.1 0h1m-28.5 2.2h1m-.7 .4h1m1.5-.5h1m-.9-.1h1m-.7-.2h1m-.1-.7h1m-.9 .2h1m-.6 2.1h1m.7 .3h1m-.9-.8h1m-.1-1.7h1m-.9 2h1m-1 .7h1m-.8-1.9h1m-.9-.8h1m-.9 2.3h1m-1-.5h1m-1 .7h1m-.4-1.1h1m-.5-1h1m-.9 .2h1m-1 1.5h1m-1-.5h1m-.4-.2h1m-1-.2h1m-1 1.3h1m-.8 .3h1m-.9-1.9h1m-1 1.2h1m-1 .5h1m-.9-1.1h1m-1-.6h1m-.7-.2h1m-.9-.1h1m-1 .4h1m-.9 1.8h1m-.9-2.9h1m-.9 2.4h1m-.9-.6h1m-1-1.5h1m-.8-.2h1m-.9 0h1m-.9 .3h1m-.8 2.2h1m-1-.3h1m-1 .5h1m-.9-.2h1m-.9-2.4h1m-.9 2.4h1m-.8-2.5h1m-.9-.1h1m-1 2.6h1m-.9-1.9h1m-1-.5h1m-1 1.4h1m-.9 .6h1m-.7-.2h1m-1-1.6h1m-.8 2.4h1m-1-.6h1m-.9-.1h1m-.9-1.9h1m-.9 1.2h1m-1 .8h1m-.7-2.2h1m-.9 1.1h1m-.8 1.8h1m-.9-2.6h1m-.9 1.5h1m-1 .8h1m-1-.6h1m-1 .3h1m-.9-1.6h1m-.9 .2h1m-1 .4h1m-.9-1.2h1m-1 1.1h1m-.9 .5h1m-1 1.2h1m-.9-2.7h1m-1 1.2h1m-.9-1h1m-.9-.3h1m-.9 1.5h1m-.4 .3h1m-.9 .9h1m-1-.1h1m-.9-1.2h1m-.9-1.4h1m-.7 1h1m-.9 1.8h1m-1-1.6h1m-.9 .9h1m-1 .5h1m-.7-.1h1m-1 .3h1m-.7-.5h1m-1-1.5h1m-.9 .2h1m-.9-.6h1m-.9 .7h1m-.9-.1h1m-.8 1.2h1m-1-.4h1m-.9 .5h1m-.9-.4h1m-.9-1.7h1m-.6 1.1h1m-.9-.3h1m-1 .6h1m-1-.3h1m-.8 1h1m-1-2.4h1m-1 1h1m-.9 1.5h1m-.9-1.2h1m-1-.2h1m-.9-.8h1m-.7 1.4h1m-1-.5h1m-1-1h1m-.9 2.3h1m-.4-1h1m-1-.1h1m-1-1.4h1m-.9 .4h1m-.9 0h1m-.8 1.8h1m-.8-2h1m-.7 2h1m-.8-1.3h1m-.6 .3h1m-.9 1h1m-.4-1h1m-1 1.6h1m-.6-1.2h1m-1-1.1h1m-.9 2.3h1m-.6-1.1h1m-1 .3h1m-.7-1.7h1m-.1-.3h1m.1 .8h1m-.8 .9h1m.8 1.2h1m-.3-2.7h1m-.4 .4h1m-28.6 3.2h1m-.6 1.1h1m-.7-.4h1m-.2-.6h1m-.9-.5h1m.4 .1h1m-.3 1.1h1m-.1-1h1m-.8 2.3h1m-.3-.2h1m-.6-.1h1m-.9-2.3h1m-.3 2.5h1m-.9-1.2h1m-1 .2h1m-.9 .7h1m-.9-2h1m-1-.1h1m-.7 1.7h1m-.9-1.4h1m-.9 .3h1m-.6-1h1m-.9 1.6h1m-.5 0h1m-.9-.7h1m-.9 .2h1m-.9-.3h1m-.9 1.2h1m-.9-.9h1m-.8-.7h1m-1 .2h1m-.9 .6h1m-.9 .3h1m-.8-1h1m-1 1.6h1m-.9-1.5h1m-.7 1.2h1m-1 .6h1m-.9 0h1m-.8-1h1m-.9-1.3h1m-1 2.2h1m-1-1h1m-1 .7h1m-.8-1.5h1m-.6 1.7h1m-.9-.5h1m-.9-.3h1m-.9 1.3h1m-.9-2.4h1m-.8 .6h1m-.8 .4h1m-.9 .7h1m-1 .4h1m-1-.2h1m-.8-1.7h1m-1 2h1m-1-.5h1m-.8-1.6h1m-1 2.4h1m-1-.1h1m-.8-1.4h1m-.8 1.2h1m-1-1.5h1m-.8-.2h1m-1 1.5h1m-1-1.4h1m-1 1.5h1m-.9-1.8h1m-.9-.1h1m-.9-.4h1m-.8 .8h1m-.8 1.4h1m-.9-1.2h1m-.9 .6h1m-.8-1.2h1m-1-.2h1m-.9 1h1m-1 .8h1m-.8-1h1m-.9 1.1h1m-1 .4h1m-.9-2h1m-1-.2h1m-1 1.5h1m-.9 .5h1m-.9-2.3h1m-1 1.2h1m-.8-.6h1m-.8 1.7h1m-1 .5h1m-.9-.7h1m-.9-.8h1m-.7-.3h1m-1 1.7h1m-.9-2.5h1m-.8 .3h1m-.9 .5h1m-1-.6h1m-.8 1.3h1m-1 .3h1m-.9-2h1m-.9 1.8h1m-1 .8h1m-.9-1h1m-1 .5h1m-.7-1.8h1m-.8 1.5h1m-1-1.7h1m-.9 1.3h1m-1 .2h1m-1 .2h1m-1 .8h1m-.9-.5h1m-.9-2h1m-.8 .2h1m-.9 1.3h1m-.9 .9h1m-1-2.2h1m-.8 1.9h1m-1-.1h1m-.5-1.7h1m-1 .5h1m-.9 1.4h1m-1-1.4h1m-.8 .7h1m-1-1h1m-.9 1.1h1m-.8-.1h1m-.1 .7h1m-.3 .4h1m-.8-.8h1m-.4-.8h1m-.2 0h1m-1-.6h1m-.8-.1h1m-1 1.3h1m-.5-1.8h1m-.9 .6h1m-.8 .6h1m-1 .5h1m-.4-.5h1m1.6-.9h1m1-.3h1m-29.3 5.1h1m-.3 .1h1m-.3-2.2h1m-1 2.6h1m.3-2.2h1m.6 0h1m-.8 .5h1m-.9 1h1m-.9-1.6h1m-.9 1.4h1m-.7 1h1m-.4-.5h1m-1 .2h1m.3-.4h1m-1 .7h1m-.5-.4h1m-.8-2h1m-.7 0h1m-1 .5h1m-.8-.1h1m-.9 2h1m-.8-.3h1m-.8-.9h1m-.8-1.5h1m-.8 2.6h1m-.8-1.3h1m-.8-1h1m-1 .4h1m-.8 0h1m-1 1.2h1m-.8-1.6h1m-.7 1.2h1m-.8 0h1m-.9-.9h1m-.9 2.2h1m-.9-1h1m-.7-.4h1m-.9 .4h1m-1 .1h1m-.7-.6h1m-.8 .9h1m-1-1h1m-.9-.4h1m-.9 1.5h1m-.9-1.3h1m-.9 1.7h1m-.9-1.4h1m-1-1h1m-.8 1.1h1m-1-1.1h1m-1 .8h1m-.9-.4h1m-.9 1.9h1m-.9-2.5h1m-.8 .5h1m-.7 0h1m-1-.1h1m-.7 .4h1m-.9 .1h1m-1 1.5h1m-.9-2h1m-.9 .3h1m-1-.4h1m-1 2.1h1m-.9-.7h1m-1-.2h1m-1 1.3h1m-.9-1.9h1m-.9-.1h1m-.9 1.5h1m-1-2.3h1m-1 .7h1m-.9 .2h1m-.9-1h1m-1 2.1h1m-.9-.4h1m-.9-1.2h1m-1 1.7h1m-.9-.4h1m-.9 .3h1m-1 .4h1m-.7-.7h1m-.9-1.1h1m-.9 1h1m-.9 .3h1m-.9-1.9h1m-.9 2h1m-.8-.5h1m-1 .7h1m-.8 .5h1m-1-.6h1m-.8-.7h1m-.9 0h1m-1 1.4h1m-.7-2.7h1m-1 2.3h1m-.5-2.3h1m-.9 1.7h1m-1-.5h1m-1-.2h1m-.5-.7h1m-.8-.5h1m-.7 .7h1m-.8 .8h1m-.9 1h1m-1-.9h1m-.9 .2h1m-.8-.2h1m-1-1.4h1m-.4 1.6h1m-.9-.1h1m-.5 .6h1m-1-1.2h1m-.8 1.5h1m-.9-1.3h1m-.8 .2h1m-.9 1.3h1m-.8-.6h1m-.1-1.9h1m-.8-.3h1m-.8 1.1h1m-.9 1.4h1m-.8-1.7h1m-1 1.5h1m-.1-1.6h1m2.1-.1h1m.6 .9h1m-27.6 2.8h1m-.1-1h1m-.5 1.3h1m-.8-.3h1m-.6-.3h1m-.7 .7h1m-.9 1.2h1m-.7-1.2h1m-1 .3h1m-.8 .5h1m-.1-2.2h1m-1 .9h1m-.7-.6h1m-.7 1.8h1m-.9-1.7h1m-.9 0h1m-.7 .7h1m-.6-.4h1m-.8 0h1m-1-.6h1m-.7 1.9h1m-.9-2h1m-.7 1.3h1m-.2 .3h1m-1 .8h1m-.8-1h1m-.8-.1h1m-.9-.5h1m-.7 1.7h1m-.6 0h1m-1-.8h1m-.9-.4h1m-1 .1h1m-.8-.7h1m-.9 1.9h1m-1-1.6h1m-.9 0h1m-.7-1.3h1m-.7 .1h1m-1 2.3h1m-.7-.4h1m-.7 .5h1m-1 .1h1m-1-1.1h1m-.9 .6h1m-.7-1.6h1m-1 1h1m-.7 .1h1m-1 .8h1m-.8-.1h1m-.6-2.2h1m-1 .6h1m-1 .7h1m-.9-.2h1m-.4 1.5h1m-1-1.1h1m-.9-1.5h1m-1 1.9h1m-1 .8h1m-.9 .1h1m-.8-2.5h1m-.4 .9h1m-.9-1.2h1m-.6 2h1m-.8-.9h1m-.5 1.3h1m-.9-2.2h1m-1 2h1m-.9 0h1m-.9-.2h1m-.8-1.8h1m-.8 2.3h1m-.9-.8h1m-.6 .4h1m-1 .2h1m-.9-1.8h1m-.8 2.3h1m-.8-.2h1m-.9-1.5h1m-.9 1.1h1m-1 .4h1m-.8-2.5h1m-1 .7h1m-.9 .2h1m-.9 .3h1m-.5-1.1h1m-1 .7h1m-.6-.5h1m-1 .3h1m-.5-.2h1m-.9 .9h1m-1 .2h1m-1 .7h1m-.9-2.3h1m-1 1.7h1m-.8-.6h1m-.7-.9h1m-.5 2.2h1m-.8-.9h1m-.2-1.1h1m-.8 .5h1m-.6 1.6h1m-.5-.5h1m-.8 .2h1m-1-1.1h1m-.8-.7h1m-.5 2.4h1m.2-2.9h1m-.9 1.6h1m-.7 .7h1m-.3-2h1m-26.8 5.3h1m1.9 .3h1m-.3-1.1h1m-.6 .7h1m-.8-2.1h1m0 .7h1m-.9 .4h1m-.9 .7h1m-.7-2.1h1m-.9 .3h1m-.9 1.7h1m-.6-1.7h1m-.9 .4h1m-.3-.8h1m-1 1.6h1m-.5-.5h1m-.5 1h1m-.8 .6h1m-.5-1.4h1m-.9-.2h1m-1-.5h1m-1 1.9h1m-.8-1.9h1m-.5 .2h1m-1 1.6h1m-.8-1.9h1m-.6-.5h1m-.8 1.7h1m-1 .2h1m-.9-1.2h1m-.8 1h1m-.9-.3h1m-.9 .5h1m-1 .8h1m-.8 .2h1m-.8-1.9h1m-.8 .6h1m-.8-1.3h1m-1 1.6h1m-.9 .5h1m-.4-1.1h1m-1-.4h1m-.9 2h1m-.5-1.1h1m-1 .2h1m-1 .2h1m-.9-1.8h1m-.6 1.3h1m-.5-.6h1m-.8 .3h1m-.8-.8h1m-.8 .9h1m-.9-.9h1m-1-.1h1m-.9 .2h1m-1 .3h1m-.9 .5h1m-1 1h1m-.8-2.5h1m-.8 .2h1m-.8 2.5h1m-.8-.5h1m-.8-1h1m-.6 1.6h1m-.9-1.7h1m-.8 .1h1m-.9-1h1m-1 .8h1m-1-.7h1m-.5 .8h1m-.5-.8h1m-.9 1.6h1m-.9-1.7h1m-.8 2h1m-.6-2.1h1m-.6 .5h1m.2-.3h1m-1 2.4h1m.3-.4h1m-.5-1.3h1m-.6-.9h1m-.9 2.2h1m-.9-1.9h1m.1 2.1h1m-.8-1.4h1m-.5-1.1h1m.7 .5h1m.1 2.4h1m-.1-2.7h1m-.4 2.2h1m5.9-.3h1m-33.9 3.2h1m-.8-.9h1m-.3 1h1m-.7-1.3h1m-1-.7h1m-.7 .3h1m-.8 1.1h1m-.2-1.3h1m-.1 .5h1m-.8-.4h1m-.8-.3h1m-.8 .6h1m-1-.5h1m-1 .8h1m-.9-1.2h1m-.9 .9h1m-.5 1h1m-1-1.8h1m-.9-.1h1m-.5 2.3h1m-.9-2.3h1m-.6 1.1h1m-.8-.4h1m-.3-.6h1m-.8 1.5h1m-.9-.5h1m-.9 .7h1m-1 .1h1m-.9 .2h1m-.4-1.6h1m-1-.5h1m-.7 1.1h1m-.6 1.8h1m-.9-.9h1m-.8-1.8h1m-1 .8h1m-.9-.2h1m-.6-.2h1m-.9 .2h1m-1 .2h1m-1 1h1m-.8-1.6h1m-.8-.3h1m-.7 .5h1m-1 2.2h1m-.9-1.8h1m-.9-.2h1m-.9 .6h1m-.4 .5h1m-.9-.1h1m-.8-.3h1m-.9 0h1m-1 .8h1m-1-.9h1m-1-.9h1m-.9 .5h1m-1 1.1h1m-1 .8h1m-.7-2.6h1m-.9 2.4h1m-.9-.9h1m-.9-1.3h1m-.8 1.2h1m-.8-1.3h1m-.8 2.5h1m-.8-2h1m-.9 1.6h1m-.8-.3h1m-.9-2h1m-1 2.7h1m-.8-1.6h1m-.8 .6h1m-.7-.5h1m-.7 .4h1m-.4-.5h1m-1 .4h1m-.6-.8h1m-.9 1.8h1m-.8-.7h1m-.8-1.3h1m-.9 .8h1m-.9-1.4h1m-.6 2.8h1m-1-.7h1m-.9-.4h1m-.9 .7h1m-1-.1h1m-.6-2.3h1m-.8 1.7h1m-.8-1.3h1m-.7 .5h1m-1 1h1m-.9-.5h1m-.8-.6h1m-.9 .7h1m-.6-.8h1m-.9 .5h1m-.8 1.5h1m-.1-.3h1m-.5-2.5h1m-.9 .6h1m2.1 0h1m.2-.1h1m1.2 2.3h1m-30.4 .9h1m-.9 1.8h1m-.4-.1h1m1 0h1m.6-2.1h1m-.8 1.8h1m-.1-.5h1m-.1-1h1m-.6 .4h1m-.6-.7h1m-1 .4h1m-.7 .4h1m-.8 1.4h1m-.8-.8h1m-.2 0h1m-.7-.6h1m-.6 1.8h1m-.9-1.9h1m-.6 1h1m-.6 .8h1m-.9-1.6h1m-1-1.1h1m-.7-.1h1m-.9 1.6h1m-.7 .2h1m-.9 1.1h1m-1-1.3h1m-.6 .4h1m-.4-.8h1m-.9-1h1m-1-.2h1m-.9 2.8h1m-.8-1.7h1m-.5-1.1h1m-.8 .5h1m-.9 .9h1m-1-.3h1m-.9-.5h1m-1-.1h1m-.5 2.1h1m-1-.8h1m-.7-1.2h1m-.9-.2h1m-.9-.2h1m-.8 .6h1m-.6 1.6h1m-.9-.3h1m-.5-2.1h1m-1 1.4h1m-.7-1.1h1m-.1 0h1m-1 1.5h1m-1-.1h1m-.8-1.7h1m-.8 2.1h1m.3-1.4h1m-.7 2h1m-.6-1h1m-.5-1.7h1m-1 1.5h1m-.9-1.3h1m-.7 .6h1m-.3 1.3h1m-.9-1.3h1m-.5 1.8h1m-1-1.5h1m0-.7h1m-.2 1.2h1m1.6-.8h1m.4 2h1m-26.7 2.8h1m-.4-.6h1m-.6-.9h1m-.1-.4h1m-1-.3h1m-.7-.4h1m-.1 .6h1m-.1-.3h1m0 .5h1m-.8 2h1m-.8 0h1m-.9-.3h1m-1-.6h1m-.7-.8h1m-.9 1.8h1m-.9-.7h1m-.5-1.1h1m-.9 .2h1m-1 1.2h1m-.8-.2h1m-.4-2.3h1m-1 .1h1m-.7 2.2h1m-.8-2.1h1m-.8 .4h1m-.9 0h1m-.8 1.4h1m-.6 .5h1m-.7-.7h1m-1 .3h1m-.9-1.6h1m-1 2.1h1m-.9-.5h1m-.9-2.1h1m-.8 1.6h1m-.7-1.5h1m-1 1.2h1m-1-1.1h1m-.7 1.8h1m-.9-1.6h1m-.9 1.9h1m-.1-.2h1m-.4-1.9h1m-.6 .4h1m-.9 .9h1m-1 1.4h1m-.9-1.8h1m-.7 .8h1m-.8-1.8h1m-.9 1.2h1m-.7-1.3h1m-.6 1.7h1m-.8-1.6h1m-.9 .6h1m-1 1.4h1m-1-.9h1m-.8 .6h1m-.3-.1h1m-1 .1h1m-.6 .5h1m-.8-1.2h1m-.8 .6h1m-.7 .1h1m-.7-.8h1m-.5 .2h1m-.8 .6h1m-.6-.5h1m-.9 0h1m-.5 1.6h1m-.5-1.2h1m-.9-1.7h1m-.9 1.2h1m.1 .8h1m-.5 .9h1m-.5-.7h1m-.9-2.1h1m-.5 .6h1m1.1 1.4h1m.9-1.8h1m-27.2 4.7h1m0 .9h1m.7 0h1m-.2-1.5h1m1.1 .4h1m-.6 .3h1m-.8 .3h1m-.6-1.3h1m-1-.1h1m-.9 .2h1m-.9-.5h1m-.8-.4h1m-.1 1.7h1m-.8 .1h1m-1-1.2h1m-.8 .8h1m-.9 0h1m-1 1.2h1m-.8-.9h1m-.9 .9h1m-.9-1.6h1m-.9-1.1h1m-1 .7h1m-.7 .6h1m-1 1.1h1m-.9-.3h1m-.9 .1h1m-.8-.1h1m-.9 .6h1m-.8-.2h1m-.9-2.2h1m-.9 1.2h1m-.9 .7h1m-1-2.2h1m-.9 2.7h1m-.7-2.2h1m-.9-.1h1m-.9 1.6h1m-.9-.1h1m-.8 .7h1m-1-.6h1m-.9 .3h1m-1 .4h1m-.8-.2h1m-1 .2h1m-.9-1.9h1m-1 1.8h1m-1-1h1m-1 .7h1m-.8-.5h1m-.8-.5h1m-.9-.9h1m-.9 1.9h1m-.4-1.2h1m-.7 .4h1m-1 .3h1m-.6 .6h1m-.9 .2h1m-.5-2.3h1m-.9-.3h1m-.5 1.7h1m-.9-1h1m-.8-.5h1m-.9 1.2h1m-1 .6h1m-1 .5h1m-.5-1.9h1m-.9 1.8h1m-.9-1.3h1m-.6-1.1h1m-1 2.1h1m-.6-.1h1m-1-1.4h1m-.8 .9h1m-.8-.1h1m-.8-1.6h1m-1 2.4h1m-.7-2.1h1m-.1-.2h1m-.7 .7h1m-.8 1.2h1m-.6-2h1m-1 1.5h1m-1-.4h1m-.6 .2h1m.1-.6h1m-.8 1.2h1m-.8-1.6h1m2.3 1h1m-.9 1.6h1m-1-2.1h1m1.2 .3h1m-27.6 3.4h1m-.9 .8h1m-.4-1.7h1m-1 2.2h1m-.4-.8h1m-.2-1h1m-.7-.7h1m-.3 .8h1m-.7-.4h1m-.9 .5h1m-.8-1h1m-.8 2.4h1m-.9-2.4h1m-.7 2.5h1m-1-1.2h1m.2-.7h1m-.8-.2h1m-1 1.4h1m-.8-.5h1m-.4-.4h1m-.4-.5h1m-.9-.2h1m-1 .3h1m-.9-.4h1m-.9 2.2h1m-.8-.7h1m-.9 .1h1m-1 .5h1m-.9-1.1h1m-.5 .5h1m-.9-.3h1m-1-.3h1m-.9 .7h1m-.9-.7h1m-.9 .5h1m-.8 .4h1m-.8-1.5h1m-.9 .1h1m-1 2h1m-.9-1.4h1m-1 .9h1m-.8-.1h1m-.9-.5h1m-.9-.8h1m-.9-.3h1m-1 2.4h1m-.9-.7h1m-.9-1.9h1m-1 .5h1m-1 .9h1m-1-.5h1m-.9 1.2h1m-.9-1h1m-1-1h1m-.6 .3h1m-1 2h1m-1-1.4h1m-.8 .7h1m-.9 .2h1m-1-2.1h1m-.8 2.6h1m-.9-1.6h1m-1-.4h1m-1 2h1m-1-2.3h1m-.9 .3h1m-.8-.7h1m-1 .9h1m-1 .5h1m-.9 1.3h1m-.9-2.6h1m-1 1.8h1m-.9 .7h1m-1 .1h1m-.8-2h1m-.7 1.3h1m-.8 .1h1m-.9-1.9h1m-1 1.8h1m-.8 .9h1m-1-1h1m-.9-1h1m-.6 1.9h1m-.9 .1h1m-.9-2.1h1m-.9 1.6h1m-1-1.3h1m-.9-.1h1m-1 1.4h1m-.9-2.1h1m-.8 2.3h1m-.8-1.8h1m-1 1.1h1m-1-.6h1m-.8-.2h1m-1 .6h1m-.9-.9h1m-.7-.7h1m-1 2.4h1m-.8-1h1m-.8 1.1h1m-.8-.2h1m-1 .5h1m-.9-1.4h1m-1-1.2h1m-.9 1.9h1m-.9-.7h1m-1 1.2h1m-.9-1.6h1m-1-1h1m-.8 .1h1m-.9 0h1m-.9 1.2h1m-.7 1.2h1m-1-.2h1m-.9-1.5h1m-.8 .2h1m-.9 1.1h1m-.8 .7h1m-1-1.7h1m-.8 1h1m-.9-.2h1m-.7-1.6h1m-.9 1.3h1m-1-.3h1m-.9 .2h1m-1 .1h1m-.8-1.7h1m-1 2.6h1m-.9 0h1m-.8-.5h1m-1-.2h1m-.9-1.9h1m-.7 2.7h1m-.7 0h1m-1-.6h1m-.9-1.2h1m-.8 .3h1m-.6 .9h1m-.7-.5h1m-.8 1.2h1m-.6-.3h1m-.1 .3h1m-1-.2h1m-.5-2h1m-.2 .8h1m-.8 .3h1m-.7 .7h1m9.2 .3h1m-34.8 1.4h1m-.2 .8h1m-.8-.5h1m-.2-.8h1m-.9-.6h1m-.6 2.1h1m-.9 0h1m-.7-1.2h1m-.4 1.7h1m-.9 .2h1m-.6-1.7h1m-.7-1.1h1m-.9 1.2h1m-.4-.4h1m-.9 1.3h1m-.8-.4h1m-.7 .4h1m-1 .1h1m-1 .5h1m-.9-.2h1m-.9-1.3h1m-.9-.2h1m-.9 1.7h1m-.8-.4h1m-1-1h1m-1-.4h1m-.9 .1h1m-1 1.7h1m-1-2.3h1m-.8 .5h1m-.8 1.9h1m-1-.7h1m-.9-.5h1m-1-.6h1m-.9 1.8h1m-1-.2h1m-1-.1h1m-.9-.2h1m-.7-1.3h1m-.7 .2h1m-1 .4h1m-1 .3h1m-.9-1.4h1m-1 2h1m-.8-1.7h1m-.9 .3h1m-1 .8h1m-1-1.4h1m-.9-.5h1m-.9 .9h1m-.9-.8h1m-1 .5h1m-1 1.4h1m-.9-.6h1m-1 .8h1m-1 .2h1m-1-2.4h1m-.9 2.1h1m-1 .7h1m-.9-2.8h1m-1 2.1h1m-1-1.7h1m-1 2h1m-.9-.4h1m-1-.7h1m-.9 1.1h1m-.8 .3h1m-1-.7h1m-.9-1.4h1m-1-.5h1m-.9 .2h1m-.9 0h1m-1 1.9h1m-.9-1.9h1m-1 2h1m-1-.1h1m-.9-2.2h1m-.8 .2h1m-1 2.5h1m-1-.5h1m-1-.5h1m-.9-.9h1m-1-.5h1m-.9 2.3h1m-1-1.8h1m-.9-.3h1m-1 2.1h1m-1-1.8h1m-1 1.4h1m-1 .3h1m-.9-1.3h1m-.9 .2h1m-1-.7h1m-1 1h1m-1 .8h1m-.9-1.4h1m-1 .7h1m-1 .8h1m-.7-2.5h1m-.9 1h1m-1 1.8h1m-.9-1.6h1m-1-.9h1m-.9 1.5h1m-1 .4h1m-1 .2h1m-1 .4h1m-.9-2.4h1m-1 2h1m-.9 .4h1m-.9-1.1h1m-.9 .5h1m-.8-1.3h1m-1 1.2h1m-1-.1h1m-.9-1.7h1m-.9-.2h1m-1 .3h1m-1-.5h1m-1 1.8h1m-.9 .3h1m-1-1.1h1m-.9 .8h1m-1 .7h1m-.9 .3h1m-1-.2h1m-1-1.7h1m-.9 1.3h1m-1-2.2h1m-.9 1.8h1m-1 .7h1m-.9-2.3h1m-1 1.7h1m-1 .3h1m-1-.5h1m-1 1.2h1m-.9-2.1h1m-1 1.7h1m-.9-1.6h1m-1-.3h1m-.9 2.3h1m-1-2.3h1m-.8 .9h1m-1 1.4h1m-.9-1.2h1m-.9 .1h1m-1 .3h1m-1-1.1h1m-1 1.7h1m-.9-2.1h1m-1 2.2h1m-.9-1.3h1m-1-1.5h1m-1 .9h1m-1 .3h1m-1 1.3h1m-.8 .2h1m-.9-.2h1m-1-.9h1m-1 1.3h1m-.9-.8h1m-.9-2h1m-1 .8h1m-1 .8h1m-.9 .9h1m-.9-1.1h1m-1 .4h1m-1 .3h1m-.9-.9h1m-.9 1.3h1m-1-2.3h1m-1 .5h1m-.9 1.7h1m-.8-.4h1m-1 .8h1m-.9-.3h1m-.9-1.8h1m-1 1.4h1m-1-.5h1m-.9-.2h1m-1-.1h1m-.9 1h1m-.6-1.4h1m-.9 .1h1m-1-1h1m-.9 2.4h1m-.9-.9h1m-1-1.1h1m-.9 1.9h1m-1-1.7h1m-.8 1h1m-.9-1.1h1m-.9 .9h1m-1-.2h1m-.9-.6h1m-.9 .8h1m-.9 .4h1m-1-1.4h1m-.9 .6h1m-1 .7h1m-.9 .6h1m-1-2h1m-.9 1.6h1m-1-.4h1m-1-.5h1m-1 1.2h1m-.8-.5h1m-1-1.4h1m-.8 2.4h1m-.8-1.8h1m-.9 1.8h1m-.6-.8h1m-.9-.9h1m-.9 0h1m-.9 .3h1m-.9 1.4h1m-1-1.9h1m-1 2h1m-1-2.8h1m-.7 1.2h1m-.9 0h1m-.9 1.4h1m-.9-1.4h1m-.7 1.1h1m-.8 .4h1m-1-.8h1m-.7-.3h1m-.9 .4h1m-1 .1h1m-.9-1h1m-.8 1h1m-.8-2.2h1m-.9 2.6h1m-.7-2.6h1m-1 1.3h1m-.7-1.1h1m-.9 .2h1m-1 1.5h1m-.3 .9h1m-.9-.1h1m-.7-1.9h1m-.7 2.1h1m-.6-.1h1m-.5-2.8h1m-.4 1.8h1m.9-.1h1m1.6 0h1m-29.8 2h1m-.2 .5h1m-.2 .2h1m-.7 .7h1m-.8-.1h1m-.9-1.2h1m-.1-.2h1m-.9 .7h1m-1 1.1h1m-.8-2h1m-.9 2.5h1m-.8 0h1m-.8-.1h1m-.6-1.5h1m-.9-.9h1m-.9 .2h1m-.8 1.5h1m-1 .4h1m-.7-1.9h1m-1-.2h1m-.9 .7h1m-.9-.3h1m-.9 1.1h1m-1-1.5h1m-1 .5h1m-.6 .8h1m-.9-1.2h1m-1 .6h1m-.9 1.5h1m-.8-2.2h1m-1 2.1h1m-.9 .1h1m-1-1.8h1m-1 1.4h1m-.7 .2h1m-.7-2.4h1m-1 .8h1m-.9-.5h1m-1 .3h1m-1 2.1h1m-.9-.4h1m-.9 .3h1m-.8-2.4h1m-1 1h1m-.9-.3h1m-.9 2h1m-1-1.1h1m-.9 .8h1m-.9-.6h1m-.9 .6h1m-.9-2.3h1m-1 .3h1m-.9 .7h1m-.9-.3h1m-1-.4h1m-1-.4h1m-1 1.7h1m-.9-1.7h1m-.7 1.2h1m-.8-1.1h1m-1 .4h1m-1 1.6h1m-.9-1.1h1m-.9 1.1h1m-.9 .1h1m-1 .5h1m-1-2.6h1m-1 .5h1m-1 .5h1m-.9-.6h1m-1 2.1h1m-.9-1.2h1m-.9-1.5h1m-.9 .9h1m-1 1.4h1m-.9-1.1h1m-.9-1.2h1m-1 2.6h1m-.9 .1h1m-1-.8h1m-1-1.2h1m-.9 .5h1m-1 1.3h1m-1 .1h1m-.9 0h1m-1-1.6h1m-.9-.2h1m-.9 .8h1m-1-.6h1m-1-.5h1m-.9 .3h1m-1-.3h1m-1-.6h1m-1 .7h1m-1 2.1h1m-1-.6h1m-.9-.5h1m-1 .3h1m-.8 .6h1m-.9 .2h1m-.9-2.6h1m-.9 .1h1m-.9 2h1m-.9-2.3h1m-1 .5h1m-1-.1h1m-1 .3h1m-1 2h1m-.9-1.5h1m-1-.2h1m-1 1.2h1m-.9 .5h1m-1-2.3h1m-1 2.5h1m-1-2.8h1m-.9 2.5h1m-1-1.9h1m-1 .3h1m-.9 .3h1m-.9-.8h1m-.9 .2h1m-1 1.2h1m-1 .7h1m-.9-1.3h1m-.9 .1h1m-1-1.4h1m-.9 2.4h1m-1-.6h1m-1-.5h1m-1 1h1m-.9 .3h1m-1-1.8h1m-1 .2h1m-1 1.3h1m-.9 0h1m-1-.2h1m-.9-.6h1m-1 1h1m-1-.1h1m-1-2.1h1m-1 1.3h1m-.9-1.4h1m-1 .5h1m-.9 1.8h1m-.9-2.5h1m-1 1.4h1m-1 .3h1m-.9 .3h1m-.9 .5h1m-.9-2.1h1m-.9 2.4h1m-1 .1h1m-1-2.6h1m-.9 .1h1m-1 .7h1m-1-.1h1m-.9-.3h1m-1-.4h1m-.8-.3h1m-1 .9h1m-.8 .1h1m-.8 1h1m-.9-.3h1m-.9-.6h1m-1-.5h1m-.9 2.2h1m-1-1.5h1m-1-.9h1m-.9 .5h1m-1 1h1m-.9 .7h1m-1-1.5h1m-.9 .2h1m-1-1.1h1m-.9 .9h1m-.9 .3h1m-.8 .6h1m-1 .5h1m-.9-.6h1m-1-.7h1m-.8 .5h1m-.9-.2h1m-.9 .6h1m-1-1h1m-1 .4h1m-.9-1h1m-.9-.2h1m-1 1.2h1m-.8-.1h1m-.9-.2h1m-1 .8h1m-1-.2h1m-.9 .2h1m-.8 .3h1m-1-.1h1m-.9-1.1h1m-1 1h1m-.9 .2h1m-1-1.4h1m-.9-.5h1m-1 .5h1m-.9 1.5h1m-1-.5h1m-.9 .2h1m-.9-.5h1m-1 .5h1m-1 .4h1m-1-.1h1m-.9 .1h1m-1 .3h1m-1-.4h1m-.9-.8h1m-.9-.8h1m-.9 1.5h1m-1-2.3h1m-.9 1.1h1m-1 .3h1m-.8 .1h1m-.8-1.1h1m-1 2.3h1m-.9-1.7h1m-.9-.3h1m-.6 1.1h1m-1 .3h1m-.9-.1h1m-.8-1.8h1m-.8 2.4h1m-1-1.7h1m-.9 0h1m-.9 .3h1m-1-.4h1m-1 .3h1m-.9 .4h1m-.9 1.1h1m-1-1.7h1m-.9 1.4h1m-.8-1.7h1m-.8-.6h1m-1 2h1m-.9 .4h1m-1-.6h1m-1 .5h1m-.9-2.2h1m-1 2.5h1m-1-2.6h1m-.9 1.2h1m-.7 .1h1m-.9 .6h1m-1-.5h1m-1 1.1h1m-.9-1.1h1m-.9 .3h1m-.9 .1h1m-.9 .4h1m-1-1.9h1m-.9 1h1m-.9 .5h1m-.3-.1h1m-1-.9h1m-.9 1.1h1m-.9-1.2h1m-.9 1.2h1m-.9 .6h1m-.3-.6h1m-1 .3h1m.1-1.9h1m-.5 2.6h1m-.9-.1h1m-.6-.5h1m.3-1.7h1m-1 .8h1m.1 1.5h1m-.1-1.5h1m-29.1 4.5h1m.4-.4h1m-.3-.8h1m-.3-.1h1m-.9 .1h1m-.8 .7h1m-.4-2.4h1m-.8 1.4h1m-1 .8h1m-.8-2.2h1m-.5 2.6h1m-.8-2.3h1m-.8 1.7h1m-1-1.3h1m-.7-.1h1m-1 2.2h1m-1-2.4h1m-.9 .3h1m-.7 1.4h1m-.8-1.5h1m-.9 1.1h1m-.7-1.7h1m-.6 1.3h1m-.9-.5h1m-.8 1.8h1m-1-1.4h1m-.9-1.1h1m-.9 1.7h1m-.8-1.7h1m-1 2.4h1m-1-.3h1m-.7-2h1m-1 1.3h1m-1 .4h1m-.9-1.3h1m-1 .1h1m-1 1.3h1m-.9-1.3h1m-1 1.1h1m-.8-.6h1m-1 1.7h1m-1-2.6h1m-.9 1.5h1m-1 .3h1m-.9-1.5h1m-1 1.4h1m-.9-1.2h1m-1-.3h1m-1 1.3h1m-.8-1h1m-.8 .2h1m-1 1.7h1m-.8-2.1h1m-1 .7h1m-.7-1.2h1m-1 1.2h1m-1-.6h1m-1-.5h1m-.8 .5h1m-1 .3h1m-1 .5h1m-.9 .2h1m-1 .2h1m-.8 .3h1m-.9-1.8h1m-1 1h1m-.9 0h1m-.9 .9h1m-1-1.8h1m-.9 .2h1m-1-.5h1m-1 .7h1m-1 .8h1m-.9-.2h1m-.9-.3h1m-.9-.3h1m-.9 .9h1m-.9-.5h1m-1 .7h1m-.9-1.8h1m-.9 .3h1m-.9 1.1h1m-1-.6h1m-1 .3h1m-1 .5h1m-.9 .3h1m-1 .4h1m-1-1.2h1m-.9-.2h1m-1 .4h1m-.7 1h1m-.9-2.4h1m-1 .6h1m-.9 .2h1m-1 1.1h1m-1-1.8h1m-.9 .7h1m-.9 1.7h1m-1-1.5h1m-1 1.7h1m-.9-1h1m-1-1.1h1m-.9 .1h1m-1 1.3h1m-1-1.2h1m-1 .1h1m-1 .5h1m-1 1.3h1m-.9-1.2h1m-1 1h1m-.9 0h1m-1-.5h1m-1-1.9h1m-.9 1h1m-1 1.5h1m-.9-.8h1m-.9-.9h1m-.9-.1h1m-1 1.5h1m-.9-2.1h1m-.9 .4h1m-.9-.6h1m-1 1.7h1m-.9-.6h1m-1-.5h1m-.9-.4h1m-1 .7h1m-1 1.8h1m-.9-1.3h1m-.9 .3h1m-1 .3h1m-1 .6h1m-.8-.5h1m-1-1.6h1m-.9 .7h1m-.9-.5h1m-1-.3h1m-.9 1.7h1m-.9-1.7h1m-1 .8h1m-1 .5h1m-1 .3h1m-1-1.7h1m-.9 .3h1m-1 .3h1m-.8 .1h1m-.9 .5h1m-1 1.2h1m-1-1.5h1m-.9-1.2h1m-.9 2.6h1m-1-.5h1m-1 .4h1m-.9-1.9h1m-1 .9h1m-.9-.5h1m-1 .5h1m-.9 .5h1m-.9-.4h1m-.9-.7h1m-1 1.9h1m-.9-1.4h1m-.8-.2h1m-1-.4h1m-1 1.8h1m-.9-1.7h1m-.9 .8h1m-.9-1.2h1m-.9-.1h1m-.9-.5h1m-1 2.9h1m-.9-2.7h1m-1 .7h1m-.9 .2h1m-.9 1.3h1m-.8-2.1h1m-1 .5h1m-1 .2h1m-.9 .6h1m-.9-1.3h1m-.9 2.1h1m-1-.2h1m-.9-.6h1m-1-1.4h1m-.9 .5h1m-1 .8h1m-1 .8h1m-.8 .6h1m-1-.6h1m-.9-.9h1m-.9-1.3h1m-.9 .8h1m-1 1.1h1m-.9-1h1m-1 .6h1m-1-.3h1m-.6-.4h1m-.9-.8h1m-1 .4h1m-.9 .2h1m-.9-.5h1m-.9 1.7h1m-1-.2h1m-.9-.8h1m-.9 .1h1m-1 1.1h1m-.9 .2h1m-.8 .2h1m-1-2.4h1m-1 1.7h1m-.8-.3h1m-1-.5h1m-.9 .2h1m-.9-.5h1m-1 .6h1m-.9-.6h1m-1 .2h1m-.8-.9h1m-.9 1.8h1m-.9-1.6h1m-1 .8h1m-.8 1.6h1m-1-1.6h1m-.5 1.8h1m-.8-2h1m-1 .9h1m-.9-1.5h1m-.9 2.4h1m-.9-.9h1m-.9-.2h1m-1 .8h1m-.7-.6h1m-.8-1.3h1m-.9 .5h1m-.9 0h1m-.9-.8h1m-.5 1.9h1m-.5-2h1m-.7 1.4h1m.9 1.2h1m-.9 .1h1m-.2-2.3h1m-26.1 2.9h1m-.6 2.3h1m-.9-2.2h1m.6-.4h1m-.1 2.8h1m-.7-1h1m-.6-.9h1m-.9 1.1h1m-.9-.8h1m-1 .4h1m-.6-.9h1m-.7 1.3h1m-.6-.8h1m-.4-.6h1m-1 .3h1m-.6 .3h1m-.7 0h1m-.8 .7h1m-.9-.2h1m-.8 .9h1m-.8-1.4h1m-1-.2h1m-.9-.9h1m-.8 .2h1m-1 .6h1m-1 .8h1m-.4-.9h1m-1-.7h1m-.9 .1h1m-1 1.3h1m-1-1.5h1m-.9 .2h1m-1 1h1m-1 1.2h1m-1-1h1m-.9-1.4h1m-1 .9h1m-.8-.8h1m-1 1h1m-.9-1h1m-.9 1h1m-.9-.8h1m-1 1.8h1m-.8-1.3h1m-.8 .8h1m-1-1.1h1m-1 .8h1m-.9-.4h1m-.9-.7h1m-.9 1.4h1m-1-.6h1m-.9-.3h1m-.9 1.7h1m-.8-1.6h1m-1 .5h1m-.9-.1h1m-.9 .3h1m-.9-.4h1m-.5 .1h1m-1 .3h1m-.9-1.1h1m-.9 2h1m-.7-1.1h1m-.9-1h1m-.8 1h1m-1-1h1m-.9 .6h1m-.9 1.1h1m-.9-1.2h1m-.9-.5h1m-.7 0h1m-.9 .8h1m-1-.1h1m-.9 .5h1m-.9-.6h1m-.9-.6h1m-.7-.2h1m-.8-.1h1m-1 2.9h1m-1-.5h1m-.9-1.1h1m-1 .8h1m-1-1.9h1m-.9 1.3h1m-.9 .8h1m-.9 .6h1m-.8-1h1m-1-.8h1m-1 1.2h1m-.9-.6h1m-.9-.1h1m-.8-1.5h1m-.9 1.2h1m-.9 1.2h1m-.9-2.3h1m-1 1.9h1m-.8 0h1m-1 .6h1m-.9-1.1h1m-1-.4h1m-.8-.6h1m-.8 .2h1m-.9 .9h1m-1-1h1m-.9-.1h1m-1 .8h1m-1-1.4h1m-.9 1.2h1m-1 .9h1m-.8-.8h1m-.7-.6h1m-.9-.3h1m-.9-.3h1m-1-.1h1m-.8 2.6h1m-.9-.2h1m-.9-.3h1m-.6 .4h1m-1-.4h1m-.9-.3h1m-.9-1.3h1m-1 1.4h1m-.9-1.4h1m-.7 1.5h1m-1 .4h1m-.9-1.9h1m-1 .7h1m-.9-.2h1m-.8 .5h1m-.6 .6h1m-.9-1.6h1m-.8 .9h1m-.8-.4h1m-.8 1.2h1m-.7-2.2h1m-.7 1.3h1m-.8-1.1h1m-1 2.6h1m-1-2.2h1m-.7 .9h1m-1-.5h1m-.7 .9h1m-1-1.9h1m1.2 .9h1m-.7 1.2h1m-.4-1.7h1m1.3 1.2h1m-27.8 3.3h1m0-1.7h1m.7 .4h1m-.4-.2h1m-.7 .3h1m-.8 2.2h1m-.6-2.7h1m-.4 .6h1m-.8 1.8h1m-.6-1.4h1m-.6-.3h1m-1 1.6h1m0-2.4h1m-.3-.1h1m-.4 2.1h1m-.2-1.9h1m-.8 2.1h1m-1-1.4h1m-.8-.1h1m-1-.8h1m-.6 .4h1m-.9 0h1m0 1.4h1m-.7-1.8h1m-.8 .2h1m-1 .9h1m-.8 1.6h1m-.3-.4h1m-.8-1.2h1m-.9 1.6h1m-1-1.6h1m-.9-.2h1m-1 .4h1m-.6 .8h1m-.8-1.3h1m-1 .5h1m-.5 .6h1m-.2-.1h1m1-1.3h1m-.8 1.3h1m-.7-1.8h1m-.9 .2h1m-.8 .6h1m-.4 1.6h1m-1-2.3h1m-.7 .6h1m-.8-.3h1m-.2 .4h1m-1 .3h1m-.9-.3h1m-.4 .3h1m-.1 1.6h1m-.4-1.1h1m-.9 .6h1m-.8-1h1m1.5-.3h1m-17.8 3h1m0-.2h1m-.6-.6h1m.4 .5h1m-.1 .7h1m.9 .5h1m-1-.4h1m-.8-.3h1m-.3 .8h1m.7-1.3h1m3.6-.1h1m1.8-.3h1m-.8 .8h1" stroke="#000" stroke-width="1.0" fill="none" filter="url(#bl)"/>
<path d="m116.3 202.4h1m14.8 3.7h1m-18.6 5h1m-1.2 2.8h1m-.6 6.1h1m-5.5 3.5h1m-.4 .5h1m.3-1.5h1m-9.7 5h1m.2 .4h1m.9-1.3h1m2.4-.9h1m-.7 .6h1m.3-1.2h1m-7.6 5.2h1m.9-.7h1m-.4 .5h1m-.5 .7h1m-.5-.6h1m-.5-.7h1m2.1 .8h1m-1-1.8h1m-19.5 4.8h1m3.7-.7h1m.2-.1h1m0-.6h1m-.9 1.2h1m2.3-1.1h1m-.4-.7h1m-.6 2h1m-1-1h1m-.2 .6h1m-.7-.8h1m.5-1h1m.7 .3h1m.8-.1h1m3.2 .2h1m-22.5 4.1h1m.7 1.3h1m1.3-2h1m2.7-.1h1m-.9 1.4h1m1-.8h1m1.1 1.3h1m-.8-2.6h1m-18.9 3.7h1m.9 1.8h1m1.9-.5h1m-.4 .6h1m-.8-2h1m-.8 1.9h1m1.1-2.4h1m-1 1.1h1m-.9 1.3h1m.1-.5h1m-.7 .2h1m-.6-1.2h1m-.3 1.2h1m-.8-1.7h1m-.2-.5h1m-.3 2.7h1m1.5-1.8h1m-.5-.7h1m6.3-.3h1m-26.4 4.3h1m3-.2h1m-.6 1.6h1m-.5-.5h1m.3-1.5h1m-.2-.5h1m-.5 1.5h1m-.2 .7h1m-1-.6h1m-.2 .6h1m-.8-1h1m-.3 .7h1m-.3 .5h1m-.2-2.2h1m1.5 2.4h1m-.7-1h1m-.5-1.1h1m-.2 0h1m19.4 1.8h1m-37.4 1.1h1m-.9 1.1h1m.6 .4h1m-.4-1.4h1m-.6 2h1m.1-1.9h1m-.9 .1h1m-.3 1h1m-.1-.1h1m-.9 .5h1m-.9-.6h1m-.6 .8h1m-.7-2.5h1m.5 2.2h1m.2-.8h1m-.8-.6h1m-.6 .6h1m.3 .9h1m-.5 .1h1m-1-.5h1m-.2-1.9h1m-.8 .1h1m-.9 2.7h1m-37.3 2.2h1m1.6 0h1m2.2-1.4h1m3 1.5h1m5.1 .6h1m-.9-1.3h1m-.4 .1h1m.5-.8h1m-.1 .5h1m-.8 .7h1m.2 .6h1m-.4-2.1h1m-.5 1.6h1m.4-.3h1m-.9 0h1m-.3-1.5h1m.6 .2h1m-1 .8h1m-.1 .8h1m-1 .5h1m-.5-2.5h1m-.7 2.1h1m-.4-1.2h1m1 2h1m-.9-.6h1m-.4-1.7h1m-.5 1.5h1m-.6-.2h1m-.8 .5h1m.4-1.5h1m-.9 1.6h1m0-1.3h1m-.2 .4h1m-.5-1.3h1m1 1.5h1m.5 1.1h1m-37.2 .8h1m2.4 1.5h1m.5-.9h1m5.5 0h1m2.4 .3h1m.1 .5h1m.3-.2h1m.2-.7h1m-.8 .3h1m-.6-.3h1m-.4 .9h1m-.5 0h1m-.8 .1h1m-.5 .2h1m-.8 .4h1m-.6-2.1h1m-.9-.3h1m-.9 2.4h1m-.7-1h1m-.4-1h1m-.9 1.8h1m-.7-1.4h1m0-.8h1m-.6 1.9h1m-.6-2h1m-.9 1.1h1m-.8-.1h1m-.8 .3h1m0 .3h1m-.9 .6h1m-.8-.5h1m-.8-.9h1m-.9-.9h1m-.5 0h1m-.8 .5h1m.8-.2h1m5.9-.1h1m-36.5 5.5h1m.5-1.2h1m1.7 .5h1m3.7 .7h1m-.8-1.4h1m.2-.4h1m-1 .3h1m-.2 1.4h1m.1 .1h1m-.5-1.9h1m3 .5h1m-.6-1.3h1m-.1 2.2h1m-.7 .2h1m-1-.6h1m-.3 .7h1m-.8-.2h1m.5-.2h1m-.7-1.3h1m-.3 1.3h1m-.8-.2h1m-.8-1.7h1m-.8-.1h1m0 1.3h1m-.7 1.1h1m-.8-.5h1m-.4-1.9h1m3.7 1.6h1m-39.4 3.5h1m5.3-1.4h1m-.5 1.2h1m8.2-2h1m-.3 1.4h1m-.9-1.1h1m-.2 .7h1m-.8 .6h1m1.4 0h1m-.9 1.1h1m-.7 0h1m-.9-2h1m-.8-.3h1m.6 .5h1m-.3 1h1m1.4-.9h1m-.3-1.2h1m-.8 0h1m-.7 .9h1m-.4 .6h1m.5-1h1m2.1 2.4h1m-21.5 .3h1m-.9 2h1m-.7-.4h1m.3-1.7h1m-.6 2.7h1m.1-.2h1m-.4-.6h1m0-.4h1m-.2 .3h1m.6 .9h1m-.8-.9h1m-.3-1.1h1m-.1 2h1m-.4-.1h1m.5-.6h1m-.8 .7h1m-.4-1.6h1m-.6-.2h1m1.5 .3h1m-.9 1.1h1m-.7-1.8h1m-.7-.5h1m-.4 .6h1m2.7-.6h1m-29.2 4.2h1m6-1.2h1m-.1 2.3h1m-.3 .2h1m-.6 .2h1m-.2-.1h1m-.5-2.3h1m-.4 1.1h1m1.2-1h1m1.8 2.1h1m-.4-1.9h1m.3-.4h1m-.8 .6h1m-.9 1.4h1m-.9-1.4h1m-1 .3h1m-.4-1.1h1m-.6 0h1m-.9 .3h1m.5 1.8h1m-1-1.8h1m4.5 .8h1m2.7 1.6h1m6.4 .1h1m-40 .2h1m5.2 2.7h1m-.8-2.4h1m-.4 1.8h1m-.4-.6h1m-.8-.4h1m-.3-.7h1m-.4 1.5h1m-.7 .5h1m-.3-.7h1m-.5 0h1m-.7 0h1m-.9 .2h1m.3-1.1h1m.1 .4h1m-.3 1.6h1m.5-.7h1m-.4-1.6h1m-.7 1.5h1m.6-1.5h1m.2-.5h1m1.8 0h1m-.9 .1h1m-.6 2.5h1m-.2-1.6h1m8.2 1.3h1m-26.8 2.8h1m-.6-1.8h1m-.4 1.5h1m-.3 .4h1m-.9-1h1m-.9 .7h1m-.5-1h1m-.9-1h1m-.9 1h1m-.6 1.2h1m-.3-1.7h1m.4 2.1h1m-1-2h1m-.8-.5h1m.8 2.4h1m4.7 .4h1m-12.7 .6h1m-.4-.4h1m-.9 .8h1m-.7 .9h1m0 .9h1m-.9-2h1m1.5 1.7h1m-.5-1.7h1m.1-.5h1m-.9 .5h1m1.5-.1h1m4.8 .9h1m-.7-1.5h1m3.9 2.5h1m6.3 .1h1m-36.1 1.6h1m7.2-.8h1m-.7 2.5h1m.4-2.9h1m4.5 .7h1m7.9 .6h1m4.2 .4h1m-22.1 4h1m4.1-1.4h1m6.9 1.3h1m-36.1 3h1m18.6-.4h1m.3-2h1m5.2 .7h1m-15.7 3.1h1m1.3 2.2h1m-9.7 2.9h1m27.3 .5h1m22.2 2.4h1" stroke="#2a2a2a" stroke-width="0.9" fill="none" filter="url(#bl)"/>
<rect x="31.3" y="192" width="119.39999999999999" height="111" fill="none" stroke="#3a3a3a" stroke-width="1.15"/>
<line x1="60.30" y1="192.00" x2="60.30" y2="311.50" stroke="#050505" stroke-width="1.3" stroke-linecap="butt"/>
<line x1="22.80" y1="277.20" x2="150.70" y2="277.20" stroke="#050505" stroke-width="1.3" stroke-linecap="butt"/>
<line x1="40.29" y1="303.00" x2="40.29" y2="305.70" stroke="#444" stroke-width="0.65" stroke-linecap="butt"/>
<line x1="45.54" y1="303.00" x2="45.54" y2="305.70" stroke="#444" stroke-width="0.65" stroke-linecap="butt"/>
<line x1="49.27" y1="303.00" x2="49.27" y2="305.70" stroke="#444" stroke-width="0.65" stroke-linecap="butt"/>
<line x1="52.16" y1="303.00" x2="52.16" y2="305.70" stroke="#444" stroke-width="0.65" stroke-linecap="butt"/>
<line x1="54.53" y1="303.00" x2="54.53" y2="305.70" stroke="#444" stroke-width="0.65" stroke-linecap="butt"/>
<line x1="56.53" y1="303.00" x2="56.53" y2="305.70" stroke="#444" stroke-width="0.65" stroke-linecap="butt"/>
<line x1="58.26" y1="303.00" x2="58.26" y2="305.70" stroke="#444" stroke-width="0.65" stroke-linecap="butt"/>
<line x1="59.78" y1="303.00" x2="59.78" y2="305.70" stroke="#444" stroke-width="0.65" stroke-linecap="butt"/>
<line x1="61.15" y1="303.00" x2="61.15" y2="311.50" stroke="#222" stroke-width="1.0" stroke-linecap="butt"/>
<line x1="70.14" y1="303.00" x2="70.14" y2="305.70" stroke="#444" stroke-width="0.65" stroke-linecap="butt"/>
<line x1="75.39" y1="303.00" x2="75.39" y2="305.70" stroke="#444" stroke-width="0.65" stroke-linecap="butt"/>
<line x1="79.12" y1="303.00" x2="79.12" y2="305.70" stroke="#444" stroke-width="0.65" stroke-linecap="butt"/>
<line x1="82.01" y1="303.00" x2="82.01" y2="305.70" stroke="#444" stroke-width="0.65" stroke-linecap="butt"/>
<line x1="84.38" y1="303.00" x2="84.38" y2="305.70" stroke="#444" stroke-width="0.65" stroke-linecap="butt"/>
<line x1="86.38" y1="303.00" x2="86.38" y2="305.70" stroke="#444" stroke-width="0.65" stroke-linecap="butt"/>
<line x1="88.11" y1="303.00" x2="88.11" y2="305.70" stroke="#444" stroke-width="0.65" stroke-linecap="butt"/>
<line x1="89.63" y1="303.00" x2="89.63" y2="305.70" stroke="#444" stroke-width="0.65" stroke-linecap="butt"/>
<line x1="91.00" y1="303.00" x2="91.00" y2="311.50" stroke="#222" stroke-width="1.0" stroke-linecap="butt"/>
<line x1="99.99" y1="303.00" x2="99.99" y2="305.70" stroke="#444" stroke-width="0.65" stroke-linecap="butt"/>
<line x1="105.24" y1="303.00" x2="105.24" y2="305.70" stroke="#444" stroke-width="0.65" stroke-linecap="butt"/>
<line x1="108.97" y1="303.00" x2="108.97" y2="305.70" stroke="#444" stroke-width="0.65" stroke-linecap="butt"/>
<line x1="111.86" y1="303.00" x2="111.86" y2="305.70" stroke="#444" stroke-width="0.65" stroke-linecap="butt"/>
<line x1="114.23" y1="303.00" x2="114.23" y2="305.70" stroke="#444" stroke-width="0.65" stroke-linecap="butt"/>
<line x1="116.23" y1="303.00" x2="116.23" y2="305.70" stroke="#444" stroke-width="0.65" stroke-linecap="butt"/>
<line x1="117.96" y1="303.00" x2="117.96" y2="305.70" stroke="#444" stroke-width="0.65" stroke-linecap="butt"/>
<line x1="119.48" y1="303.00" x2="119.48" y2="305.70" stroke="#444" stroke-width="0.65" stroke-linecap="butt"/>
<line x1="120.85" y1="303.00" x2="120.85" y2="311.50" stroke="#222" stroke-width="1.0" stroke-linecap="butt"/>
<line x1="129.84" y1="303.00" x2="129.84" y2="305.70" stroke="#444" stroke-width="0.65" stroke-linecap="butt"/>
<line x1="135.09" y1="303.00" x2="135.09" y2="305.70" stroke="#444" stroke-width="0.65" stroke-linecap="butt"/>
<line x1="138.82" y1="303.00" x2="138.82" y2="305.70" stroke="#444" stroke-width="0.65" stroke-linecap="butt"/>
<line x1="141.71" y1="303.00" x2="141.71" y2="305.70" stroke="#444" stroke-width="0.65" stroke-linecap="butt"/>
<line x1="144.08" y1="303.00" x2="144.08" y2="305.70" stroke="#444" stroke-width="0.65" stroke-linecap="butt"/>
<line x1="146.08" y1="303.00" x2="146.08" y2="305.70" stroke="#444" stroke-width="0.65" stroke-linecap="butt"/>
<line x1="147.81" y1="303.00" x2="147.81" y2="305.70" stroke="#444" stroke-width="0.65" stroke-linecap="butt"/>
<line x1="149.33" y1="303.00" x2="149.33" y2="305.70" stroke="#444" stroke-width="0.65" stroke-linecap="butt"/>
<line x1="150.70" y1="303.00" x2="150.70" y2="311.50" stroke="#222" stroke-width="1.0" stroke-linecap="butt"/>
<line x1="28.60" y1="294.65" x2="31.30" y2="294.65" stroke="#444" stroke-width="0.6" stroke-linecap="butt"/>
<line x1="28.60" y1="289.76" x2="31.30" y2="289.76" stroke="#444" stroke-width="0.6" stroke-linecap="butt"/>
<line x1="28.60" y1="286.29" x2="31.30" y2="286.29" stroke="#444" stroke-width="0.6" stroke-linecap="butt"/>
<line x1="28.60" y1="283.60" x2="31.30" y2="283.60" stroke="#444" stroke-width="0.6" stroke-linecap="butt"/>
<line x1="28.60" y1="281.41" x2="31.30" y2="281.41" stroke="#444" stroke-width="0.6" stroke-linecap="butt"/>
<line x1="28.60" y1="279.55" x2="31.30" y2="279.55" stroke="#444" stroke-width="0.6" stroke-linecap="butt"/>
<line x1="28.60" y1="277.94" x2="31.30" y2="277.94" stroke="#444" stroke-width="0.6" stroke-linecap="butt"/>
<line x1="28.60" y1="276.52" x2="31.30" y2="276.52" stroke="#444" stroke-width="0.6" stroke-linecap="butt"/>
<line x1="22.80" y1="275.25" x2="31.30" y2="275.25" stroke="#222" stroke-width="1.0" stroke-linecap="butt"/>
<line x1="28.60" y1="266.90" x2="31.30" y2="266.90" stroke="#444" stroke-width="0.6" stroke-linecap="butt"/>
<line x1="28.60" y1="262.01" x2="31.30" y2="262.01" stroke="#444" stroke-width="0.6" stroke-linecap="butt"/>
<line x1="28.60" y1="258.54" x2="31.30" y2="258.54" stroke="#444" stroke-width="0.6" stroke-linecap="butt"/>
<line x1="28.60" y1="255.85" x2="31.30" y2="255.85" stroke="#444" stroke-width="0.6" stroke-linecap="butt"/>
<line x1="28.60" y1="253.66" x2="31.30" y2="253.66" stroke="#444" stroke-width="0.6" stroke-linecap="butt"/>
<line x1="28.60" y1="251.80" x2="31.30" y2="251.80" stroke="#444" stroke-width="0.6" stroke-linecap="butt"/>
<line x1="28.60" y1="250.19" x2="31.30" y2="250.19" stroke="#444" stroke-width="0.6" stroke-linecap="butt"/>
<line x1="28.60" y1="248.77" x2="31.30" y2="248.77" stroke="#444" stroke-width="0.6" stroke-linecap="butt"/>
<line x1="22.80" y1="247.50" x2="31.30" y2="247.50" stroke="#222" stroke-width="1.0" stroke-linecap="butt"/>
<line x1="28.60" y1="239.15" x2="31.30" y2="239.15" stroke="#444" stroke-width="0.6" stroke-linecap="butt"/>
<line x1="28.60" y1="234.26" x2="31.30" y2="234.26" stroke="#444" stroke-width="0.6" stroke-linecap="butt"/>
<line x1="28.60" y1="230.79" x2="31.30" y2="230.79" stroke="#444" stroke-width="0.6" stroke-linecap="butt"/>
<line x1="28.60" y1="228.10" x2="31.30" y2="228.10" stroke="#444" stroke-width="0.6" stroke-linecap="butt"/>
<line x1="28.60" y1="225.91" x2="31.30" y2="225.91" stroke="#444" stroke-width="0.6" stroke-linecap="butt"/>
<line x1="28.60" y1="224.05" x2="31.30" y2="224.05" stroke="#444" stroke-width="0.6" stroke-linecap="butt"/>
<line x1="28.60" y1="222.44" x2="31.30" y2="222.44" stroke="#444" stroke-width="0.6" stroke-linecap="butt"/>
<line x1="28.60" y1="221.02" x2="31.30" y2="221.02" stroke="#444" stroke-width="0.6" stroke-linecap="butt"/>
<line x1="22.80" y1="219.75" x2="31.30" y2="219.75" stroke="#222" stroke-width="1.0" stroke-linecap="butt"/>
<line x1="28.60" y1="211.40" x2="31.30" y2="211.40" stroke="#444" stroke-width="0.6" stroke-linecap="butt"/>
<line x1="28.60" y1="206.51" x2="31.30" y2="206.51" stroke="#444" stroke-width="0.6" stroke-linecap="butt"/>
<line x1="28.60" y1="203.04" x2="31.30" y2="203.04" stroke="#444" stroke-width="0.6" stroke-linecap="butt"/>
<line x1="28.60" y1="200.35" x2="31.30" y2="200.35" stroke="#444" stroke-width="0.6" stroke-linecap="butt"/>
<line x1="28.60" y1="198.16" x2="31.30" y2="198.16" stroke="#444" stroke-width="0.6" stroke-linecap="butt"/>
<line x1="28.60" y1="196.30" x2="31.30" y2="196.30" stroke="#444" stroke-width="0.6" stroke-linecap="butt"/>
<line x1="28.60" y1="194.69" x2="31.30" y2="194.69" stroke="#444" stroke-width="0.6" stroke-linecap="butt"/>
<line x1="28.60" y1="193.27" x2="31.30" y2="193.27" stroke="#444" stroke-width="0.6" stroke-linecap="butt"/>
<line x1="22.80" y1="192.00" x2="31.30" y2="192.00" stroke="#222" stroke-width="1.0" stroke-linecap="butt"/>
<text transform="translate(37.10 211.60) scale(1.03 1)" font-size="16.8" font-weight="normal" text-anchor="start" fill="#111">54</text>
<text transform="translate(147.80 211.60) scale(1.03 1)" font-size="16.8" font-weight="normal" text-anchor="end" fill="#111">3</text>
<text transform="translate(147.40 299.40) scale(1.03 1)" font-size="16.8" font-weight="normal" text-anchor="end" fill="#111">0</text>
<path d="m249.8 224.3h1m-7.2 2.4h1m.3 .6h1m-.4 .5h1m-.7-1.4h1m.5 .1h1m-.9 .7h1m.7-1.8h1m.7 .1h1m-.2 1.1h1m.9-.1h1m-76.2 4.4h1m.3-1.1h1m55.2 .4h1m.6-1.8h1m-.8 1.2h1m.2 .1h1m-.1 .1h1m-.8 .3h1m-.4 .1h1m-.1-.6h1m-1 .8h1m-.6-1.9h1m-.6 0h1m-.5 2.4h1m-.6-2.9h1m-.9 2.7h1m.3 .2h1m-.8-1h1m-.7-1.1h1m-.2-.7h1m-.9 1.1h1m-.8 .6h1m-.6 .3h1m-.8-.6h1m-.5-1.2h1m-.4 1.7h1m.1-.5h1m-.9-.2h1m-.7 .6h1m-.6 .4h1m-16.5 3.4h1m-.5-2.1h1m-.2-.4h1m-.8 1.7h1m-.5-.8h1m-.7-.5h1m-.7 1.2h1m-.9 .1h1m-.2-.2h1m-.9-.7h1m-.5-.8h1m-.7 .9h1m-.9 .5h1m-1-.3h1m-.4-.4h1m-.7 .2h1m-.9 .4h1m-.4-1h1m-.7-.1h1m-1 1.4h1m-.7 .8h1m-.7-.6h1m-.8-.5h1m-.8 1.1h1m-.8-1.2h1m-.7-.9h1m-1 2h1m-.9-2.5h1m-1 2h1m-.9-1h1m-.8 .9h1m-.9 1h1m-.8-.5h1m-.9-.6h1m-.4-.8h1m-.7-.5h1m-1 2.1h1m-.4-1.1h1m-.9-1.3h1m-.8 2.2h1m-.7-1.2h1m-.2-.5h1m-1-.7h1m-67.2 3.8h1m7.2 .9h1m30.7 .8h1m8.9-.2h1m-.4-2.2h1m-1 .6h1m-.4 1.4h1m-.5 .7h1m0-.7h1m0-.8h1m-.8 1.6h1m-.9-.8h1m-.7-.1h1m-.8 .1h1m-.8 .4h1m-.8-2h1m-.4 .6h1m-.1 1.6h1m-.8-2.4h1m-1-.3h1m-.8 .8h1m-1 2h1m-.9-1.6h1m-.9 1.2h1m-.8-.2h1m-.9-1.4h1m-.9 1.4h1m-1 .3h1m-.9-1.8h1m-.9 .4h1m-1-1.1h1m-.9 1.6h1m-1-.6h1m-.5 1.6h1m-.9-.8h1m-.9-.1h1m-.8-.8h1m-1 .9h1m-.9-1.2h1m-.8-.5h1m-.9 2.1h1m-.8-1.4h1m-.8 1.5h1m-1-1.1h1m-.8 1.7h1m-.8-1.2h1m-.7-.9h1m-.9 1.1h1m-.7-.7h1m-.9-.6h1m-1 .8h1m-.9 .6h1m-1-1.6h1m-1 2.3h1m-.8-.4h1m-.5-.8h1m-.2-.9h1m-.8 0h1m-.7 2.1h1m-.7-1.8h1m-.6 .1h1m-.9 1.2h1m.1 .4h1m-68.2 1.1h1m-.7 1.2h1m-.9-1.1h1m.3 1.2h1m.9 .2h1m2-.8h1m10.1 1h1m2.1 0h1m22.4 .5h1m3-.8h1m-.7 .6h1m-.9 0h1m-.2-1.3h1m-.9 1h1m-.1-.3h1m-.7 .4h1m-.7-2.1h1m-.4 1.3h1m-.5 .6h1m-.9-.4h1m-.9 .9h1m-.8-.3h1m-.5-.6h1m-.7 .1h1m-1 .4h1m-.9-1.7h1m-.9 1.4h1m-.8-1.6h1m-1 1.2h1m-1-.6h1m-.9-.3h1m-.9 .8h1m-.8-.8h1m-.5-.2h1m-.7 1.6h1m-.9-2.2h1m-.9 .1h1m-.8 .1h1m-.5 1.8h1m-.9-1.1h1m-.9 .2h1m-.7 .1h1m-1 1.3h1m-1-1.6h1m-.9 1.9h1m-.9-1.3h1m-1-.4h1m-.9-.1h1m-1 1h1m-.8-1h1m-1 1.8h1m-.7-1.4h1m-1 1h1m-.7-1.3h1m-.7 .1h1m-1-.9h1m-.9 1h1m-.8 1h1m-.6-.7h1m-.7-.3h1m-.9-.2h1m-.9 .3h1m-1 .6h1m-.8-1.3h1m-1 .2h1m-.8-.6h1m-1 .5h1m-.8-.5h1m-.9 .6h1m-.9 0h1m-1 .5h1m-.7-.5h1m-.8-.3h1m-.9 1h1m-.9 .3h1m-.9 .2h1m-1-1.9h1m-.8 2.7h1m-1-1.7h1m-.9 1.1h1m-.9-1.9h1m-1 .9h1m-.8 .2h1m-.9 .2h1m-.7-.1h1m-.8-1.5h1m-.6 2.3h1m-1-1.4h1m-.7 .6h1m-1 1.3h1m-.7-2.4h1m-.8 2h1m-.9-.5h1m-.9-.1h1m-1-1.1h1m-.3-.8h1m.3 0h1m-.7 .1h1m2.1 .1h1m-72.4 4.4h1m1.2-1.1h1m-.1 .7h1m2.1-1.2h1m-.9 2.1h1m1-1.3h1m-.6 1.3h1m37.5-1.4h1m-.7 1.2h1m0-.5h1m.3 1.5h1m-.7-.1h1m-.8-1.5h1m-.6 .4h1m-.9-.1h1m-.5 0h1m-1-1h1m-.9 .2h1m-.4 1.6h1m-.5 0h1m-.7-1.9h1m-.8 .4h1m-.8 1.1h1m-.8 .8h1m-.9-1.4h1m-1 .9h1m-1 .5h1m-.7 .1h1m-1-.9h1m-.9-1.3h1m-.9 .7h1m-.8-.2h1m-.9 .4h1m-1 .3h1m-.9 .7h1m-.9 .1h1m-.9-1h1m-.6 1h1m-.9-.9h1m-1-1.2h1m-.9 1.4h1m-.9 .8h1m-.9-.6h1m-.6-.5h1m-.9 .7h1m-1-2.3h1m-.7 .7h1m-.7 .5h1m-.8-1.1h1m-1 .7h1m-.9-.7h1m-.9 1.7h1m-.9 .9h1m-.9-.7h1m-.8 .5h1m-.9-2.5h1m-1 1.3h1m-1 .8h1m-.9 .5h1m-.8-.7h1m-1-1.3h1m-.8 1.4h1m-1-.3h1m-1 .5h1m-.8-.8h1m-1 1.2h1m-.9-1.4h1m-.9 .8h1m-1-1.9h1m-1 2h1m-1-.3h1m-.9-1h1m-.9 .6h1m-1 1.2h1m-.9-1.7h1m-.8-1h1m-1 .9h1m-.9 .5h1m-1-.5h1m-1-.3h1m-.7-.3h1m-1 .1h1m-.8-.2h1m-1 .5h1m-1 2.1h1m-.8-2.5h1m-.7-.1h1m-1 .2h1m-.8-.4h1m-1 1.5h1m-1-.4h1m-.7-.1h1m-.8-.3h1m-.5 .5h1m-.6 1.2h1m-.9-1h1m-1 .7h1m-.8-2.1h1m-.6 1.4h1m-.8 .1h1m-1 .4h1m-.9-.5h1m-.5 .9h1m-.6-.4h1m-.8 .5h1m1.6-.1h1m-.3-.6h1m-70.7 2.9h1m.7-1.6h1m.6 2.4h1m.3-2.4h1m-.7 .6h1m0 1.6h1m-.2-1.7h1m-.8 .9h1m-.4-.6h1m.9 0h1m-.2 .8h1m-.8 .3h1m.4-.9h1m32.2 1.1h1m.7-.6h1m-.6 1h1m-.4-.1h1m-1-1.5h1m-.9 1.7h1m-.5-2.6h1m-.8 1.8h1m-.9 0h1m-.6 0h1m-.8-1.1h1m-.7 2h1m-.8 .2h1m-.9-1.8h1m-.7 1.7h1m-.9-2.1h1m-1-.1h1m-.9 .3h1m-.2 1.4h1m-1 .2h1m-1-1.4h1m-.8 .2h1m-1-.1h1m-.7 .3h1m-1 1.2h1m-1 .2h1m-.2-2.5h1m-.9-.2h1m-1 .4h1m-1 1.2h1m-.8 .8h1m-.9-.6h1m-1-.6h1m-1 .2h1m-1 .8h1m-.9-.1h1m-.9-1h1m-1 .1h1m-.9 1.4h1m-1-2.8h1m-.9 1h1m-.6 1.8h1m-.9-.8h1m-.9-1.3h1m-1 2.2h1m-1-2.6h1m-1 2.2h1m-.9-1h1m-.9 1.3h1m-.9-1.5h1m-.9-1h1m-.9-.1h1m-.9-.2h1m-1 1.9h1m-.9-.7h1m-1-.5h1m-.7 .9h1m-1 .2h1m-.7 .8h1m-.6 .1h1m-.9-1.1h1m-1 1.2h1m-.9-1.6h1m-1 1.3h1m-1-.4h1m-.9-.1h1m-.9-.3h1m-1 .8h1m-1-1.7h1m-.9 1.9h1m-.9 .2h1m-1-2.8h1m-1 1.9h1m-.9 .3h1m-1-.7h1m-.9 .6h1m-.9-2.1h1m-1 1.8h1m-1-.5h1m-1 .7h1m-.9 .3h1m-.9-2.4h1m-.9 1.2h1m-.9-.4h1m-1 1.8h1m-1-.8h1m-1-.5h1m-.9 .4h1m-.9-.4h1m-.9-.7h1m-1 .2h1m-.9 2h1m-1-.1h1m-1-2.1h1m-.9 1.2h1m-.9-1.6h1m-.9 .7h1m-.8-.2h1m-1 1.7h1m-1-2.1h1m-1 .2h1m-.9 1.7h1m-.9 0h1m-.8-1.3h1m-1 1.2h1m-1-.6h1m-1 1h1m-.9-1.5h1m-1 1.6h1m-.9-2.2h1m-.7 .9h1m-1-1.1h1m-.8 1.3h1m-.9-1.2h1m-.8 .8h1m-.8 .2h1m-.9-.7h1m-1 .5h1m-.9 1.7h1m-.8-1.1h1m-.9-.9h1m-.9 1.3h1m-.6-2.1h1m-.7 2.3h1m-.7-1.9h1m-.4 .4h1m-.9-.5h1m-.8 .9h1m-.5 0h1m-.9 .7h1m0-1h1m-.6-.6h1m-1-.1h1m-.7 .4h1m-.5-.3h1m1.2 1.9h1m-69.9 3.3h1m3.2-2.5h1m.4 .6h1m-.6 1.9h1m.5 .2h1m1.7-1.7h1m.2 1.3h1m.4-2.3h1m2.5 2.8h1m-.3-.6h1m-.5-.2h1m-.2 .1h1m-.1-2h1m-.6 1.2h1m1.8-.7h1m-.6 .5h1m20.7 .8h1m-.5 .4h1m1.4-.5h1m-.9 .8h1m-.8-.6h1m-.5 .3h1m-.9-1h1m-1 .1h1m-.7 .1h1m-.7 .1h1m-1-.1h1m-.1 0h1m-.9 1.3h1m-.7-.4h1m-1-1.1h1m-.9-.2h1m-.9 0h1m-.9 1.5h1m-.9-.8h1m-1-1.4h1m-.8 1h1m-1 .4h1m-.8 1.1h1m-1-1.5h1m-.8-.8h1m-.9 1.7h1m-.8-.2h1m-.9-2h1m-.9 2h1m-1-1.5h1m-.8-.3h1m-1 2.5h1m-.8-1.8h1m-1 1.5h1m-.9-.6h1m-.9 .5h1m-.8-1.3h1m-.8 .2h1m-1-.5h1m-1 1.2h1m-1 .2h1m-.9-1.5h1m-.8 2.2h1m-1-2.7h1m-.8 2.4h1m-.9-2.5h1m-1 .7h1m-.8 1.8h1m-.8 .3h1m-.7-2.6h1m-.9 .7h1m-1 1.3h1m-.9 0h1m-.7-1.8h1m-1 .4h1m-.9 1.8h1m-.9-2.2h1m-1 .9h1m-.9 1.4h1m-1-2.7h1m-.9 2.5h1m-1-1.5h1m-1 .1h1m-.8-.4h1m-.8 .8h1m-1 .6h1m-.9 .1h1m-.9-2h1m-1-.1h1m-.9 1.3h1m-.9-.4h1m-.9 1.5h1m-1-1.4h1m-.9-1h1m-1-.1h1m-1 .6h1m-.9-.5h1m-.9 .7h1m-.8 .6h1m-1-1.5h1m-.7 .6h1m-1 2h1m-.8-2.2h1m-.9 1.1h1m-1 .4h1m-1 .7h1m-.9-.5h1m-1-.8h1m-1 1.5h1m-.9-2.3h1m-.9 2.2h1m-.9-1.4h1m-.9 .6h1m-.7 .9h1m-1-1.7h1m-.9-.1h1m-1-.9h1m-.9 1.3h1m-1 .7h1m-.9 .7h1m-1-.3h1m-1-.9h1m-.8-1.5h1m-1 2.5h1m-.8-.3h1m-.8-1.5h1m-1-.4h1m-1 1.2h1m-.9-.6h1m-1-.5h1m-.9 .8h1m-.9 1.1h1m-.9-1h1m-.9 .3h1m-.9-1.6h1m-1 1.8h1m-1-.8h1m-1 .2h1m-.7-.5h1m-.8 0h1m-.9-.3h1m-.7 .8h1m-.6-.4h1m-1 1.2h1m-.6 .1h1m-.5-.6h1m-1-.8h1m-1 1.5h1m-.6-1.6h1m-.7 2h1m.4 .2h1m-.1-2.3h1m-1-.6h1m.4 .5h1m-68.4 5.2h1m1.4-2.5h1m1 1h1m-.4 0h1m1.8 .2h1m-.7-1h1m-.7-.1h1m-.1 1.9h1m-.9 .1h1m-.8 .1h1m-.6-1.8h1m-.9 2.1h1m-.7-2.7h1m-.9 2.3h1m-.9 .1h1m-.3-1.4h1m-.3 1.9h1m-.2-2.5h1m-.7 .1h1m-1 2.2h1m-.9 0h1m-.8-1.5h1m-.5 0h1m-.9 1.5h1m-.8 .1h1m.2 0h1m-.8-2.4h1m-.5 .7h1m-.1 .1h1m-.2 .2h1m-.9 .6h1m.3-1.2h1m-.5 .6h1m-.8-.5h1m16.6 1.1h1m4.8-.7h1m-.8 1h1m-.2-.4h1m-.4-1.6h1m-.8 2.5h1m-.1-.7h1m-.8 .6h1m-.9-2.2h1m-.8 1.6h1m-.4-.6h1m-.9 1.2h1m-.9-1.5h1m-1 .9h1m-.4-.1h1m-.8-.6h1m-.9 1.3h1m-.7 .2h1m-.8-.7h1m-.6-.1h1m-.9 .6h1m-1-.8h1m-1 .4h1m-.7-.8h1m-1 1.1h1m-.9-1.2h1m-.9-.7h1m-1 2.1h1m-.9-.8h1m-.8 .2h1m-.9-2.1h1m-1 1.6h1m-1 .8h1m-.8-.4h1m-1 .3h1m-.8-.5h1m-1-1.9h1m-1 1.3h1m-1 .5h1m-.9-.2h1m-.9-.6h1m-.6 1.1h1m-.9 .7h1m-.8-.3h1m-1-2.4h1m-.9 2.4h1m-.9-2h1m-1 1.5h1m-1 .7h1m-1-1.1h1m-.9-.9h1m-1 1.5h1m-.8 .6h1m-1-2.2h1m-.9 1.4h1m-1-.9h1m-.7 .8h1m-.9-1.5h1m-.9 1.2h1m-1-1.3h1m-.9 .6h1m-.9 1h1m-1-1.1h1m-.9 1.7h1m-1-.7h1m-.9-.6h1m-.9 1.5h1m-1-2.1h1m-1 .4h1m-.9 1.2h1m-1-1h1m-.9-.9h1m-.9 .4h1m-.9-.2h1m-.9 .8h1m-.9-.8h1m-1 1.3h1m-1-.1h1m-.9-.7h1m-1 1.2h1m-.9-1.9h1m-1 1.4h1m-1 1.1h1m-.9-2.8h1m-.9 1h1m-.9-.4h1m-.9-.1h1m-1-.2h1m-1 .4h1m-.9-.7h1m-1 1.2h1m-.9 0h1m-.9 .7h1m-.9 .3h1m-.9-1.5h1m-.9-.7h1m-.9 2.8h1m-1-1.9h1m-.8 0h1m-1 .6h1m-.9-1.4h1m-1 1.8h1m-.8 .3h1m-.7-.1h1m-.7-.9h1m-1-.8h1m-.5 1.8h1m-.9-.8h1m-1-.6h1m-.6 .4h1m-.8 1.2h1m-1-2.3h1m-1 1.6h1m-.8-1.5h1m-.5 1.2h1m-.8 .2h1m-.8-.8h1m-.6 .1h1m-.8-.9h1m-.6 0h1m-.9 0h1m-.9 2.2h1m-1-.4h1m-.6 0h1m0-.9h1m-.9-.7h1m-1 2.2h1m-.9 .1h1m-.5-2.2h1m.2 .9h1m-60.8 2.2h1m0 1.5h1m-.8-1.6h1m-.8 .5h1m.5 2h1m-.7-.7h1m-.8 .7h1m-.9 .1h1m-.8-2.4h1m-.4 1.4h1m.7-1.4h1m-.9 1.2h1m.2 .3h1m-.8-1.3h1m-.9-.4h1m-.2 .3h1m-.9 1.1h1m-.3 .2h1m-.3-1.7h1m-.9 2h1m-.9-1.9h1m.8 .2h1m-.9 1.4h1m-1 .7h1m-.8-1.3h1m-1-1.2h1m-.6 1.8h1m-.8 .9h1m.8-2.2h1m-.3 2.3h1m-.7-.7h1m-.5 .6h1m-.8-1.7h1m-.6 1.5h1m-.9 .1h1m-.7-2h1m0 1h1m20-1.6h1m-.8 2.4h1m0-2.3h1m-.4 1h1m-.8 .6h1m-1 .7h1m-.7-.5h1m-.5-.1h1m-.6 .9h1m-.6-.2h1m-1-1.8h1m-.6 2h1m-1-.6h1m-.9-.2h1m-.7-1h1m-.9 .3h1m-.4-.1h1m-1-1.1h1m-.9 2.3h1m-.6-2.2h1m-.6 .4h1m-.8 1.4h1m-.8-.5h1m-.8 1.1h1m-.8-1.4h1m-.9 1.7h1m-.9 0h1m-.9-.6h1m-.9-1h1m-.9 .2h1m-1 .7h1m-.9-1.9h1m-1 .1h1m-.8 1.9h1m-.9 0h1m-.9-2h1m-.9 1.4h1m-1-1.1h1m-.8 1h1m-.9-1.1h1m-.7 1.2h1m-.7 .2h1m-.8-.3h1m-1-1.6h1m-.9 .2h1m-.9 1.8h1m-.9-.2h1m-1-1.5h1m-.9-.2h1m-1 1h1m-.9 .1h1m-.7-.5h1m-1 .2h1m-.7 .3h1m-1 1.7h1m-1-.5h1m-.8-2.1h1m-1 1h1m-.8 .7h1m-.9-1.7h1m-.7 .2h1m-1-.1h1m-.5 0h1m-.9 1.5h1m-.7 .5h1m-.7-1.5h1m-.8 .2h1m-.9-1.1h1m-1 2.7h1m-.7-1.5h1m-.9 0h1m-1-.3h1m-.7 1.1h1m-.9-.4h1m-.4-1.2h1m-.9 .6h1m-1 1.9h1m-.7-.9h1m-1-.2h1m-.6-.2h1m-.8 1.3h1m-.8 0h1m1.8-1.4h1m-59 2h1m-.6-.2h1m-.7 .4h1m-.8 1.5h1m-.5 .4h1m-1-2.4h1m-.6 2.2h1m-.5-1.5h1m.1 1.8h1m.6-1.7h1m-.5 1h1m-.3-1h1m-.9-.4h1m-.7 .7h1m-.8 1.5h1m-.8-1.6h1m-.8-.3h1m-.9 1.2h1m-1-1.4h1m-1 .8h1m-.7-.8h1m.3 1.1h1m-.6-.9h1m-1 1.6h1m-.9-1.7h1m.4 .3h1m-.9 .3h1m-.9-1.1h1m-.5 1.4h1m-.9-.2h1m-.8-.9h1m-.9 2.1h1m-.9-1.2h1m.2 .6h1m-.7-1.9h1m-1 1.1h1m-.9-1.2h1m-1 1.5h1m-.9-.3h1m-.9 1.6h1m-1-2.5h1m-.8 1.6h1m-.8 .8h1m0 .1h1m-.6-2.6h1m-.9 .5h1m-.2 1.1h1m-.4-.9h1m-.6-.5h1m-.3 2.2h1m-.7-1.5h1m-.1 1.2h1m-1-1.3h1m-.4 1h1m-.2-1.3h1m-.8 2.1h1m-.4-1.4h1m.1 1.2h1m12.4-1.3h1m0-1h1m-.1 1.6h1m-.3-.1h1m.6-1.1h1m-.6 1.5h1m-.8-.8h1m-.5-.9h1m-1 1.8h1m-1-.3h1m-.7-.7h1m-.9 1.1h1m-.8-2.1h1m-.6 2.5h1m-.7-.1h1m-1-2.8h1m-.9 2.4h1m-.5-.9h1m-.6-.6h1m-.9 .5h1m-.4-1h1m-1 .9h1m-.9 0h1m-.7 1.1h1m-.9-1.3h1m-.9 .4h1m-.9 1.4h1m-1-2.2h1m-.9-.5h1m-.8 1.9h1m-.4-1.2h1m-1-.5h1m-.3 1.2h1m-.6 .1h1m-.9 .9h1m-1-.6h1m-.7 .2h1m-.6-1h1m-.9 1.3h1m-.7-2.4h1m-.7 2.3h1m-.7 .2h1m-.9 .3h1m-.5-2.1h1m-.9-.6h1m-.7 .2h1m-.7-.1h1m-.7 .7h1m-.8-1h1m-.6 2.8h1m-.5-2.1h1m-.7-.6h1m0 0h1m-.7 0h1m-.9 .9h1m-55.7 3.6h1m.1-1h1m2.5 0h1m-.8 1.2h1m-.8-.3h1m-.3-.8h1m-1 2h1m-.9-1h1m-.8-.2h1m-.9 .2h1m.3 .5h1m-1-1.5h1m-1 1.3h1m-.8-.9h1m-.9-.5h1m-.8 2h1m-.9-1.1h1m-.4 .9h1m-.7 .3h1m-.6-1h1m-.7-.9h1m-.7-.6h1m-.5 1.4h1m-1 1.3h1m-.8-1.6h1m-1-.3h1m-.8 .2h1m-.5 .8h1m-.9-.6h1m-.8 1.5h1m-.6-.5h1m-.9-1.8h1m-.7 1h1m-.8 1.1h1m-.5-1.7h1m-.2 1.8h1m-.9-1.9h1m-.4 .5h1m-.9-.7h1m-.6 .6h1m-.9 .3h1m-.6-.6h1m-.1 0h1m-1 .1h1m-.7 1.8h1m-.4-2.2h1m-.9 1.3h1m-.5 .2h1m-.9-.2h1m-.7-1.7h1m-.1 1.9h1m-.9-.7h1m-.8 1.3h1m-.3-1.5h1m-.5-.1h1m1.2 1.4h1m-.3-.5h1m1.8 .6h1m6-2h1m.6 1.3h1m-.4-.1h1m-.7 .5h1m-.5-1.2h1m-.3 1.2h1m-.5-.1h1m-.7-.7h1m.7-1.4h1m-.8 2h1m-.9-.9h1m-.2-1.3h1m-.9 1.2h1m-.6-.3h1m-.5-.4h1m-.5 0h1m-.7-.2h1m-.9 1.1h1m-.8 .1h1m-1 .9h1m-.8 0h1m-.9-1.9h1m-.9 1.4h1m-.7 .5h1m-.8-2h1m-.6 .7h1m-.8 1.4h1m-.7-.3h1m-.9-1.5h1m-.7 .8h1m-.3-.5h1m0-.4h1m.4-.1h1m.8-.1h1m1.2 .1h1m-.6 .2h1m-.7 0h1m-.4-.3h1m-54.4 4.4h1m2.5-1.4h1m-.7 2.4h1m-1-2.7h1m-.1 .1h1m-.6 .4h1m-.4 0h1m-.9 1.8h1m-1-2.3h1m-.7 2.8h1m-1-1.3h1m-.5-1.4h1m-.8 .7h1m-.8-.7h1m-1 1.2h1m-.5-1.3h1m-.7 2.4h1m-.3-1h1m-.7-.4h1m-.9 .7h1m-.9-1.1h1m-.8 1.1h1m-.9 .6h1m-.9-.8h1m-.4-1.4h1m-.9 1.6h1m-1 .8h1m-.2 .3h1m-.9-.3h1m-1-2.2h1m-.9 .7h1m-.9-.7h1m-.3 1.7h1m-.9-.3h1m-.4 .9h1m-.8-.1h1m-.7-.9h1m-.9-1.4h1m-.9 1.9h1m-1-1h1m-.6 1.6h1m-.6-.2h1m-.9-1.3h1m-.9-.7h1m-.9 .1h1m-1 1.8h1m-1 .4h1m-.8-1.9h1m-.7-1h1m-.8 1.3h1m-.6-1.2h1m-.8 .4h1m-.8 .6h1m-.7-.3h1m-1 .8h1m-.9 .7h1m-.6-.8h1m-.7 .4h1m-.9-.1h1m-.8-1.2h1m-.6-.5h1m.1 1.9h1m-.8-.4h1m-.7-.5h1m-.6-.9h1m-.3 .4h1m-.7 2.3h1m-.8-1.2h1m-.4-1.6h1m1.4 .3h1m1.1 1h1m.9 .2h1m.4-1.2h1m-.1 1h1m4.2 .1h1m-.9 1h1m-.3-1.5h1m-.3 .9h1m1-.9h1m-.8 1.2h1m.1-.7h1m-.8 .2h1m.9-.9h1m.8 1.9h1m-.9-2.4h1m-.5 .2h1m-.7 .6h1m-.5 1.8h1m-.4-2.7h1m-46.5 5.4h1m-.3 .3h1m-.5-2.2h1m-.7 .3h1m-.2-1h1m.1 1h1m-.8-.9h1m-.9 1.3h1m-.9 .7h1m0-1.9h1m-.3 .9h1m-.6-.5h1m-.6-.4h1m-.4 1.2h1m-.9 .2h1m-.8-1h1m-.9-.3h1m-.7 1.5h1m-.9 .9h1m-.8-.9h1m-.9-1.5h1m-.7 .1h1m-.9 1.8h1m-.9-1.6h1m-1 .7h1m-.8 .1h1m-.9 1.1h1m-.8-2.1h1m-.3 .5h1m-.1 1.9h1m-.8-1.6h1m-.7 .6h1m-.7-1.6h1m-1 2.1h1m-.9 0h1m-.2 .5h1m-.7-1.5h1m-.9-.4h1m-.8 .5h1m-.7 1h1m-.9 .1h1m-.9 .1h1m-.9-.5h1m-.8-1.9h1m-.4 2.1h1m-.7-1.6h1m-.9 .7h1m-1-.5h1m-1-.5h1m-.9 2.3h1m-.7-2h1m-.7 2.1h1m-.4-1.2h1m-.8 .3h1m-.7-.8h1m-.4 .7h1m-.8-.6h1m-.6 1.4h1m-.9-.1h1m.1-1.1h1m-.9-.6h1m-.7 .4h1m.6-.3h1m-.9 .6h1m-.9-1.5h1m-1 1.3h1m-.5 .7h1m-.9 .6h1m-.8-.4h1m-.7 .7h1m.3-1.9h1m.2 1h1m-.4-.1h1m.3-.1h1m3.5-.3h1m.1-1.5h1m1.3 .1h1m1 .6h1m-.3 .2h1m.4 .8h1m-.9-.4h1m5.6-.9h1m1.9-.4h1m-48.5 4.9h1m1.3-1.3h1m1.3-.3h1m.4 1.1h1m-.7 .4h1m-.8-1.2h1m-.1 1.8h1m-.8-1.4h1m-.7 1.4h1m-.7-.1h1m-.6-1.9h1m-.8 2h1m-1-.5h1m-.6-.3h1m-.9 .3h1m-.9 .1h1m-.8 .9h1m-.8-.7h1m-.9-1.8h1m-1 .6h1m-.8 1.5h1m-.6-1.5h1m-.6 1h1m-.8-1.4h1m-.9 2.1h1m-1-1.4h1m-.1 .1h1m-1-.2h1m-.5 .3h1m-.9 .8h1m-.9 .6h1m-1-.2h1m-1 .1h1m-.8-2.3h1m-.8 1.4h1m-.4-.2h1m-.8 .7h1m-.7-.7h1m-.9-.8h1m-.7-.3h1m-1 1.1h1m-.9-.7h1m-.5 .1h1m-.3 1.1h1m-.9-.4h1m-.8-1.5h1m-.7 1.8h1m-.7 0h1m-.9 .4h1m-.6-.9h1m-.9 .2h1m-.9 .5h1m-.9 .5h1m-.5-1.4h1m-.9 .2h1m-.9 .1h1m.6 1.2h1m-.9-.5h1m.2 .1h1m-.4 .2h1m-.7-.4h1m.2-1h1m16.5 .1h1m-41.3 3.3h1m-.5 .8h1m-.5-.4h1m0 .8h1m-1-.6h1m-.9 .4h1m-.6-1.8h1m-.6 1.5h1m-.7-2.3h1m-.4 2.5h1m-.8-2.5h1m-.9 1.3h1m-.9 .1h1m-.9-.1h1m-.9 .2h1m-1-1h1m-.7-.3h1m-.7 2.4h1m-.8-.3h1m-.8-.3h1m-.8 .1h1m-.4-1.2h1m-.5 0h1m-1 1.9h1m-.4-1.6h1m-.9 1.6h1m-.8-2.9h1m-.9 1.9h1m-.9-1.6h1m-.8 1.6h1m-.9-.1h1m-.8 .1h1m-.7-.6h1m-1 1h1m-1-.1h1m-.5-.4h1m-.9-1.5h1m-.9 2.5h1m-.3-1.4h1m-.9 .7h1m-.9-.4h1m-1-.6h1m-.5 .9h1m-.8-1.1h1m-.6 0h1m-.6-.7h1m-1 .4h1m-.9 0h1m-.8 1.6h1m-.7-1.4h1m-.5 2h1m-.4-.7h1m-.9 .3h1m-.5-1.8h1m.1 2.2h1m-.7-.7h1m-1-.1h1m-.9-.9h1m-.8-1h1m-1 1h1m-1-.6h1m-.5 1.4h1m-.7-1.3h1m-.3 .1h1m-.7 .8h1m-1-.5h1m-1 .2h1m-.8 .1h1m-.9-.2h1m-.9-.3h1m-1 1.2h1m-.9-1.9h1m-1 2.7h1m-1-1.9h1m-.7-.3h1m-.7 1.7h1m-.6 0h1m-.9-1h1m-.7 1.6h1m.4-1.3h1m1.6-1h1m-.5 1.1h1m2.7-1.7h1m-29.6 3.1h1m.4 .8h1m-.4 .2h1m-.1 1.8h1m1-.8h1m-.9-2h1m-.7 1.3h1m-.8 1.1h1m-.6-2.1h1m-.8 1.6h1m-.8-.5h1m-.9 .5h1m-.2-.7h1m-1 1.1h1m-.8-.5h1m-1-.5h1m-.8 1.1h1m-.8-.4h1m-.6 .7h1m-.9-.2h1m-.8-1.9h1m-.9 2.2h1m-.3-2.6h1m-.3 2.1h1m-.5-.1h1m-.9-1.4h1m-.9-.4h1m-1 2.3h1m-.4-2.6h1m-1 2.4h1m-1-.4h1m-.6-.7h1m-.9 .1h1m-.8-1.5h1m-1 1.3h1m-.9 .5h1m-.9-1.8h1m-1 .6h1m-.9 .1h1m-1 1.9h1m-.8-2.5h1m-.8 1.4h1m-.6 .1h1m-.9-.1h1m-.9-.1h1m-1-1h1m-.9-.5h1m-1 .7h1m-.9 .5h1m-.7 .4h1m-1-.9h1m-.9 .6h1m-1-.2h1m-.9-.4h1m-1 2h1m-.5-2.5h1m-.9 .1h1m-1 1.2h1m-1-.5h1m-.8 1.6h1m-.9-2.1h1m-1 .7h1m-.7 .9h1m-1-1.3h1m-.8-.7h1m-1 1.7h1m-.5-.2h1m-.3 .8h1m-.4-1.8h1m-.9 2h1m-.7-.6h1m-.9-1.8h1m-.9 2.5h1m-1-1.4h1m-.5-.2h1m-.9-.5h1m-.7-.1h1m-.9-.2h1m-.9 .2h1m-.9 1.4h1m-.7 .2h1m-.6 .3h1m0 .3h1m-.8-.9h1m0-.9h1m0-.3h1m.2-.1h1m0 2.2h1m-.5 0h1m1-.6h1m-30.7 1.2h1m.4 1.3h1m1.4 1h1m-.7-1.2h1m-.2-1.3h1m-.5 1.5h1m-.1-1.6h1m-.5 1.9h1m-.4-.5h1m-.9 .9h1m-.7 .4h1m-.7-2h1m-.9-.1h1m-.7 .5h1m-.7 1.2h1m-.9 .2h1m-.8-.1h1m-.3-1h1m-.8-1h1m-.7 .3h1m-.7 1h1m-1-1.6h1m-.8 1.1h1m-1 1.5h1m-.6-1.8h1m-1-.2h1m-1 2h1m-.9-.3h1m-.7-1.7h1m-.9 .2h1m-1 .1h1m-.9 0h1m-1 1.3h1m-1 .4h1m-.7-.8h1m-.8 .1h1m-.9 .8h1m-.9-.3h1m-.9-.7h1m-.8 .8h1m-.8-2.3h1m-.8 2.5h1m-.9-1.8h1m-1 1.8h1m-.9-2.8h1m-.8 2.3h1m-.9-1.4h1m-.9-.3h1m-1 1.2h1m-1-.8h1m-.9 1.3h1m-.7 0h1m-.9-1.2h1m-1-1h1m-1 2.4h1m-.8-1.3h1m-1-.9h1m-.9 .3h1m-.8 1.9h1m-.8-2.4h1m-.7 2.8h1m-.5-2.1h1m-.7-.1h1m-.7-.2h1m-.7 1.4h1m-.8 .3h1m-.9-1.7h1m-.9 2h1m-.6-.9h1m-.8-1.2h1m-1 1.9h1m-.8-1.4h1m-.6-.6h1m-.9-.1h1m-.7 .6h1m-.7 .3h1m-1-1h1m-.9 1.4h1m-.9 .6h1m-.9-2h1m-.7 .7h1m-1 .4h1m-.4 1.4h1m-1-1.9h1m-.7 .9h1m-.9-1.3h1m-.9 1.1h1m-.4 1.2h1m.2-.8h1m-.7-.8h1m-.8 1.7h1m.1-1.4h1m-.8-1h1m-.7 0h1m-.8 .1h1m.1 .3h1m-.9 1.9h1m-.9-1.1h1m.8 .4h1m.8 .7h1m-29.6 1.6h1m-.1 1.2h1m-.6-1.8h1m-.9 .4h1m-.7-.7h1m-.9-.2h1m.4 2.4h1m-.9-2.2h1m-.9 1.5h1m-.9-.9h1m-.5 1.7h1m-.4-1.8h1m-1-.6h1m-1 2.7h1m-.6-1.8h1m-1 .6h1m-.8-.8h1m-.9-.8h1m-1 1.6h1m-1 .8h1m-.4 .2h1m-.6-.3h1m-.6 0h1m-.9-.4h1m-.7-2h1m-.9 1.5h1m-.3-1.5h1m-1 2.1h1m-1-1.7h1m-1 2h1m-.9-.6h1m-.9 .7h1m-.6 .1h1m-1-.7h1m-1-1.8h1m-.7 1.2h1m-.7-.3h1m-1 1.7h1m-.7-1.2h1m-1-.6h1m-.9-.4h1m-1 1.9h1m-.9 .4h1m-1-1.6h1m-.7-.2h1m-1 1.7h1m-.8 .1h1m-.8-.7h1m-1-1h1m-.9-1.1h1m-.9 1.9h1m-.6-1.7h1m-.8 2.3h1m-1-2.4h1m-.7 .1h1m-.8 1.3h1m-.9 1.2h1m-.8-2.5h1m-.9 .8h1m-1 1.2h1m-.7-1.6h1m-1-.6h1m-.9 .9h1m-1-.8h1m-.9 2.8h1m-1-1.4h1m-.9 1.4h1m-.8 0h1m-.8-.6h1m-.9-.9h1m-.9-1h1m-.8 .6h1m-.9 .3h1m-1-.9h1m-.9 1.1h1m-.9-1.5h1m-.9 1.9h1m-.9 .7h1m-.9 .1h1m-.8-.7h1m-.7-.4h1m-1-.7h1m-.9-.2h1m-1 1.5h1m-.9-.3h1m-.9 .8h1m-1-.6h1m-.9-.4h1m-.9 .6h1m-1-1.7h1m-.9 1h1m-.7 .6h1m-.9-.5h1m-.6-.6h1m-1-.1h1m-1 1.5h1m-.9 .1h1m-1-1.6h1m-1 1.4h1m-.9 .3h1m-1-1.3h1m-.7 1.3h1m-.9-.6h1m-.9-.1h1m-.9-1.9h1m-.8 2.7h1m-.8-.8h1m-.9-1.7h1m-.8 2.5h1m-.8-.4h1m-.9-1.3h1m-.8-.9h1m-.5 .2h1m-.9-.2h1m-.8 1.5h1m-.9 1h1m-.6 .1h1m-.8-1.5h1m-.8-.9h1m-.8 1.4h1m-.7-.4h1m-.5-.7h1m-1 1h1m-.8-1.5h1m-.9 1.3h1m-.8-1.3h1m-.7 2.5h1m-.7-2.7h1m-.6 .8h1m-1 2.1h1m-.9-.1h1m-1-.2h1m-.9 0h1m-.3-2.1h1m-.9 1.1h1m.6 1.2h1m-.1-1.8h1m.2-.9h1m1 1.1h1m-30.5 3.7h1m-.6-1.5h1m-.4 1h1m0 .5h1m-1-.2h1m-.3-.9h1m-.8 .2h1m-1 .2h1m-.9 .7h1m-.7-1.5h1m-.5 2h1m-.3-2.3h1m-1 1.9h1m-.3-.6h1m-.9-.4h1m-.8 1.8h1m-.8-2.1h1m-1-.3h1m-.7 0h1m-.8-.4h1m-.8 1.5h1m-1 .2h1m-.7-1.4h1m-1 1.2h1m-.9 1.1h1m-1-1h1m-.9 .7h1m-.8 .1h1m-.5-.9h1m-.6-1.4h1m-.9 .8h1m-1-.6h1m-.9 1.7h1m-.9 .4h1m-.9-1.3h1m-1-.9h1m-1 2.1h1m-.9-1h1m-1 .9h1m-.9 .4h1m-.9-1.6h1m-1 1.7h1m-.8-1h1m-1 1h1m-.9-.7h1m-.9-.4h1m-.7 1.2h1m-.9-.4h1m-1 .5h1m-.8-.5h1m-.9-.5h1m-.7-1.4h1m-1 1.7h1m-.8-1.6h1m-1 1.4h1m-.8-.4h1m-.9 .8h1m-.9 .3h1m-.9 0h1m-.8-2.2h1m-.8-.1h1m-.9 1.7h1m-1-1.9h1m-.9 2.5h1m-.9-.7h1m-1 .9h1m-.9-1.6h1m-1 .8h1m-1 .5h1m-1-2.2h1m-.8 2.5h1m-.8-.4h1m-.9-.7h1m-.9-.9h1m-.9 1.8h1m-1-.2h1m-.9-.9h1m-.9-.7h1m-.9 1.3h1m-1-.1h1m-.9-.5h1m-.9-.3h1m-1 1.5h1m-1-.9h1m-1 1h1m-.9-1.6h1m-.8 1h1m-.9-.7h1m-1-.5h1m-1 .2h1m-1 1.4h1m-.8-.3h1m-1-.5h1m-.9-1h1m-.8 .9h1m-1 .8h1m-.9 0h1m-1-.6h1m-.9 .1h1m-1-.1h1m-.9-1.2h1m-.9 1.3h1m-1-.1h1m-.9-1.6h1m-.9 .5h1m-.9 0h1m-1 2h1m-1-2.8h1m-.9 .3h1m-.9 .5h1m-.9 1.7h1m-1-.5h1m-1 .8h1m-.7-.9h1m-1-1.2h1m-.9 1.6h1m-.8-.6h1m-.9 1h1m-1-.1h1m-1-.3h1m-.9-1.3h1m-.8 1.6h1m-.6-.1h1m-1 .1h1m-.7-2.5h1m-.7 1.8h1m-.9-.2h1m-1-.8h1m-.9 1.4h1m-.9-2h1m-1 1.3h1m-.8-.8h1m-1 1.1h1m-1-.4h1m-.9-.4h1m-1 .8h1m-1-.2h1m-.9-.1h1m-.8 .4h1m-.9-1.7h1m-.9 1.5h1m-.8 .7h1m-.9-2.1h1m-.8 1.8h1m-.5-.6h1m-1 1.1h1m-.8-.9h1m-1-1.4h1m-.8 1.7h1m.1-1.8h1m-1 2h1m-.9-.8h1m-.9 1.2h1m-.9-2.1h1m-1 1.9h1m-.8-.8h1m-.7-1.6h1m-.4 1.2h1m-.7-.9h1m-.9-.3h1m-.7 .4h1m-.8 1.6h1m-.5-1.6h1m-.9 1.7h1m-.8-1.7h1m1.3 2h1m-.5-1.2h1m-.6 .5h1m-.3-1.6h1m-.3 1.3h1m3.3 .7h1m-32.9 1.5h1m-.9 1h1m-.5-.1h1m-.5-1.4h1m-.6 1.2h1m-.9-.2h1m-.6-.7h1m-.8 .9h1m-.9 1.2h1m-1-1.4h1m-.5 .1h1m-.6-.6h1m-.9-.8h1m-.9 2.8h1m-.8-.5h1m-.8 .2h1m-.9-.3h1m-.7-1.4h1m-1 1.9h1m-.9-2.2h1m-.8 1h1m-1-1.1h1m-1-.3h1m-.7 2.7h1m-1-1.1h1m-.8-1.2h1m-.8 .5h1m-.9 .9h1m-.9-.5h1m-.9 .6h1m-.8-1.1h1m-.8 1.3h1m-.4-1.6h1m-.9 .8h1m-1 .9h1m-.9 .1h1m-1-2.3h1m-.9 2.4h1m-.9-.4h1m-1 .1h1m-1 .1h1m-.9 .1h1m-.9-.6h1m-.6 .6h1m-.9-.4h1m-1 .4h1m-1-.9h1m-.8 1.1h1m-1-1.5h1m-.9-1.1h1m-.8 2h1m-.9-.1h1m-.9-.8h1m-1-.4h1m-.9-.3h1m-.9 1.6h1m-.9-1.9h1m-1 2.4h1m-.9-1.6h1m-1 .3h1m-1 .1h1m-1-.5h1m-.9 1.2h1m-.9-1h1m-.9 .4h1m-1 .8h1m-.9-.3h1m-1-.5h1m-1 1.3h1m-.9-.5h1m-1-.7h1m-.8 .3h1m-1-.3h1m-1-.1h1m-1 1.3h1m-.9 .1h1m-1-.5h1m-1-1.8h1m-.9 .6h1m-1 .7h1m-.9-.3h1m-1 .4h1m-1 .2h1m-.9-1h1m-.9 .5h1m-1-1.1h1m-.9 2h1m-.8-.2h1m-1-.9h1m-1 1.5h1m-.8-.9h1m-.9-1.5h1m-1 .6h1m-1-.9h1m-1 2h1m-.8-.1h1m-1-.5h1m-1 1.2h1m-1-.5h1m-.9-2.3h1m-.9 0h1m-1 1.8h1m-1 .6h1m-.9-1.8h1m-1 1.2h1m-1-.2h1m-1-.9h1m-1 2.2h1m-.9-2h1m-1 1.6h1m-.9-2.1h1m-.9 .8h1m-1 .5h1m-1 .9h1m-1-2.4h1m-1 1.3h1m-1-.5h1m-.9-.5h1m-.8 0h1m-.9 2.1h1m-1 .2h1m-.9-2.1h1m-1 1.6h1m-1 .6h1m-.9-2.3h1m-1 1.8h1m-.9 .2h1m-1-1.5h1m-1-.7h1m-1 2h1m-.9-.6h1m-.9 .2h1m-1 .8h1m-.9-2.2h1m-1 1.5h1m-1-.9h1m-.8-.2h1m-.9 .5h1m-1-.3h1m-1 1.5h1m-.9-.8h1m-.8 .4h1m-.8-2h1m-1 .1h1m-.9 2.2h1m-1-.1h1m-1-.2h1m-1-.1h1m-.9-1.2h1m-.9 1.9h1m-1-2h1m-1 1.1h1m-.9-2h1m-1 1.1h1m-1-.9h1m-.9 1.8h1m-.9 0h1m-.9-.8h1m-1 1.3h1m-.9-2.3h1m-.9-.2h1m-1 2.6h1m-1-.1h1m-1-1.5h1m-.9 1.8h1m-1-.1h1m-1-1.4h1m-.9-.3h1m-.8 1h1m-1 .2h1m-.8-1.7h1m-1 1.3h1m-1 .7h1m-.9 .4h1m-.9-1h1m-1 .2h1m-.9 .4h1m-1-.2h1m-.9 .2h1m-.9-1h1m-1-1.5h1m-.9 .8h1m-1-.6h1m-.9 .4h1m-.8 .9h1m-.9 1.2h1m-.9-.4h1m-1-.9h1m-.9 1.4h1m-1-.3h1m-.9-1.1h1m-.9-.9h1m-1 .4h1m-.8 .9h1m-.9-.3h1m-.8 .3h1m-.9 .3h1m-.9-.7h1m-.9 .1h1m-1-.6h1m-1-.5h1m-.8 .1h1m-1 .6h1m-.9-1h1m-.9 .7h1m-1 1.3h1m-1-1.7h1m-1 .3h1m-.9 .2h1m-1 .8h1m-.9-1.6h1m-.9 2h1m-.9-.4h1m-1 1.2h1m-.9-1.9h1m-1 1.8h1m-.7-1.8h1m-1 1.4h1m-.9-1.2h1m-.9 .2h1m-.7-1.3h1m-.9 2.3h1m-1-1h1m-1 .8h1m-.7-1h1m-.9-.4h1m-1 .8h1m-.7 .6h1m-1-1.3h1m-1 1.6h1m-.7-1.6h1m-.9 1.8h1m-1 .2h1m-.6-.3h1m-.8-.4h1m-1-.9h1m-1-.4h1m-.1 .2h1m-.7-.9h1m-.8 .6h1m-.9 .7h1m-.4-.2h1m-.9-.4h1m-.3 1.2h1m-.7 .2h1m-.3-.4h1m-1-1.3h1m-.6 1.2h1m-26.1 1.5h1m.4 1.4h1m.1-.7h1m-.4 .6h1m-1 .7h1m-.5 .3h1m-1-1h1m-.8 0h1m-.8-1h1m-.2-.1h1m-.9-.1h1m-1 2.5h1m-.8-.2h1m-.9-2.7h1m-.9 .2h1m-.7 2.1h1m-1 .4h1m-.9-1h1m-1-1h1m-1 1.7h1m-.9-.7h1m-1-.1h1m-1 .6h1m-.8 .5h1m-.9-2.6h1m-1 1h1m-1-.1h1m-.9-.3h1m-.8 2.2h1m-.9-2.6h1m-1 2h1m-.8-.8h1m-1-1.4h1m-.9 2.3h1m-.9-1.6h1m-.9 1.7h1m-.8-1.8h1m-.9-.4h1m-.8 .9h1m-.8-1h1m-.8 1.5h1m-1-1.5h1m-1 2.2h1m-1-1h1m-1-1.3h1m-.9 0h1m-.9 .3h1m-1 2h1m-1-.6h1m-.9 .6h1m-.9-1.6h1m-1 .2h1m-1-.1h1m-.9 .2h1m-1 .4h1m-.9 1h1m-.8-2.1h1m-.8 1.2h1m-1-1.2h1m-1 .8h1m-1 .5h1m-1-1.4h1m-.9 2h1m-1 .2h1m-.9-2.1h1m-.9 .1h1m-1-.1h1m-1 .6h1m-1 .4h1m-1-.3h1m-.9 .6h1m-.9-1.7h1m-1 2.2h1m-1 .4h1m-.9-1.7h1m-1 1.8h1m-.9-2.2h1m-1 .4h1m-1 1.1h1m-.9 .7h1m-1-2.4h1m-1 .5h1m-.9 1.2h1m-1 .5h1m-.8-2.4h1m-1 .3h1m-.9 .4h1m-1 .8h1m-.9-.8h1m-1-.2h1m-1 1.4h1m-.9-1.1h1m-.9-.1h1m-1-.3h1m-.9 .8h1m-1 .8h1m-1 .8h1m-1-1.9h1m-.8 1.6h1m-1 .3h1m-1-.2h1m-1-2.4h1m-.9 2.2h1m-.9-2.2h1m-.8 1.3h1m-1-.3h1m-.9-1.1h1m-.9 1.9h1m-1 .7h1m-1-.4h1m-.9-1.4h1m-.9 .2h1m-.9-1h1m-1-.2h1m-1 1.3h1m-1-.4h1m-.9 .7h1m-1-1h1m-1-.1h1m-.9 2.1h1m-.9-.7h1m-1 .5h1m-.9 .4h1m-1-.9h1m-1-1.8h1m-1 2.5h1m-.9-2h1m-.9 1.1h1m-1-1.4h1m-1 2.2h1m-1-1.5h1m-.8-.4h1m-.9 .2h1m-1-.5h1m-.9 2.1h1m-.9-1.8h1m-1 .3h1m-1 .8h1m-1-.5h1m-.9 1.1h1m-1-1.1h1m-1 1.3h1m-.9-1.5h1m-1 1.2h1m-1 .3h1m-.8-1.3h1m-1 1.7h1m-.9-.1h1m-1-2.8h1m-1 .5h1m-.9 .7h1m-1 .3h1m-1-.2h1m-.9-.4h1m-1 2h1m-1-.6h1m-1-.4h1m-1-1.4h1m-1 1.6h1m-.9-.4h1m-1-1.4h1m-1 1.2h1m-1-.1h1m-.9 1h1m-1-1.5h1m-.9-.1h1m-.9 .2h1m-1 1.8h1m-1-.2h1m-.9-.3h1m-1-.1h1m-.9-.1h1m-.9 0h1m-1 .2h1m-.9-1.6h1m-.9 0h1m-.9 .9h1m-1 .7h1m-.8-1.7h1m-1 1.2h1m-1 1h1m-1-1.9h1m-1 .8h1m-.9 1.1h1m-1-1.1h1m-.9-.6h1m-1-.4h1m-1 1h1m-.9 .6h1m-1-1h1m-1-.9h1m-.9 1.4h1m-1-.9h1m-.9-.9h1m-1 1.8h1m-1 1h1m-.9-.7h1m-.9 .3h1m-1 .2h1m-1-1.9h1m-1 .8h1m-1 .4h1m-1-.5h1m-.9 .7h1m-.9-.7h1m-1-1.4h1m-.9 .3h1m-1 1.3h1m-1 .3h1m-.9-1.6h1m-1 2h1m-.9-.1h1m-1 .5h1m-.9-2h1m-.9 1.8h1m-1-1.8h1m-.9 .1h1m-1 1.1h1m-.9-1.4h1m-1-.5h1m-.9 .8h1m-1 1.9h1m-.9 .1h1m-.9-2.3h1m-1 1.8h1m-.8-1.2h1m-1 .7h1m-1 .8h1m-.9-1.2h1m-1 1.5h1m-.8-1.2h1m-1 .8h1m-1-.2h1m-1 .4h1m-.9-2.1h1m-1 1.9h1m-.9-2.3h1m-.9 .5h1m-.9-.7h1m-.9 1.6h1m-1 .2h1m-1 1.1h1m-1-.2h1m-.8-1h1m-.9 .6h1m-.8-2h1m-.9 .6h1m-.9 0h1m-1 1.9h1m-.9-1.7h1m-.9-.9h1m-1 2.4h1m-1-.6h1m-.7-2h1m-1 .4h1m-.9 .8h1m-1 .4h1m-1-.9h1m-.8 1h1m-.8 .4h1m-1-1.1h1m-.9-.7h1m-1 .8h1m-1-.4h1m-.9-.2h1m-1 1.3h1m-.9-.6h1m-.8-.5h1m-.8 1.9h1m-.8-.3h1m-.8-2.3h1m-.8 .8h1m-.7 .9h1m-.9 .7h1m-.9-1.5h1m-.9 1.8h1m-.6 0h1m-.9 0h1m-.8-.3h1m-.9-2.4h1m-.8 2.3h1m-1-1.8h1m-.9 0h1m-.9 .1h1m-.9 1.3h1m-1-1.3h1m-.9 2.2h1m-.8-1.2h1m-.7 1h1m-.8-.6h1m-.9 .8h1m-.9-2.4h1m-.7 .1h1m-.8-.2h1m.4 .4h1m-.7 .6h1m-.8-.2h1m-.9-.9h1m.9 1.7h1m-.2-1.5h1m-28.9 4.8h1m-.1-2h1m0 1h1m-.4 1.1h1m-.8-1.6h1m-.8 2h1m-.9-.8h1m-1 .2h1m-.7-1.9h1m-.6 1.9h1m-.9-.5h1m-.9 .5h1m-.8-1.6h1m-.6 1.5h1m-1 .3h1m-.8 .1h1m-.7 .2h1m-.5-1.5h1m-.9-1.1h1m-1 2.1h1m-.9-1.3h1m-1 .9h1m-.9-.8h1m-.8-.2h1m-.9 1.7h1m-.9-2.1h1m-1 1.2h1m-.9-1.2h1m-1 .6h1m-1 1.5h1m-.8-.9h1m-1-1h1m-.7 .9h1m-.9-1.4h1m-1 2.7h1m-.9-.7h1m-.9 0h1m-1 .2h1m-.9-1.9h1m-1 .7h1m-.9 .7h1m-.9 .2h1m-.9-1.4h1m-1 2.1h1m-.9-1.7h1m-1 .8h1m-1 .6h1m-1-.4h1m-.9-.3h1m-1-1.1h1m-1 1.6h1m-1-1.7h1m-1 .5h1m-.9 0h1m-1 1.9h1m-.8-1.6h1m-.9-1h1m-1 2.1h1m-.9-2h1m-1 .4h1m-1 .3h1m-.9 .1h1m-1 .4h1m-.8 .6h1m-1-1.7h1m-1 1h1m-.9 .3h1m-.7 1.2h1m-1-.4h1m-.9-2.1h1m-1 1.5h1m-.9-.7h1m-.9-.4h1m-1 .6h1m-.8-1.3h1m-1 1.3h1m-.9 .2h1m-.9-.4h1m-1 1h1m-.9 .4h1m-.9-2.3h1m-.9 2.6h1m-.9-1.8h1m-1 .2h1m-.9 0h1m-1 .1h1m-.9 1.1h1m-.9-1.1h1m-.9 1.2h1m-1-.1h1m-1-.2h1m-.8 .6h1m-.9-2.7h1m-.9 2.3h1m-1-2.4h1m-.9 1.1h1m-1 .3h1m-.9-1.4h1m-1 1.7h1m-1 .8h1m-1-.6h1m-1 .4h1m-1-1.6h1m-1-.5h1m-.8 2.6h1m-1-.6h1m-.9-1.7h1m-1-.6h1m-.9 1.1h1m-1 .3h1m-1 .7h1m-.9-.4h1m-1 .3h1m-.9-2h1m-.9 .8h1m-1 .5h1m-1 .5h1m-.9-1h1m-1 .8h1m-.9-1.6h1m-1 .2h1m-.9 1.2h1m-.9-1.4h1m-1 1.8h1m-.9-.6h1m-1 .8h1m-1-1.2h1m-.9-.6h1m-1 2.5h1m-1-.5h1m-1-1.8h1m-.9 .8h1m-1 .2h1m-.9 1.1h1m-.9-1.2h1m-.9-.5h1m-1 .2h1m-1 1.5h1m-.9-2.2h1m-1 .3h1m-1 1.5h1m-1-1.9h1m-.9 1.4h1m-1-.7h1m-.9-.4h1m-1 .8h1m-1 1h1m-.8-2.2h1m-1-.1h1m-.9 1.7h1m-1-.9h1m-.6 1h1m-1-.8h1m-.9 .9h1m-.9-.7h1m-.9 1h1m-1-.4h1m-1 .7h1m-1-1.7h1m-.8 1.4h1m-1-1.4h1m-.9 .5h1m-1-.9h1m-.9 2.3h1m-.9-1.6h1m-1 1h1m-.8-.1h1m-.9-1.1h1m-.9 1.8h1m-1-2.3h1m-.9 .7h1m-1 1.7h1m-1-1.4h1m-.9 .3h1m-.8-1.7h1m-1 2.6h1m-1-1.7h1m-.8 .3h1m-.9 1h1m-.9-2.2h1m-1 1.1h1m-.9 1.2h1m-1-1.9h1m-.9 .9h1m-1-.3h1m-.9-.8h1m-1 1.5h1m-.9 1h1m-.8-1.6h1m-.6 .5h1m-.9-.4h1m-.5 1.1h1m-.7-.9h1m-1 .2h1m-.9-1.3h1m-1 .5h1m-1 .7h1m-.9 .1h1m-.9-.8h1m-.9 .7h1m-.9-.6h1m-.8-.8h1m-1 .8h1m-.9 1.6h1m-.9-.1h1m-.9-1h1m-.9 .8h1m-.9-1.4h1m-1 2.1h1m-.8-2.3h1m-.8-.3h1m-.5-.2h1m-.9 1.5h1m-.8 1.3h1m-.9-2.3h1m-.9-.2h1m-.9 1.5h1m-.8 .6h1m-.9-1.1h1m-.4-1.1h1m-.4 1.3h1m-.5-.6h1m-.4-.2h1m1.1 2.1h1m1.9-.2h1m-.5-.4h1m2.1-1.1h1m-32.8 3.4h1m-.8-.9h1m.3 1.1h1m0 .5h1m1.3 0h1m-1 .2h1m-.5-1.3h1m-.8-.1h1m-.9 .9h1m-.6-1.9h1m-.8 2.5h1m-1-.6h1m-.5-1.5h1m-1 .8h1m-.9-.6h1m-.8-.6h1m-1 .4h1m-1 1.3h1m-.9 .7h1m-.9-.6h1m-.8-.6h1m-.9 .8h1m-.8-1.5h1m-.9 .8h1m-.8 .4h1m-.9 1h1m-.9-.3h1m-.9-.3h1m-.9-1.3h1m-.7-.8h1m-1 1.3h1m-.9 .6h1m-1 .8h1m-.8-1.4h1m-.8-1.4h1m-.8 .8h1m-1-.2h1m-1 1.5h1m-.9-.4h1m-1-.5h1m-.8-.2h1m-1 .8h1m-.9-1.6h1m-.8 .1h1m-.7 .7h1m-.9-.1h1m-.8 .3h1m-.9-1h1m-.9 .3h1m-.8 1.3h1m-.9 1.1h1m-.9-1.6h1m-.6 .3h1m-.9-.9h1m-.9 1.1h1m-1-1.4h1m-1 1.3h1m-.7-1.4h1m-1 .7h1m-1 1h1m-.9 .4h1m-1-1.4h1m-.9 1.1h1m-1 .5h1m-.9-2h1m-1 .1h1m-.8 1.6h1m-1-1.9h1m-.9-.1h1m-.9-.1h1m-1-.2h1m-1 2.6h1m-1-2.2h1m-.7 1.9h1m-.8-1.9h1m-.9 .4h1m-.9 0h1m-.8 .5h1m-1-1.1h1m-.8-.2h1m-.9 1.6h1m-1-.5h1m-1 .7h1m-.9-1h1m-1 1.2h1m-.7-1.9h1m-1 1.8h1m-1-.3h1m-.8-.1h1m-1-.1h1m-.9 .9h1m-.9-1.2h1m-1 1.3h1m-.4-1.8h1m-1 .7h1m-.9-.4h1m-.9-.4h1m-.9 1.7h1m-1-1h1m-.8-.3h1m-.8 .9h1m-.9 .1h1m-.9-1.6h1m-.9 1.2h1m-.9 .2h1m-.8-1h1m-1 2.2h1m-1-1.5h1m-.9-.3h1m-.6-.8h1m-.8 .4h1m-1 .7h1m-1-1h1m-.9 2.3h1m-.7-2.7h1m-.9 1.7h1m-.2-1.5h1m-1 2.6h1m-1-1h1m-.7 .1h1m-.6-1.6h1m-.8 1.5h1m-.8 .1h1m-.8-1.4h1m-1 1.2h1m-.9-1.7h1m-.4 .2h1m-.7 1.3h1m-.8-.6h1m-.9 1.9h1m-.6-1.9h1m-.3 .3h1m-1 .1h1m-.7 .4h1m-.9 1.1h1m3.3-1.6h1m-.9 0h1m-24.8 2.2h1m1.1 2.3h1m-.8-2h1m.2 2h1m-.7-.6h1m-.7-1h1m-.9 1h1m-.3-1.6h1m-.7 2h1m-.8-2h1m-1-.5h1m-.9 .6h1m-.9 1.4h1m-.9-1.4h1m-.8 .5h1m0 .6h1m-.9-1.7h1m-1 1.3h1m-.9-.4h1m-.4 .4h1m-1-.9h1m-.7 .1h1m-.4 .7h1m-1 .2h1m-.8-.9h1m-1 1.3h1m-.8-.6h1m-.4-.9h1m-1 .2h1m-.9 .2h1m-.8 .4h1m-.9 .2h1m-1 1.3h1m-.8-1h1m-.8 .3h1m-.6 .3h1m-.2-1.6h1m-1-.1h1m-.9 .6h1m-.2-.3h1m-.5 .2h1m-1 1.9h1m-.4 0h1m-1-.5h1m-.9-.3h1m-.7-.6h1m-.9 .4h1m-.5-.6h1m-.8 .1h1m-.7 1.2h1m-.9-1.5h1m-.5-.8h1m.2 .7h1m-.8-.7h1m-.3-.3h1m-15.7 4.1h1m-.5-.6h1m.4 .1h1m.2-.5h1m3.9 1.5h1m0 0h1m-.2-.5h1m2.3 .7h1m-.5-1.1h1" stroke="#000" stroke-width="1.0" fill="none" filter="url(#bl)"/>
<path d="m269.4 203.7h1m-63.2 .6h1m8.9 .3h1m38.2 1.4h1m-30.8 12.2h1m-43.6 6.5h1m3.3-1.9h1m27.7 2.1h1m5.1-.8h1m6.3-1.3h1m14.2-.4h1m3 .9h1m-.8 .7h1m-70.4 3.7h1m56.3-1.9h1m-66 4.2h1m62.5 .3h1m.3-1.9h1m1.2 0h1m2.1 2.5h1m0-2.9h1m-.7 2.5h1m-.7-.8h1m-.8-.3h1m.5 .1h1m2.1 .3h1m1.7-.6h1m-83.1 3.3h1m52.7-1.2h1m3.3 .4h1m-.4 2.1h1m3.8-2h1m.9 2h1m1.5-.7h1m.2 .6h1m1.2-1.6h1m-.8-.3h1m.7 .2h1m-.5 1.7h1m1.5-1.3h1m.3-.7h1m2.4-.5h1m-26 4.9h1m.8 .5h1m-.4-1.8h1m-.5-.7h1m1.1 2.4h1m.4-.3h1m-.1 .7h1m-1-.6h1m-.7 .1h1m-.8-1.3h1m.3 1.8h1m-.6-1.4h1m-.4-.6h1m-.8 1.3h1m-.7-1.4h1m-.7 1.2h1m-.3-.6h1m1.2 .3h1m-.7 .8h1m-1 .1h1m-.3-.3h1m-.9 .3h1m3.3-1.8h1m-.4 2.1h1m-79.5 .1h1m.9 2.3h1m1.1 .2h1m41.5 0h1m3.7-2h1m1.6 1.1h1m-.2 0h1m-.9 1.3h1m-.2-1.7h1m.7 .7h1m-.9-.7h1m-.3 .4h1m-.6 .5h1m-.7 0h1m.1-.2h1m-.5 .1h1m-.3 .8h1m-.7-2.4h1m-.8 .6h1m-.9-.3h1m-1-.4h1m-.2 1.1h1m-.2 .6h1m-.7-1h1m-.3 1.9h1m-.7-1.6h1m-.3 1.1h1m-.8-1.3h1m-.8 .8h1m-.8 .7h1m-1-2.3h1m-.7 1.8h1m-.1 .8h1m-1-2.1h1m-.9 1.5h1m-.9 .3h1m-.7-.7h1m0-1.9h1m-.4 .7h1m-.9 1.2h1m-.8-1.4h1m-.1 .5h1m-.9-.9h1m-.7 1.2h1m-.9-.1h1m-.3-.1h1m-.7 .8h1m-.9-1.8h1m-.5 .3h1m-.7-.3h1m-.9 2.7h1m-.8-2.1h1m-.6-.1h1m-.6 1.3h1m4.3-1.1h1m-71.3 5h1m.3-1.1h1m1.1-1.3h1m2.5 .8h1m21.1 1.5h1m2.1-.6h1m2.3-1.1h1m2.8 .6h1m.7-.8h1m-.2-.6h1m-.9-.1h1m-.2 .9h1m-.5 1.8h1m-1-1.9h1m-.5-.2h1m.2 .5h1m-.7 .9h1m-.8 0h1m-.9 .2h1m-.8-.3h1m-.9 .7h1m-.4-.1h1m-.8-1.8h1m-.5 1.6h1m-.2-1.6h1m-.8 .6h1m-1-.5h1m-.5 1h1m-.2 .4h1m0-.1h1m-.3 .1h1m-.9-2h1m-.9 2.6h1m-.6-.4h1m-.9-1.5h1m-.5-.5h1m-.8 1.1h1m-.8-1.4h1m-.4 2h1m-.8-.2h1m-.8-1.7h1m-.6 1.5h1m-.7-1.1h1m-.7 .7h1m-1 .1h1m-.2 .1h1m-.6-.7h1m1.6 .1h1m-.8-.2h1m-.7 1.7h1m-.7 .4h1m-.9-.5h1m-.3-.5h1m-.8-1.2h1m-.9 .1h1m-.7-.3h1m-.7 .3h1m.3 .5h1m.2-.5h1m.3 .5h1m-66.4 2.9h1m4.5 1.7h1m1.2-1.3h1m1.1 1h1m4.6-.7h1m6.7 .8h1m3.1 0h1m.8-2.6h1m2.6 2.6h1m.7-1.8h1m.4 .5h1m-.5 .7h1m-.4 .7h1m-.6-1.8h1m-.9-.6h1m1 2.3h1m-.1-.9h1m-.4-1.8h1m.5 1.1h1m-.2 1.3h1m-.2 .3h1m-.8 .2h1m-.6-.7h1m-.8-.6h1m-.7 .8h1m-.6-1.4h1m-.7 1.1h1m-.8 .6h1m-.6 .2h1m-.7-.5h1m-.4-2.3h1m-.7 1.4h1m-1 .1h1m-.9-.7h1m-.8-.7h1m-.9 1.2h1m-.7-.9h1m-.8 .6h1m-.8-.3h1m-.9 1.6h1m-.9 .2h1m-1-.2h1m-.6-1.9h1m-.1-.3h1m-.6 1.1h1m-.8 .8h1m-.7-1.2h1m-.5 1.3h1m-.9-2.2h1m-.3 2.7h1m-.9 0h1m-1-2.1h1m-.8 .9h1m-.9-1.2h1m-.4 1.2h1m-.8 1.1h1m-1-2.3h1m-.8 .8h1m-.7 0h1m-.8-.8h1m-.5 .4h1m-.9 1.4h1m-.9-.8h1m-.7 1.2h1m0-1.1h1m-.5-.9h1m-.4-.1h1m-1 1.8h1m.1-1.5h1m-.9 1.2h1m-1 .7h1m-.6-2.2h1m-.8 .5h1m-.7 1.5h1m-.8-.4h1m-.8-.3h1m-.9-1.2h1m-.9 1.7h1m-.6-1.9h1m-.9-.2h1m-.7-.1h1m4.1 .6h1m1.2 1.9h1m-69.1 1.1h1m.1 1.4h1m4.1-.8h1m-.2 .4h1m-.6-.4h1m.6-.2h1m-.1 .2h1m3.4-1h1m-.4 1.1h1m-.3 1.2h1m7.3-.3h1m4.6 .2h1m.3-1.1h1m-.1 1.6h1m-.6-.2h1m.2-.5h1m-.8 .7h1m-.4-.1h1m-.9-.1h1m-.9-1.2h1m-.3-.7h1m2 .7h1m-.3 1.1h1m-.6-2.4h1m-.7 1.2h1m-.5-.5h1m-.9 .6h1m-.9 .7h1m-.9-2.2h1m-.7 1.5h1m-.5 .2h1m-.8 0h1m-.9 .9h1m-.9-.7h1m-.9-1.3h1m0 2.3h1m-.8-2.6h1m-.4 0h1m-.6 .7h1m-.9 1.8h1m-.9-1h1m-.8 .5h1m-.8-.6h1m-1-.7h1m-.8 1.6h1m-.6-1.6h1m-.8 .3h1m-1 .4h1m-.1-.5h1m-.8 .2h1m.1-1h1m-.9 .8h1m-.8 1h1m-.9 .6h1m-.9-2.7h1m-1 2.3h1m-.9-.9h1m-.8-.7h1m-.8 .8h1m-1 1.2h1m-.9-.5h1m-.8-.4h1m-.9-.2h1m-.7-.1h1m-.9-.6h1m-1 .9h1m-.6 .5h1m-.8-.3h1m-1-2h1m-.5 .9h1m-.2 1.5h1m-.9-2.1h1m-.9 2h1m-.9-1.6h1m-.8 1.5h1m-.9-.7h1m-1-.5h1m-.5 .6h1m-.6-1.4h1m-.7 2.6h1m-.9-1.9h1m-.8-.6h1m-.4 2.3h1m-.8-.7h1m-.5-1.7h1m-.8 2.3h1m-1-1.3h1m0 1h1m-.6 .1h1m-.6-2.2h1m-.7 1.6h1m-.5-.3h1m1-1.5h1m-.3 2.5h1m-.9-1h1m2.3-1.3h1m-70.6 3h1m-.5 2.5h1m1.8-1.1h1m3 .8h1m1-1.7h1m0 .3h1m.9 .2h1m.5-.2h1m.7 1h1m1.6-1.2h1m-.5-.6h1m.6 .3h1m.3 .1h1m1.7 .2h1m-.5 .1h1m4.3 .7h1m-.8 .4h1m-.7 .1h1m1.1 .7h1m-.5-.2h1m-.7-2.2h1m-.1 1.1h1m-.3 .1h1m-.8-.1h1m.5-.5h1m.4 1.9h1m-.2-1.4h1m.2-.1h1m-1-1.2h1m-.9 1.2h1m-.8 .8h1m-.8-1.1h1m-.9 .6h1m-.9 .9h1m-.4-2.4h1m-1 .2h1m-.3 1.7h1m-.9 0h1m-.8-2.1h1m-.6 2.3h1m-.6-.7h1m-.7-.9h1m-.6-.2h1m-.9-.2h1m-.4 .8h1m-.4 .9h1m-.7 .3h1m-.3-.7h1m-1 1.3h1m-1-.6h1m-.7-1.3h1m-.5-.6h1m-1-.4h1m-.6 .1h1m-.7 2.8h1m-.5-2h1m-1 1.1h1m-.4 .2h1m-.9-1h1m-.7 .9h1m-.8-1.6h1m-.9 .7h1m-.7 .2h1m-.7-1.2h1m-.9 1.2h1m-.9-1.3h1m-.3 1.2h1m-.8-.2h1m-.9 1.6h1m-.9 .2h1m-.3-1h1m-1-1.2h1m-1-.5h1m-.9 .3h1m-.9-.1h1m-.9-.1h1m-1 2.5h1m-.2-1.7h1m-.8 .5h1m-.9-1.5h1m-.7 1.2h1m-.8 1.2h1m-.9-1.9h1m-.8 1.4h1m-1-1.9h1m-.8 1.9h1m-.9 .3h1m-.8 .2h1m-.8-1.3h1m-.7-.7h1m-1 .8h1m-.7 .5h1m-.7-1.3h1m-.9 2.4h1m.1-1.9h1m-.8 1.7h1m-.9-2.1h1m-1 1.2h1m-.8-.1h1m-.8-1.3h1m-1-.3h1m-.8 2.8h1m-.4-1.4h1m-.7-1.5h1m-.6 2.5h1m-.8-.7h1m-.8-.4h1m-.3-.6h1m-.2-.5h1m-.8 .7h1m-.8 1.4h1m.1-2.4h1m-.9 .2h1m.1 1.6h1m2.1-.6h1m25 1h1m-91.3 2.9h1m-.5 .6h1m.6-2.6h1m-.4-.1h1m-.2 2.6h1m-.2-1.4h1m0-.4h1m-.5 .7h1m3.2-.4h1m2 1.5h1m.5-.7h1m-.7-.7h1m1-.8h1m-.5 1.1h1m-.1-.2h1m-.3-.1h1m.2 1.2h1m-.1-.6h1m0-1.7h1m-.6 .6h1m-.7-.6h1m2.6 .2h1m-.7 .3h1m.9 2.2h1m0-.8h1m-.8-1.8h1m-.5 1.4h1m-.3 .1h1m-.9-.4h1m.2 1.2h1m-.3 .3h1m-.9-2.1h1m-.9 1.9h1m-1-2.6h1m-.3 .3h1m0 .3h1m-.1 .6h1m-.9 .8h1m-.5-.5h1m.1-1.3h1m-.6 .2h1m-.9 .5h1m-1 .9h1m-.1-.1h1m-.8 0h1m-.4-.2h1m-.4 1.2h1m-.9-2.5h1m.1 2.5h1m-.7-.4h1m-.2 .4h1m-1-1.1h1m-.8-.8h1m-.1 1.8h1m-.9-2.3h1m-1 2.4h1m-.8 .2h1m-.8-2.5h1m-1 .5h1m-.7 0h1m-1 1.3h1m-.9-.9h1m-1 1.6h1m-.9-1.5h1m-.2-.4h1m-.9-.9h1m-.9-.1h1m-1 2.3h1m-.8-.9h1m-.9 .9h1m-.9-2h1m-.6 1h1m-.6-.4h1m-.3 1.1h1m-.5-.4h1m-1-.2h1m-.9 .5h1m-1-.8h1m-.8 .1h1m-.9-.2h1m-.9-.7h1m-.9 1.6h1m-.9-1.1h1m.1 .2h1m-.7 .1h1m-.4-.1h1m-.9 .2h1m-.9 1.2h1m-.7 .3h1m-.7-.6h1m-1-2.1h1m-.8 1.8h1m-.3 .4h1m-.9 .5h1m-.9-2.5h1m-.9 2.7h1m-.8-.1h1m-.8-2.6h1m-.8-.1h1m-.8 .4h1m-.4-.2h1m-.9-.3h1m-.5 .7h1m-.8 .4h1m-.5-.8h1m-.7 2.4h1m-.9-.6h1m-.3-1.5h1m-.5 1.3h1m-56.9 1.3h1m-.5 2h1m-.2-.5h1m-1-.5h1m1.3 .5h1m-.6 .6h1m-.8-.9h1m-.7 1.3h1m1.8-2.4h1m.5 1.4h1m2.1-1.6h1m.5 2.3h1m1.1-.1h1m-.9-1.1h1m-.4 1.1h1m2.9-1.9h1m-.2 .7h1m.4 1.7h1m0-2.2h1m-.6 1.7h1m-1 .3h1m-.2-.4h1m-1-1.8h1m-.4 1.1h1m1.1-.8h1m.6-.4h1m-1 2.5h1m-.6-2.7h1m-.9 1.9h1m-.8-1.6h1m-.9-.2h1m-.8 .5h1m-.7 1.9h1m-.9-1.9h1m-.7-.2h1m-.8 2.2h1m-.9-.1h1m-.9-.1h1m-.4-2.1h1m-.3 .8h1m-.1 1.3h1m-.9-2.5h1m-.3 1h1m-.9 1.6h1m-.8-2.3h1m-.6 1.5h1m-.5-.3h1m-.8 .3h1m0 .7h1m-.5 .3h1m-.7-2h1m-.8 .7h1m-.8 .1h1m-.5-.6h1m-.9 1.8h1m-1-2.8h1m-1 .5h1m-.9 2.1h1m-.8-2.5h1m-.8 .6h1m-.9 1.3h1m-.9 .9h1m-1-.2h1m-.4-2.1h1m-1-.5h1m-1 1.6h1m-1-.5h1m-.3 .9h1m-.9-1.3h1m-.7 .2h1m-.1 .5h1m-.9 1h1m-.8-1.5h1m-1-1h1m-1 1.7h1m-1 .7h1m-1-2h1m-.8 .7h1m-.6-.7h1m-.7 1.5h1m-.7 .6h1m-1-1.8h1m-.8 1.1h1m-.9-1.1h1m-.7 1.5h1m-.7-.9h1m-.9-.4h1m-.7 1.6h1m-.4-1.4h1m-1 1h1m-.9-.5h1m-1 .7h1m-.9-2.1h1m-.9 2.3h1m-.7-1.2h1m-1 1h1m-.9-.2h1m-.9 .2h1m-.8-1h1m-.5 .5h1m-1-.6h1m-.5 .3h1m-.5-.1h1m-1-.8h1m-.8-.3h1m-.7 .7h1m-.9 0h1m-.9 1.3h1m-.8-1h1m-.8 .4h1m-1-.8h1m-.8-.6h1m-1 1.6h1m0-1.5h1m-.7 2.3h1m-.2-1.8h1m1.4-.1h1m-.8 .4h1m-.2-1h1m.4 1.2h1m-.2-.2h1m-.6-.3h1m-.6 1.2h1m.1-1h1m-63.3 3.9h1m4-1.2h1m-.8 1.5h1m-.6-1.8h1m0 2h1m-.5-2.2h1m-.3 .6h1m-.7 1h1m-.6-1.6h1m-.5 1.4h1m-.6-.9h1m.1-.4h1m.6 1.5h1m-.8-1.2h1m-.8 1.5h1m1.1-.9h1m-.9 .2h1m-.8 .7h1m0-2.1h1m-.9 1.1h1m-.9-.7h1m1 1.2h1m0 .5h1m.6-.2h1m.4 .4h1m-.9-1.9h1m-.9 2.2h1m2.1 .2h1m-.1 0h1m0-1.5h1m.1 .8h1m.1-2h1m-.7 2.5h1m-.4-2.2h1m-.9 .4h1m-.4-.8h1m-.6 .8h1m.1 .7h1m-.9 .5h1m-.2-.3h1m-.2 .9h1m-.6-.4h1m-.9 .1h1m-.7-.8h1m-.7 .6h1m-.7-2.1h1m-.4-.1h1m-.8 1.1h1m-.3 1h1m-.6 .7h1m-.9-1.7h1m-.9 1.3h1m-.6-1h1m-.7 .9h1m-.7-1.1h1m-.6-1.1h1m-1 2.1h1m-.1-.9h1m-.9 1.1h1m-.8-.6h1m-.9 .7h1m-.9-1.6h1m-.9 1.9h1m-.7-2.5h1m-1 2.6h1m-.9-.1h1m-.9-1h1m-.6 0h1m-.9-.3h1m-.7-1.2h1m-1 .5h1m-.3-.2h1m-.1 .9h1m-.9 1.3h1m-.9-1.1h1m0 1.1h1m-.7-2.8h1m-.6 2.4h1m-.5 0h1m-.9-1.9h1m-1 1.2h1m-.5 .6h1m-.8-1.2h1m-.8 .6h1m-1-.5h1m-.9-.6h1m-.8 1.2h1m-.7 .5h1m-.9-1.6h1m-.7 .2h1m-.7 1.7h1m-.5 0h1m-.6 .2h1m-.9-.8h1m-.8 .5h1m-.4-2.5h1m-.5 2.7h1m-1-2.3h1m-.5 .8h1m-.4 1.2h1m-1 .3h1m-.2-.3h1m-.8-1.9h1m-.7 1.8h1m-.6-2.1h1m-.8 1.7h1m-.5-.5h1m.2-1.1h1m-.3 0h1m1 .8h1m-.2-.6h1m-.5 1.6h1m.1-1.4h1m2.9 1.2h1m-58.9 1.6h1m-.4 .6h1m.6 1.7h1m-.4-1.2h1m-.7-.5h1m1-1.1h1m1.6 2.4h1m-.9-1h1m-.6-.2h1m-.6-.8h1m-1 .5h1m-.7-.8h1m-.9 .2h1m-.3 1h1m.9-.6h1m-.9 .5h1m.1 .8h1m.9 .3h1m-.8 .5h1m.7-1.2h1m1.6-.5h1m.5 .1h1m-.5-1.1h1m-.9-.1h1m-.9 1.9h1m-.8-1.5h1m.1 0h1m-.5 2.2h1m-.1-2.5h1m-.2 .2h1m-.8 .9h1m-.9-1.1h1m-.3 .5h1m-.9 .2h1m-.7 1h1m-.4 .3h1m-1-.1h1m-.8 .3h1m-.9 .5h1m-.7-2h1m-.8 1h1m-.9-1h1m-.4 .5h1m-.5 1.3h1m-.7-1.4h1m-.8-.1h1m-.6 .4h1m-1-.9h1m-.9 1.2h1m-.9 .1h1m-.5-.3h1m-.2-1.6h1m-.6 2h1m-1-1.8h1m-.9 2.6h1m-1-2.8h1m-1 2h1m0-.9h1m-1 .2h1m-1-.9h1m-.8-.2h1m-.9 2.5h1m-.7-2.2h1m-.6-.3h1m-.6 1.8h1m-.7 .1h1m-.4-2h1m-1 2.8h1m-.1-1.1h1m.3-1.5h1m-.5 .5h1m-.7 0h1m-.8 .7h1m-.7-.4h1m-.7 1h1m-.7-.4h1m-1-.8h1m-.9 1.8h1m-.9-.1h1m-.9-.6h1m-.1-2h1m-.5 1.1h1m-.6-.7h1m-.1 2h1m-.8 .5h1m-.2-2.3h1m.9 2.2h1m-.2-1.9h1m-1 .8h1m-.6-.7h1m-.9-.8h1m-.6 .4h1m-.9-.3h1m.5 1.4h1m-.7-.1h1m.7 .3h1m-54.4 1.2h1m.8 .1h1m-.4-.1h1m-.3 2.4h1m1.7-1.6h1m-.8 1.8h1m-.9-.6h1m-1-1.2h1m-.8 2h1m1.2-2.3h1m-.5 1.2h1m-1 .7h1m-.9-1.8h1m.1 2h1m-.2-1.1h1m-1-1.2h1m-.8 .4h1m0 2.1h1m-.5-1.2h1m.4-1.4h1m-.9 2h1m-.5-1.9h1m-1 2.4h1m-.8-.1h1m.5-1h1m-.8 1h1m-.2-1.2h1m.1 .6h1m-.8 0h1m-.5-1.5h1m-.3 1.5h1m.1-.2h1m0 .1h1m-.9-.7h1m-1-1.1h1m-.4 2.6h1m-.8-1.5h1m-.7 .2h1m-.4-1h1m-.2-.5h1m.2 2.5h1m-.9-2.5h1m-.9 .6h1m.1 1.8h1m-.4 .4h1m-.6-.5h1m-.9-2h1m-.6 0h1m.4 1.4h1m1.3-.4h1m.2 1.6h1m-.6-2h1m-.9-.4h1m-.4 .2h1m-.8 1.6h1m-.7-2.1h1m-.4 2.4h1m-1-1.5h1m-1 1.2h1m-.7-.5h1m.3-.7h1m-.8-.8h1m-.6 1.2h1m-.9-.8h1m.4-.5h1m-.8 1.8h1m-.9 .2h1m-.7 .7h1m-.9-.3h1m-.4 .3h1m-.9-1.5h1m-.9-1.3h1m-.1 1.1h1m-.9 1.4h1m-.5-2.4h1m.2 1.3h1m-.9-.7h1m-.6 .7h1m-1-.6h1m-.4 .7h1m-.8-.1h1m-.9 .7h1m-.4 0h1m1.7-1.7h1m2.7-.5h1m26.1 1.4h1m-83.9 3h1m1.3-.9h1m.8-.2h1m0 .6h1m-.9 1.6h1m-.9-.6h1m.5-1.2h1m.5 1.9h1m-.6-1.5h1m-.7-.1h1m.2-.9h1m-.8 2.1h1m-.2-.3h1m-.9-1.9h1m-.7 2.3h1m-1-1.5h1m-.7 1.4h1m-.6 .1h1m.8-.1h1m-.4-2h1m-.6 .9h1m-.3 .2h1m-.9 .8h1m-1-1.1h1m.1 1.2h1m-.6 .1h1m-.8 .1h1m-.7-1.3h1m-.8 1.2h1m-.1 .5h1m-.1-1.8h1m-.3 1h1m1 .6h1m0-.1h1m-.3-.1h1m-.6-1.6h1m.2-.7h1m.1 0h1m.5-.1h1m.1 .7h1m-.6 0h1m-.4-.5h1m-.9 .5h1m-.9 .7h1m-.9-.1h1m-.8-1h1m-.6 1.9h1m-.6-1.3h1m-.7 1.3h1m-.7-1.8h1m-.9 .9h1m-.9 1h1m-.8-1h1m-.7 .6h1m-.2 .8h1m-.9-.7h1m-.9-2h1m-.1 2.6h1m-.8-2.6h1m-1 2h1m-.6 .1h1m-.5-.7h1m.1-1h1m-.8 1.5h1m-.2 .9h1m-.9-1.4h1m-.7-.8h1m-.7 1h1m-.9-1h1m-.9 .2h1m-.9-.5h1m-.2 1.6h1m.4-.8h1m1.8 .6h1m-.8-.8h1m-1 2h1m-.9-.7h1m-1 .2h1m-.4-1.4h1m.2-.3h1m-.8 .3h1m.5-.8h1m.8 1.9h1m3.1-1.3h1m-.5 .4h1m-56.4 3.8h1m4.6-1.8h1m0 .1h1m-1 2.2h1m.9-2.2h1m.7 1h1m-.7-.9h1m-.4 .9h1m-.8 .7h1m.5-1.2h1m-.8-.4h1m-.3 .4h1m-1 1.5h1m-.4 .3h1m-.7-1.4h1m.7-.6h1m-1 .9h1m-.3 1.2h1m-.6-.4h1m.1-1.5h1m-.6 1.4h1m-.7-.6h1m-.2-1.1h1m-.2 .9h1m-.2-.9h1m-.6-.2h1m-.9 1.8h1m-.6-.3h1m-.5 .9h1m.1-2.6h1m-.9 1.2h1m-.8-.3h1m-.4 .3h1m.2 .1h1m.8 .9h1m-.6-1.4h1m-.9-.4h1m-.1-.1h1m-.9 2.4h1m.4-.3h1m-.7-.2h1m.1-.3h1m-.5 .8h1m-.6-1.1h1m-.9 .3h1m-.7-1.5h1m-.5 2h1m-.9-1.5h1m-.8-.1h1m-.9-.3h1m-.9 2.1h1m-.2-1.7h1m-.9-.3h1m-.8 1.6h1m-.8-.3h1m-.8 .7h1m-.3-1.5h1m-.9-.5h1m.1 .2h1m-.4 1.4h1m0 0h1m-.7-1.6h1m.2 1.8h1m-.3-1.4h1m-.3 0h1m-.7 1.2h1m-.8 .2h1m-.3-.2h1m.1-2.2h1m-.3 2.2h1m.2-2h1m-.4 1.5h1m1.4 .8h1m-.8-2.5h1m8.6 2.3h1m.1-2.2h1m30.9 1.2h1m3.8-1.4h1m-98.2 4.4h1m-.2-.5h1m1.3 2h1m2-2.2h1m-.2-.2h1m.4-.3h1m-.7 2.2h1m-.7 .2h1m.6-.1h1m-.7-1.7h1m-.6 1.2h1m-.8-1.6h1m-.7 .3h1m1.1 2h1m-.6-.5h1m.1-.6h1m-.9 0h1m-.6-1.2h1m-.2-.1h1m0 2.5h1m-.3-2.1h1m.3 1.1h1m-.6-1.1h1m-1-.6h1m.1 1.5h1m-.6 .2h1m-.1 .6h1m-1-1.6h1m-.5 .8h1m-.1-.2h1m-.9 .2h1m-.5-.5h1m-.3 1.1h1m-.7-1.2h1m-.7 .1h1m1.5-.2h1m-.1-.5h1m-.9 2.3h1m.8-.4h1m-.3-1.1h1m-1-.6h1m1.8 .5h1m-.8 0h1m-.9-1h1m-.1-.1h1m-.4 2.9h1m-.1-2.2h1m-1-.3h1m-.7-.1h1m-1 .2h1m.2-.1h1m.5 1.1h1m0-.8h1m-.1 1.7h1m-.1-.2h1m-.7-.5h1m-.7-1.6h1m0 1.7h1m-.1-.3h1m-.6-1.4h1m-.2 2.2h1m-1-.4h1m1.4-1.5h1m2 1.5h1m3.5-1.7h1m-57 3.2h1m-.2 .9h1m-.9 1.5h1m.8-2.8h1m2.6 1.6h1m.7-1.5h1m-1 .8h1m-.3 1.3h1m-.8 0h1m-1-.9h1m-.1-.5h1m-.1 1.1h1m.2-1.7h1m-.8 1.7h1m-.9 .1h1m-.2-.7h1m-1 1.5h1m-.6-.5h1m-.4 .3h1m-.9 0h1m.6-.8h1m-.8 .6h1m.2-2.2h1m-.2 .6h1m-.3 0h1m.2-.2h1m-.9 1.3h1m.9 .1h1m-.5-1h1m-.8-.1h1m-.7 1.9h1m-.6-1.3h1m-.6 .3h1m2.5 .9h1m-.8-2h1m.5 1h1m-.7-1.7h1m.8 2.2h1m-.9-2h1m-.8 .6h1m.2 1.8h1m-.7-2.4h1m-.3 .6h1m-.7 .1h1m-.2 1h1m-.9-1.3h1m-.6-.4h1m.7 1.9h1m0-.2h1m1.6 .1h1m-.1-.1h1m-.8-1h1m0 .9h1m-.4-1.1h1m.6 1.4h1m0-1.8h1m-.3 2.6h1m-1-.7h1m-.9-.8h1m1.2-.7h1m3.4 2.2h1m1.9-1.7h1m-54 2.9h1m-1-.2h1m2.1-.2h1m-.5 1.3h1m-.2-.2h1m.3-1.7h1m-.7 2.2h1m-.1-1.2h1m.8 1.3h1m-1-.6h1m-.4-.7h1m-1 .5h1m-.5-.3h1m-.2 1.1h1m0 .2h1m-.3-2.2h1m-.8-.3h1m-.4 1.2h1m.4 1.4h1m-.5-2h1m.7 2h1m-.8-2.3h1m1.4 .1h1m-.9-.4h1m-.3 2h1m-.3-1.3h1m-.2 2.1h1m-.9-.5h1m-.9 .5h1m-.7-.5h1m-.7-2.1h1m-.8 1.3h1m2.2-1.2h1m-.5 .5h1m-1 .8h1m.3-1.6h1m-.9-.1h1m-.9 1.2h1m.3-.8h1m-.4 1h1m-.3-.4h1m-.6 1.2h1m-.4 .5h1m-.8-2h1m-.9 1.4h1m-.7-1.6h1m.4 1.2h1m-.6 .8h1m.1-1.7h1m.4 .6h1m-.9-.5h1m.1 .2h1m-.4 .6h1m-.9 1h1m.5-2.7h1m.4 .7h1m3.9 .5h1m1.4 1.2h1m-.9 .2h1m3.8-1h1m2-.1h1m25.7-1.1h1m-84.8 4.4h1m-.1-1.4h1m1.1-.4h1m2.8 2.4h1m1-.7h1m-.5 .8h1m.2-1.3h1m.1 1h1m-.3-2.1h1m.9 2.2h1m-.7-2.3h1m.5 .1h1m-1 1.4h1m-.5 .1h1m1.3 .3h1m-1-1.2h1m-.9-.1h1m-.9 .1h1m-.8 1.5h1m-.9-.5h1m-.4 .7h1m0-1h1m.1 .3h1m.1-.5h1m-.8-.1h1m-.9-1.1h1m-.9 .4h1m-.7 .3h1m-.8 0h1m-.9 .8h1m1.8-.6h1m-.6 .6h1m-.9-1.4h1m-.9 2.2h1m.6-2h1m-1 .7h1m.4-.5h1m-.9 1.6h1m-.5-1.2h1m-.3 1.3h1m-.8-2.1h1m-.8 1.2h1m-.5 .7h1m-.8-1.5h1m.4 .3h1m.2-.1h1m.7 1.7h1m2.6-1.2h1m.2-1h1m3.2 .9h1m.2 .9h1m-.3-.3h1m-.6 .6h1m1.4-.7h1m-.7 0h1m.7 .2h1m2.2 .5h1m-59.9 1.3h1m2.2-.1h1m2.9 1.2h1m-.8 1.2h1m.4-1.9h1m-.1 1h1m.4-.9h1m-.6 0h1m-.9 1.8h1m.1-2.3h1m-.9-.4h1m.1 .7h1m-.7-.8h1m1.5 0h1m-.1 .3h1m1.1 2.3h1m.1 .2h1m2.4-2.1h1m-.2 .1h1m.9 1.3h1m-.1-1.4h1m-.2 .7h1m1.1-.4h1m-.8 .5h1m-.4 1.1h1m-.8-.1h1m-.5-2.5h1m-.6 2.5h1m.5-1.9h1m-.5 2.1h1m.4-2.7h1m-1 1.3h1m-.8-1.4h1m1.1 .3h1m-.4 1.2h1m3.7-.4h1m-.8 1.8h1m-.4-2.1h1m-.8 1.6h1m-.4-1.3h1m-1 1.2h1m.9-2.2h1m1.3 1h1m2.2 .5h1m.6-.2h1m-.2-.4h1m-54.9 2h1m.4 2.5h1m6.6-2.5h1m5.2 1.9h1m-.6 1h1m.9-2.5h1m-.2 .8h1m3.5-.9h1m1.8 2.2h1m1.6-2.3h1m1.6-.2h1m-.1 .8h1m-.1 1.7h1m.5-.7h1m-.8-.8h1m-.3-.2h1m-.8 .1h1m11.3 1.6h1m.1-2.2h1m.5 1.9h1m4.2 .3h1m1.8-2h1m6.8 .8h1m-63.1 1.8h1m-.7 0h1m-.5 1.1h1m2.2-1.2h1m3.2 .8h1m.7 2.1h1m3.4-.7h1m-.6-1.6h1m3.8 .1h1m.7-.5h1m4.5 1.6h1m4.1-.6h1m.7-1h1m-.4 2h1m6.5-.2h1m11.3-1.9h1m-49.3 3.8h1m-.7 .6h1m4.3-1.3h1m-.3 .7h1m.3 1h1m-.6-1.8h1m1.1 .3h1m-.3 1.6h1m1.5 .6h1m2.9-1h1m5.7-1.6h1m6 .4h1m-.4 2.4h1m1-1.5h1m-43.3 3.4h1m9.2 .1h1m2.9 .4h1m10.3-1h1m3.6 1.2h1m55.5-2.2h1m-63.9 3.4h1" stroke="#2a2a2a" stroke-width="0.9" fill="none" filter="url(#bl)"/>
<rect x="166.1" y="192" width="120.1" height="111" fill="none" stroke="#3a3a3a" stroke-width="1.15"/>
<line x1="193.00" y1="192.00" x2="193.00" y2="303.00" stroke="#050505" stroke-width="1.3" stroke-linecap="butt"/>
<line x1="157.60" y1="277.20" x2="286.20" y2="277.20" stroke="#050505" stroke-width="1.3" stroke-linecap="butt"/>
<line x1="175.14" y1="303.00" x2="175.14" y2="305.70" stroke="#444" stroke-width="0.65" stroke-linecap="butt"/>
<line x1="180.43" y1="303.00" x2="180.43" y2="305.70" stroke="#444" stroke-width="0.65" stroke-linecap="butt"/>
<line x1="184.18" y1="303.00" x2="184.18" y2="305.70" stroke="#444" stroke-width="0.65" stroke-linecap="butt"/>
<line x1="187.09" y1="303.00" x2="187.09" y2="305.70" stroke="#444" stroke-width="0.65" stroke-linecap="butt"/>
<line x1="189.46" y1="303.00" x2="189.46" y2="305.70" stroke="#444" stroke-width="0.65" stroke-linecap="butt"/>
<line x1="191.47" y1="303.00" x2="191.47" y2="305.70" stroke="#444" stroke-width="0.65" stroke-linecap="butt"/>
<line x1="193.22" y1="303.00" x2="193.22" y2="305.70" stroke="#444" stroke-width="0.65" stroke-linecap="butt"/>
<line x1="194.75" y1="303.00" x2="194.75" y2="305.70" stroke="#444" stroke-width="0.65" stroke-linecap="butt"/>
<line x1="196.12" y1="303.00" x2="196.12" y2="311.50" stroke="#222" stroke-width="1.0" stroke-linecap="butt"/>
<line x1="205.16" y1="303.00" x2="205.16" y2="305.70" stroke="#444" stroke-width="0.65" stroke-linecap="butt"/>
<line x1="210.45" y1="303.00" x2="210.45" y2="305.70" stroke="#444" stroke-width="0.65" stroke-linecap="butt"/>
<line x1="214.20" y1="303.00" x2="214.20" y2="305.70" stroke="#444" stroke-width="0.65" stroke-linecap="butt"/>
<line x1="217.11" y1="303.00" x2="217.11" y2="305.70" stroke="#444" stroke-width="0.65" stroke-linecap="butt"/>
<line x1="219.49" y1="303.00" x2="219.49" y2="305.70" stroke="#444" stroke-width="0.65" stroke-linecap="butt"/>
<line x1="221.50" y1="303.00" x2="221.50" y2="305.70" stroke="#444" stroke-width="0.65" stroke-linecap="butt"/>
<line x1="223.24" y1="303.00" x2="223.24" y2="305.70" stroke="#444" stroke-width="0.65" stroke-linecap="butt"/>
<line x1="224.78" y1="303.00" x2="224.78" y2="305.70" stroke="#444" stroke-width="0.65" stroke-linecap="butt"/>
<line x1="226.15" y1="303.00" x2="226.15" y2="311.50" stroke="#222" stroke-width="1.0" stroke-linecap="butt"/>
<line x1="235.19" y1="303.00" x2="235.19" y2="305.70" stroke="#444" stroke-width="0.65" stroke-linecap="butt"/>
<line x1="240.48" y1="303.00" x2="240.48" y2="305.70" stroke="#444" stroke-width="0.65" stroke-linecap="butt"/>
<line x1="244.23" y1="303.00" x2="244.23" y2="305.70" stroke="#444" stroke-width="0.65" stroke-linecap="butt"/>
<line x1="247.14" y1="303.00" x2="247.14" y2="305.70" stroke="#444" stroke-width="0.65" stroke-linecap="butt"/>
<line x1="249.51" y1="303.00" x2="249.51" y2="305.70" stroke="#444" stroke-width="0.65" stroke-linecap="butt"/>
<line x1="251.52" y1="303.00" x2="251.52" y2="305.70" stroke="#444" stroke-width="0.65" stroke-linecap="butt"/>
<line x1="253.27" y1="303.00" x2="253.27" y2="305.70" stroke="#444" stroke-width="0.65" stroke-linecap="butt"/>
<line x1="254.80" y1="303.00" x2="254.80" y2="305.70" stroke="#444" stroke-width="0.65" stroke-linecap="butt"/>
<line x1="256.17" y1="303.00" x2="256.17" y2="311.50" stroke="#222" stroke-width="1.0" stroke-linecap="butt"/>
<line x1="265.21" y1="303.00" x2="265.21" y2="305.70" stroke="#444" stroke-width="0.65" stroke-linecap="butt"/>
<line x1="270.50" y1="303.00" x2="270.50" y2="305.70" stroke="#444" stroke-width="0.65" stroke-linecap="butt"/>
<line x1="274.25" y1="303.00" x2="274.25" y2="305.70" stroke="#444" stroke-width="0.65" stroke-linecap="butt"/>
<line x1="277.16" y1="303.00" x2="277.16" y2="305.70" stroke="#444" stroke-width="0.65" stroke-linecap="butt"/>
<line x1="279.54" y1="303.00" x2="279.54" y2="305.70" stroke="#444" stroke-width="0.65" stroke-linecap="butt"/>
<line x1="281.55" y1="303.00" x2="281.55" y2="305.70" stroke="#444" stroke-width="0.65" stroke-linecap="butt"/>
<line x1="283.29" y1="303.00" x2="283.29" y2="305.70" stroke="#444" stroke-width="0.65" stroke-linecap="butt"/>
<line x1="284.83" y1="303.00" x2="284.83" y2="305.70" stroke="#444" stroke-width="0.65" stroke-linecap="butt"/>
<line x1="286.20" y1="303.00" x2="286.20" y2="311.50" stroke="#222" stroke-width="1.0" stroke-linecap="butt"/>
<line x1="163.40" y1="294.65" x2="166.10" y2="294.65" stroke="#444" stroke-width="0.6" stroke-linecap="butt"/>
<line x1="163.40" y1="289.76" x2="166.10" y2="289.76" stroke="#444" stroke-width="0.6" stroke-linecap="butt"/>
<line x1="163.40" y1="286.29" x2="166.10" y2="286.29" stroke="#444" stroke-width="0.6" stroke-linecap="butt"/>
<line x1="163.40" y1="283.60" x2="166.10" y2="283.60" stroke="#444" stroke-width="0.6" stroke-linecap="butt"/>
<line x1="163.40" y1="281.41" x2="166.10" y2="281.41" stroke="#444" stroke-width="0.6" stroke-linecap="butt"/>
<line x1="163.40" y1="279.55" x2="166.10" y2="279.55" stroke="#444" stroke-width="0.6" stroke-linecap="butt"/>
<line x1="163.40" y1="277.94" x2="166.10" y2="277.94" stroke="#444" stroke-width="0.6" stroke-linecap="butt"/>
<line x1="163.40" y1="276.52" x2="166.10" y2="276.52" stroke="#444" stroke-width="0.6" stroke-linecap="butt"/>
<line x1="157.60" y1="275.25" x2="166.10" y2="275.25" stroke="#222" stroke-width="1.0" stroke-linecap="butt"/>
<line x1="163.40" y1="266.90" x2="166.10" y2="266.90" stroke="#444" stroke-width="0.6" stroke-linecap="butt"/>
<line x1="163.40" y1="262.01" x2="166.10" y2="262.01" stroke="#444" stroke-width="0.6" stroke-linecap="butt"/>
<line x1="163.40" y1="258.54" x2="166.10" y2="258.54" stroke="#444" stroke-width="0.6" stroke-linecap="butt"/>
<line x1="163.40" y1="255.85" x2="166.10" y2="255.85" stroke="#444" stroke-width="0.6" stroke-linecap="butt"/>
<line x1="163.40" y1="253.66" x2="166.10" y2="253.66" stroke="#444" stroke-width="0.6" stroke-linecap="butt"/>
<line x1="163.40" y1="251.80" x2="166.10" y2="251.80" stroke="#444" stroke-width="0.6" stroke-linecap="butt"/>
<line x1="163.40" y1="250.19" x2="166.10" y2="250.19" stroke="#444" stroke-width="0.6" stroke-linecap="butt"/>
<line x1="163.40" y1="248.77" x2="166.10" y2="248.77" stroke="#444" stroke-width="0.6" stroke-linecap="butt"/>
<line x1="157.60" y1="247.50" x2="166.10" y2="247.50" stroke="#222" stroke-width="1.0" stroke-linecap="butt"/>
<line x1="163.40" y1="239.15" x2="166.10" y2="239.15" stroke="#444" stroke-width="0.6" stroke-linecap="butt"/>
<line x1="163.40" y1="234.26" x2="166.10" y2="234.26" stroke="#444" stroke-width="0.6" stroke-linecap="butt"/>
<line x1="163.40" y1="230.79" x2="166.10" y2="230.79" stroke="#444" stroke-width="0.6" stroke-linecap="butt"/>
<line x1="163.40" y1="228.10" x2="166.10" y2="228.10" stroke="#444" stroke-width="0.6" stroke-linecap="butt"/>
<line x1="163.40" y1="225.91" x2="166.10" y2="225.91" stroke="#444" stroke-width="0.6" stroke-linecap="butt"/>
<line x1="163.40" y1="224.05" x2="166.10" y2="224.05" stroke="#444" stroke-width="0.6" stroke-linecap="butt"/>
<line x1="163.40" y1="222.44" x2="166.10" y2="222.44" stroke="#444" stroke-width="0.6" stroke-linecap="butt"/>
<line x1="163.40" y1="221.02" x2="166.10" y2="221.02" stroke="#444" stroke-width="0.6" stroke-linecap="butt"/>
<line x1="157.60" y1="219.75" x2="166.10" y2="219.75" stroke="#222" stroke-width="1.0" stroke-linecap="butt"/>
<line x1="163.40" y1="211.40" x2="166.10" y2="211.40" stroke="#444" stroke-width="0.6" stroke-linecap="butt"/>
<line x1="163.40" y1="206.51" x2="166.10" y2="206.51" stroke="#444" stroke-width="0.6" stroke-linecap="butt"/>
<line x1="163.40" y1="203.04" x2="166.10" y2="203.04" stroke="#444" stroke-width="0.6" stroke-linecap="butt"/>
<line x1="163.40" y1="200.35" x2="166.10" y2="200.35" stroke="#444" stroke-width="0.6" stroke-linecap="butt"/>
<line x1="163.40" y1="198.16" x2="166.10" y2="198.16" stroke="#444" stroke-width="0.6" stroke-linecap="butt"/>
<line x1="163.40" y1="196.30" x2="166.10" y2="196.30" stroke="#444" stroke-width="0.6" stroke-linecap="butt"/>
<line x1="163.40" y1="194.69" x2="166.10" y2="194.69" stroke="#444" stroke-width="0.6" stroke-linecap="butt"/>
<line x1="163.40" y1="193.27" x2="166.10" y2="193.27" stroke="#444" stroke-width="0.6" stroke-linecap="butt"/>
<line x1="157.60" y1="192.00" x2="166.10" y2="192.00" stroke="#222" stroke-width="1.0" stroke-linecap="butt"/>
<text transform="translate(170.50 211.60) scale(1.03 1)" font-size="16.8" font-weight="normal" text-anchor="start" fill="#111">20</text>
<text transform="translate(280.40 211.60) scale(1.03 1)" font-size="16.8" font-weight="normal" text-anchor="end" fill="#111">40</text>
<text transform="translate(280.00 299.40) scale(1.03 1)" font-size="16.8" font-weight="normal" text-anchor="end" fill="#111">0.1</text>
<line x1="13.20" y1="40.00" x2="13.20" y2="135.50" stroke="#111" stroke-width="1.5" stroke-linecap="butt"/>
<path d="M13 29.5 L20.6 44.2 L5.4 44.2 Z" fill="#111"/>
<text transform="translate(22.50 189.40) rotate(-90) scale(0.995 1)" font-size="22.5" font-weight="bold" text-anchor="start" fill="#111">CD3</text>
<line x1="10.80" y1="199.50" x2="10.80" y2="303.30" stroke="#111" stroke-width="1.5" stroke-linecap="butt"/>
<line x1="31.00" y1="163.80" x2="115.50" y2="163.80" stroke="#111" stroke-width="1.5" stroke-linecap="butt"/>
<g transform="translate(125.40 171.00)" fill="#111"><text transform="translate(0.00 0) scale(1.0 1)" font-size="21" font-weight="bold">TCR</text><text transform="translate(42.00 0) scale(1.14 1)" font-size="24" font-weight="normal" font-family="Liberation Serif">αβ</text></g>
<line x1="200.50" y1="163.80" x2="272.00" y2="163.80" stroke="#111" stroke-width="1.5" stroke-linecap="butt"/>
<path d="M285 163.8 L270.8 156.4 L270.8 171.2 Z" fill="#111"/>
<line x1="31.00" y1="326.00" x2="115.50" y2="326.00" stroke="#111" stroke-width="1.5" stroke-linecap="butt"/>
<g transform="translate(126.50 332.00)" fill="#111"><text transform="translate(0.00 0) scale(1.0 1)" font-size="21" font-weight="bold">TCR</text><text transform="translate(41.80 0) scale(1.07 1)" font-size="24" font-weight="normal" font-family="Liberation Serif">γδ</text></g>
<line x1="200.50" y1="326.00" x2="272.00" y2="326.00" stroke="#111" stroke-width="1.5" stroke-linecap="butt"/>
<path d="M285 326 L270.8 318.6 L270.8 333.4 Z" fill="#111"/>
<line x1="366.00" y1="34.90" x2="366.00" y2="326.40" stroke="#111" stroke-width="1.45" stroke-linecap="butt"/>
<line x1="359.80" y1="325.70" x2="366.00" y2="325.70" stroke="#111" stroke-width="1.45" stroke-linecap="butt"/>
<line x1="362.20" y1="296.59" x2="366.00" y2="296.59" stroke="#111" stroke-width="1.2" stroke-linecap="butt"/>
<line x1="362.20" y1="279.56" x2="366.00" y2="279.56" stroke="#111" stroke-width="1.2" stroke-linecap="butt"/>
<line x1="362.20" y1="267.48" x2="366.00" y2="267.48" stroke="#111" stroke-width="1.2" stroke-linecap="butt"/>
<line x1="362.20" y1="258.11" x2="366.00" y2="258.11" stroke="#111" stroke-width="1.2" stroke-linecap="butt"/>
<line x1="362.20" y1="250.45" x2="366.00" y2="250.45" stroke="#111" stroke-width="1.2" stroke-linecap="butt"/>
<line x1="362.20" y1="243.98" x2="366.00" y2="243.98" stroke="#111" stroke-width="1.2" stroke-linecap="butt"/>
<line x1="362.20" y1="238.37" x2="366.00" y2="238.37" stroke="#111" stroke-width="1.2" stroke-linecap="butt"/>
<line x1="362.20" y1="233.42" x2="366.00" y2="233.42" stroke="#111" stroke-width="1.2" stroke-linecap="butt"/>
<line x1="359.80" y1="229.00" x2="366.00" y2="229.00" stroke="#111" stroke-width="1.45" stroke-linecap="butt"/>
<line x1="362.20" y1="199.89" x2="366.00" y2="199.89" stroke="#111" stroke-width="1.2" stroke-linecap="butt"/>
<line x1="362.20" y1="182.86" x2="366.00" y2="182.86" stroke="#111" stroke-width="1.2" stroke-linecap="butt"/>
<line x1="362.20" y1="170.78" x2="366.00" y2="170.78" stroke="#111" stroke-width="1.2" stroke-linecap="butt"/>
<line x1="362.20" y1="161.41" x2="366.00" y2="161.41" stroke="#111" stroke-width="1.2" stroke-linecap="butt"/>
<line x1="362.20" y1="153.75" x2="366.00" y2="153.75" stroke="#111" stroke-width="1.2" stroke-linecap="butt"/>
<line x1="362.20" y1="147.28" x2="366.00" y2="147.28" stroke="#111" stroke-width="1.2" stroke-linecap="butt"/>
<line x1="362.20" y1="141.67" x2="366.00" y2="141.67" stroke="#111" stroke-width="1.2" stroke-linecap="butt"/>
<line x1="362.20" y1="136.72" x2="366.00" y2="136.72" stroke="#111" stroke-width="1.2" stroke-linecap="butt"/>
<line x1="359.80" y1="132.30" x2="366.00" y2="132.30" stroke="#111" stroke-width="1.45" stroke-linecap="butt"/>
<line x1="362.20" y1="103.19" x2="366.00" y2="103.19" stroke="#111" stroke-width="1.2" stroke-linecap="butt"/>
<line x1="362.20" y1="86.16" x2="366.00" y2="86.16" stroke="#111" stroke-width="1.2" stroke-linecap="butt"/>
<line x1="362.20" y1="74.08" x2="366.00" y2="74.08" stroke="#111" stroke-width="1.2" stroke-linecap="butt"/>
<line x1="362.20" y1="64.71" x2="366.00" y2="64.71" stroke="#111" stroke-width="1.2" stroke-linecap="butt"/>
<line x1="362.20" y1="57.05" x2="366.00" y2="57.05" stroke="#111" stroke-width="1.2" stroke-linecap="butt"/>
<line x1="362.20" y1="50.58" x2="366.00" y2="50.58" stroke="#111" stroke-width="1.2" stroke-linecap="butt"/>
<line x1="362.20" y1="44.97" x2="366.00" y2="44.97" stroke="#111" stroke-width="1.2" stroke-linecap="butt"/>
<line x1="362.20" y1="40.02" x2="366.00" y2="40.02" stroke="#111" stroke-width="1.2" stroke-linecap="butt"/>
<line x1="359.80" y1="35.60" x2="366.00" y2="35.60" stroke="#111" stroke-width="1.45" stroke-linecap="butt"/>
<text transform="translate(357.90 41.20) scale(1.03 1)" font-size="17.8" font-weight="normal" text-anchor="end" fill="#111">100</text>
<text transform="translate(357.90 138.70) scale(1.03 1)" font-size="17.8" font-weight="normal" text-anchor="end" fill="#111">10</text>
<text transform="translate(357.90 235.40) scale(1.03 1)" font-size="17.8" font-weight="normal" text-anchor="end" fill="#111">1</text>
<text transform="translate(357.90 332.40) scale(1.03 1)" font-size="17.8" font-weight="normal" text-anchor="end" fill="#111">0.1</text>
<line x1="366.00" y1="229.00" x2="514.80" y2="229.00" stroke="#111" stroke-width="1.45" stroke-linecap="butt"/>
<rect x="383.6" y="118.17" width="46.4" height="110.83" fill="#fff" stroke="#111" stroke-width="1.45"/>
<line x1="406.80" y1="118.17" x2="406.80" y2="100.80" stroke="#111" stroke-width="1.35" stroke-linecap="butt"/>
<line x1="402.20" y1="100.80" x2="411.60" y2="100.80" stroke="#111" stroke-width="1.4" stroke-linecap="butt"/>
<rect x="453.8" y="229.00" width="46.4" height="51.60" fill="#080808"/>
<line x1="476.80" y1="280.00" x2="476.80" y2="312.60" stroke="#111" stroke-width="1.35" stroke-linecap="butt"/>
<line x1="472.20" y1="312.60" x2="481.80" y2="312.60" stroke="#111" stroke-width="1.4" stroke-linecap="butt"/>
<g transform="translate(325.90 262.60) rotate(-90)" fill="#111"><text transform="translate(0.00 0) scale(1.04 1)" font-size="18" font-weight="normal">Ratio</text><text transform="translate(50.10 0) scale(0.985 1)" font-size="18" font-weight="normal">TCR</text><text transform="translate(86.50 0) scale(1.185 1)" font-size="19.5" font-weight="normal" font-family="Liberation Serif">αβ</text><text transform="translate(108.40 -5.2) scale(1.0 1)" font-size="13" font-weight="normal">+</text><text transform="translate(115.80 0) scale(1.0 1)" font-size="18" font-weight="normal">/</text><text transform="translate(122.20 0) scale(0.985 1)" font-size="18" font-weight="normal">TCR</text><text transform="translate(159.00 0) scale(1.05 1)" font-size="19" font-weight="normal" font-family="Liberation Serif">γδ</text><text transform="translate(177.20 -5.2) scale(1.0 1)" font-size="13" font-weight="normal">+</text></g>
<line x1="67.60" y1="416.60" x2="67.60" y2="661.90" stroke="#111" stroke-width="1.4" stroke-linecap="butt"/>
<line x1="61.00" y1="657.30" x2="67.60" y2="657.30" stroke="#111" stroke-width="1.4" stroke-linecap="butt"/>
<line x1="63.80" y1="627.30" x2="67.60" y2="627.30" stroke="#111" stroke-width="1.4" stroke-linecap="butt"/>
<line x1="61.00" y1="597.30" x2="67.60" y2="597.30" stroke="#111" stroke-width="1.4" stroke-linecap="butt"/>
<line x1="63.80" y1="567.30" x2="67.60" y2="567.30" stroke="#111" stroke-width="1.4" stroke-linecap="butt"/>
<line x1="61.00" y1="537.30" x2="67.60" y2="537.30" stroke="#111" stroke-width="1.4" stroke-linecap="butt"/>
<line x1="63.80" y1="507.30" x2="67.60" y2="507.30" stroke="#111" stroke-width="1.4" stroke-linecap="butt"/>
<line x1="61.00" y1="477.30" x2="67.60" y2="477.30" stroke="#111" stroke-width="1.4" stroke-linecap="butt"/>
<line x1="63.80" y1="447.30" x2="67.60" y2="447.30" stroke="#111" stroke-width="1.4" stroke-linecap="butt"/>
<line x1="61.00" y1="417.30" x2="67.60" y2="417.30" stroke="#111" stroke-width="1.4" stroke-linecap="butt"/>
<text transform="translate(54.20 664.50) scale(1.06 1)" font-size="18" font-weight="normal" text-anchor="end" fill="#111">0</text>
<text transform="translate(54.20 603.50) scale(1.06 1)" font-size="18" font-weight="normal" text-anchor="end" fill="#111">10</text>
<text transform="translate(54.20 543.50) scale(1.06 1)" font-size="18" font-weight="normal" text-anchor="end" fill="#111">20</text>
<text transform="translate(54.20 483.50) scale(1.06 1)" font-size="18" font-weight="normal" text-anchor="end" fill="#111">30</text>
<text transform="translate(54.20 423.50) scale(1.06 1)" font-size="18" font-weight="normal" text-anchor="end" fill="#111">40</text>
<line x1="67.60" y1="657.30" x2="241.10" y2="657.30" stroke="#111" stroke-width="1.4" stroke-linecap="butt"/>
<line x1="103.20" y1="657.30" x2="103.20" y2="661.30" stroke="#111" stroke-width="1.3" stroke-linecap="butt"/>
<line x1="137.50" y1="657.30" x2="137.50" y2="661.30" stroke="#111" stroke-width="1.3" stroke-linecap="butt"/>
<line x1="171.80" y1="657.30" x2="171.80" y2="662.50" stroke="#111" stroke-width="1.3" stroke-linecap="butt"/>
<line x1="206.10" y1="657.30" x2="206.10" y2="661.30" stroke="#111" stroke-width="1.3" stroke-linecap="butt"/>
<line x1="240.40" y1="657.30" x2="240.40" y2="662.50" stroke="#111" stroke-width="1.3" stroke-linecap="butt"/>
<line x1="78.10" y1="663.80" x2="82.90" y2="649.60" stroke="#111" stroke-width="1.3" stroke-linecap="butt"/>
<line x1="84.80" y1="663.80" x2="89.60" y2="649.60" stroke="#111" stroke-width="1.3" stroke-linecap="butt"/>
<text transform="translate(103.00 682.20) scale(1.08 1)" font-size="17" font-weight="normal" text-anchor="middle" fill="#111">16</text>
<text transform="translate(172.00 682.20) scale(1.08 1)" font-size="17" font-weight="normal" text-anchor="middle" fill="#111">24</text>
<text transform="translate(239.40 682.20) scale(1.08 1)" font-size="17" font-weight="normal" text-anchor="middle" fill="#111">32</text>
<text transform="translate(156.20 714.20) scale(1.04 1)" font-size="18" font-weight="normal" text-anchor="middle" fill="#111">Days</text>
<g transform="translate(18.90 625.50) rotate(-90)" fill="#111"><text transform="translate(0.00 0) scale(1.044 1)" font-size="18" font-weight="normal">Percentage of</text><text transform="translate(121.40 0) scale(0.98 1)" font-size="18" font-weight="normal">TCR</text><text transform="translate(157.10 0) scale(1.05 1)" font-size="19" font-weight="normal" font-family="Liberation Serif">γδ</text><text transform="translate(175.10 -5.2) scale(1.0 1)" font-size="13" font-weight="normal">+</text></g>
<polyline fill="none" stroke="#111" stroke-width="1.5" points="113.3,633.1 147.9,583.3 190.4,545.0 242.3,452.3"/>
<polyline fill="none" stroke="#111" stroke-width="1.5" points="113.3,654.4 147.5,652.7 190.4,640.8 242.3,632.1"/>
<rect x="109.0" y="628.8" width="8.6" height="8.6" fill="#111"/>
<rect x="143.6" y="579.0" width="8.6" height="8.6" fill="#111"/>
<rect x="186.1" y="540.7" width="8.6" height="8.6" fill="#111"/>
<rect x="238.0" y="448.0" width="8.6" height="8.6" fill="#111"/>
<circle cx="113.3" cy="654.4" r="3.65" fill="#fff" stroke="#111" stroke-width="1.5"/>
<circle cx="147.5" cy="652.7" r="3.65" fill="#fff" stroke="#111" stroke-width="1.5"/>
<circle cx="190.4" cy="640.8" r="3.65" fill="#fff" stroke="#111" stroke-width="1.5"/>
<circle cx="242.3" cy="632.1" r="3.65" fill="#fff" stroke="#111" stroke-width="1.5"/>
<line x1="346.70" y1="417.30" x2="346.70" y2="661.88" stroke="#111" stroke-width="1.6" stroke-linecap="butt"/>
<line x1="340.00" y1="656.48" x2="347.00" y2="656.48" stroke="#111" stroke-width="1.6" stroke-linecap="butt"/>
<line x1="341.30" y1="638.53" x2="347.00" y2="638.53" stroke="#111" stroke-width="1.5" stroke-linecap="butt"/>
<line x1="341.30" y1="628.03" x2="347.00" y2="628.03" stroke="#111" stroke-width="1.5" stroke-linecap="butt"/>
<line x1="341.30" y1="620.59" x2="347.00" y2="620.59" stroke="#111" stroke-width="1.5" stroke-linecap="butt"/>
<line x1="341.30" y1="614.81" x2="347.00" y2="614.81" stroke="#111" stroke-width="1.5" stroke-linecap="butt"/>
<line x1="341.30" y1="610.09" x2="347.00" y2="610.09" stroke="#111" stroke-width="1.5" stroke-linecap="butt"/>
<line x1="341.30" y1="606.10" x2="347.00" y2="606.10" stroke="#111" stroke-width="1.5" stroke-linecap="butt"/>
<line x1="341.30" y1="602.64" x2="347.00" y2="602.64" stroke="#111" stroke-width="1.5" stroke-linecap="butt"/>
<line x1="341.30" y1="599.59" x2="347.00" y2="599.59" stroke="#111" stroke-width="1.5" stroke-linecap="butt"/>
<line x1="340.00" y1="596.86" x2="347.00" y2="596.86" stroke="#111" stroke-width="1.6" stroke-linecap="butt"/>
<line x1="341.30" y1="578.91" x2="347.00" y2="578.91" stroke="#111" stroke-width="1.5" stroke-linecap="butt"/>
<line x1="341.30" y1="568.41" x2="347.00" y2="568.41" stroke="#111" stroke-width="1.5" stroke-linecap="butt"/>
<line x1="341.30" y1="560.97" x2="347.00" y2="560.97" stroke="#111" stroke-width="1.5" stroke-linecap="butt"/>
<line x1="341.30" y1="555.19" x2="347.00" y2="555.19" stroke="#111" stroke-width="1.5" stroke-linecap="butt"/>
<line x1="341.30" y1="550.47" x2="347.00" y2="550.47" stroke="#111" stroke-width="1.5" stroke-linecap="butt"/>
<line x1="341.30" y1="546.48" x2="347.00" y2="546.48" stroke="#111" stroke-width="1.5" stroke-linecap="butt"/>
<line x1="341.30" y1="543.02" x2="347.00" y2="543.02" stroke="#111" stroke-width="1.5" stroke-linecap="butt"/>
<line x1="341.30" y1="539.97" x2="347.00" y2="539.97" stroke="#111" stroke-width="1.5" stroke-linecap="butt"/>
<line x1="340.00" y1="537.24" x2="347.00" y2="537.24" stroke="#111" stroke-width="1.6" stroke-linecap="butt"/>
<line x1="341.30" y1="519.29" x2="347.00" y2="519.29" stroke="#111" stroke-width="1.5" stroke-linecap="butt"/>
<line x1="341.30" y1="508.79" x2="347.00" y2="508.79" stroke="#111" stroke-width="1.5" stroke-linecap="butt"/>
<line x1="341.30" y1="501.35" x2="347.00" y2="501.35" stroke="#111" stroke-width="1.5" stroke-linecap="butt"/>
<line x1="341.30" y1="495.57" x2="347.00" y2="495.57" stroke="#111" stroke-width="1.5" stroke-linecap="butt"/>
<line x1="341.30" y1="490.85" x2="347.00" y2="490.85" stroke="#111" stroke-width="1.5" stroke-linecap="butt"/>
<line x1="341.30" y1="486.86" x2="347.00" y2="486.86" stroke="#111" stroke-width="1.5" stroke-linecap="butt"/>
<line x1="341.30" y1="483.40" x2="347.00" y2="483.40" stroke="#111" stroke-width="1.5" stroke-linecap="butt"/>
<line x1="341.30" y1="480.35" x2="347.00" y2="480.35" stroke="#111" stroke-width="1.5" stroke-linecap="butt"/>
<line x1="340.00" y1="477.62" x2="347.00" y2="477.62" stroke="#111" stroke-width="1.6" stroke-linecap="butt"/>
<line x1="341.30" y1="459.67" x2="347.00" y2="459.67" stroke="#111" stroke-width="1.5" stroke-linecap="butt"/>
<line x1="341.30" y1="449.17" x2="347.00" y2="449.17" stroke="#111" stroke-width="1.5" stroke-linecap="butt"/>
<line x1="341.30" y1="441.73" x2="347.00" y2="441.73" stroke="#111" stroke-width="1.5" stroke-linecap="butt"/>
<line x1="341.30" y1="435.95" x2="347.00" y2="435.95" stroke="#111" stroke-width="1.5" stroke-linecap="butt"/>
<line x1="341.30" y1="431.23" x2="347.00" y2="431.23" stroke="#111" stroke-width="1.5" stroke-linecap="butt"/>
<line x1="341.30" y1="427.24" x2="347.00" y2="427.24" stroke="#111" stroke-width="1.5" stroke-linecap="butt"/>
<line x1="341.30" y1="423.78" x2="347.00" y2="423.78" stroke="#111" stroke-width="1.5" stroke-linecap="butt"/>
<line x1="341.30" y1="420.73" x2="347.00" y2="420.73" stroke="#111" stroke-width="1.5" stroke-linecap="butt"/>
<line x1="339.80" y1="418.00" x2="347.00" y2="418.00" stroke="#111" stroke-width="1.5" stroke-linecap="butt"/>
<text transform="translate(337.80 424.10) scale(1.04 1)" font-size="18" font-weight="normal" text-anchor="end" fill="#111">100</text>
<text transform="translate(337.80 483.72) scale(1.04 1)" font-size="18" font-weight="normal" text-anchor="end" fill="#111">10</text>
<text transform="translate(336.50 543.34) scale(1.04 1)" font-size="18" font-weight="normal" text-anchor="end" fill="#111">1</text>
<text transform="translate(336.50 602.96) scale(1.04 1)" font-size="18" font-weight="normal" text-anchor="end" fill="#111">0.1</text>
<text transform="translate(336.50 662.58) scale(1.04 1)" font-size="18" font-weight="normal" text-anchor="end" fill="#111">0.01</text>
<line x1="340.40" y1="656.48" x2="520.00" y2="656.48" stroke="#111" stroke-width="1.5" stroke-linecap="butt"/>
<line x1="389.60" y1="656.48" x2="389.60" y2="661.88" stroke="#111" stroke-width="1.3" stroke-linecap="butt"/>
<line x1="420.36" y1="656.48" x2="420.36" y2="661.88" stroke="#111" stroke-width="1.3" stroke-linecap="butt"/>
<line x1="451.12" y1="656.48" x2="451.12" y2="661.88" stroke="#111" stroke-width="1.3" stroke-linecap="butt"/>
<line x1="481.88" y1="656.48" x2="481.88" y2="661.88" stroke="#111" stroke-width="1.3" stroke-linecap="butt"/>
<line x1="512.64" y1="656.48" x2="512.64" y2="661.88" stroke="#111" stroke-width="1.3" stroke-linecap="butt"/>
<line x1="360.80" y1="663.00" x2="365.80" y2="648.40" stroke="#111" stroke-width="1.5" stroke-linecap="butt"/>
<line x1="367.00" y1="663.00" x2="372.00" y2="648.40" stroke="#111" stroke-width="1.5" stroke-linecap="butt"/>
<text transform="translate(346.60 682.70) scale(1.03 1)" font-size="18" font-weight="normal" text-anchor="middle" fill="#111">0</text>
<text transform="translate(391.60 682.70) scale(1.03 1)" font-size="18" font-weight="normal" text-anchor="middle" fill="#111">16</text>
<text transform="translate(450.40 682.70) scale(1.03 1)" font-size="18" font-weight="normal" text-anchor="middle" fill="#111">24</text>
<text transform="translate(509.20 682.70) scale(1.03 1)" font-size="18" font-weight="normal" text-anchor="middle" fill="#111">32</text>
<text transform="translate(422.50 714.20) scale(1.04 1)" font-size="18" font-weight="normal" text-anchor="middle" fill="#111">Days</text>
<g transform="translate(295.50 651.40) rotate(-90)" fill="#111"><text transform="translate(0.00 0) scale(0.98 1)" font-size="18" font-weight="normal">TCR</text><text transform="translate(36.40 0) scale(1.0 1)" font-size="20" font-weight="normal" font-family="Liberation Serif">γδ</text><text transform="translate(54.20 -5.2) scale(1.0 1)" font-size="13" font-weight="normal">+</text><text transform="translate(66.40 0) scale(1.0 1)" font-size="18" font-weight="normal">cell</text><text transform="translate(101.60 0) scale(1.0 1)" font-size="18" font-weight="normal">numbers</text><text transform="translate(176.20 0) scale(1.0 1)" font-size="18" font-weight="normal">(x10</text><text transform="translate(212.40 -6.8) scale(1.0 1)" font-size="13.2" font-weight="normal">-3</text><text transform="translate(226.30 0) scale(1.0 1)" font-size="18" font-weight="normal">)</text></g>
<polyline fill="none" stroke="#111" stroke-width="1.5" points="397.3,537.3 428.2,506.4 466.8,471.5 512.6,459.5"/>
<polyline fill="none" stroke="#111" stroke-width="1.5" points="397.3,613.8 428.2,571.5 466.8,515.4 512.6,526.0"/>
<rect x="393.0" y="533.0" width="8.6" height="8.6" fill="#111"/>
<rect x="423.9" y="502.1" width="8.6" height="8.6" fill="#111"/>
<rect x="462.5" y="467.2" width="8.6" height="8.6" fill="#111"/>
<rect x="508.3" y="455.2" width="8.6" height="8.6" fill="#111"/>
<circle cx="397.3" cy="613.8" r="3.65" fill="#fff" stroke="#111" stroke-width="1.5"/>
<circle cx="428.2" cy="571.5" r="3.65" fill="#fff" stroke="#111" stroke-width="1.5"/>
<circle cx="466.8" cy="515.4" r="3.65" fill="#fff" stroke="#111" stroke-width="1.5"/>
<circle cx="512.6" cy="526.0" r="3.65" fill="#fff" stroke="#111" stroke-width="1.5"/>
</svg>
</body></html>
